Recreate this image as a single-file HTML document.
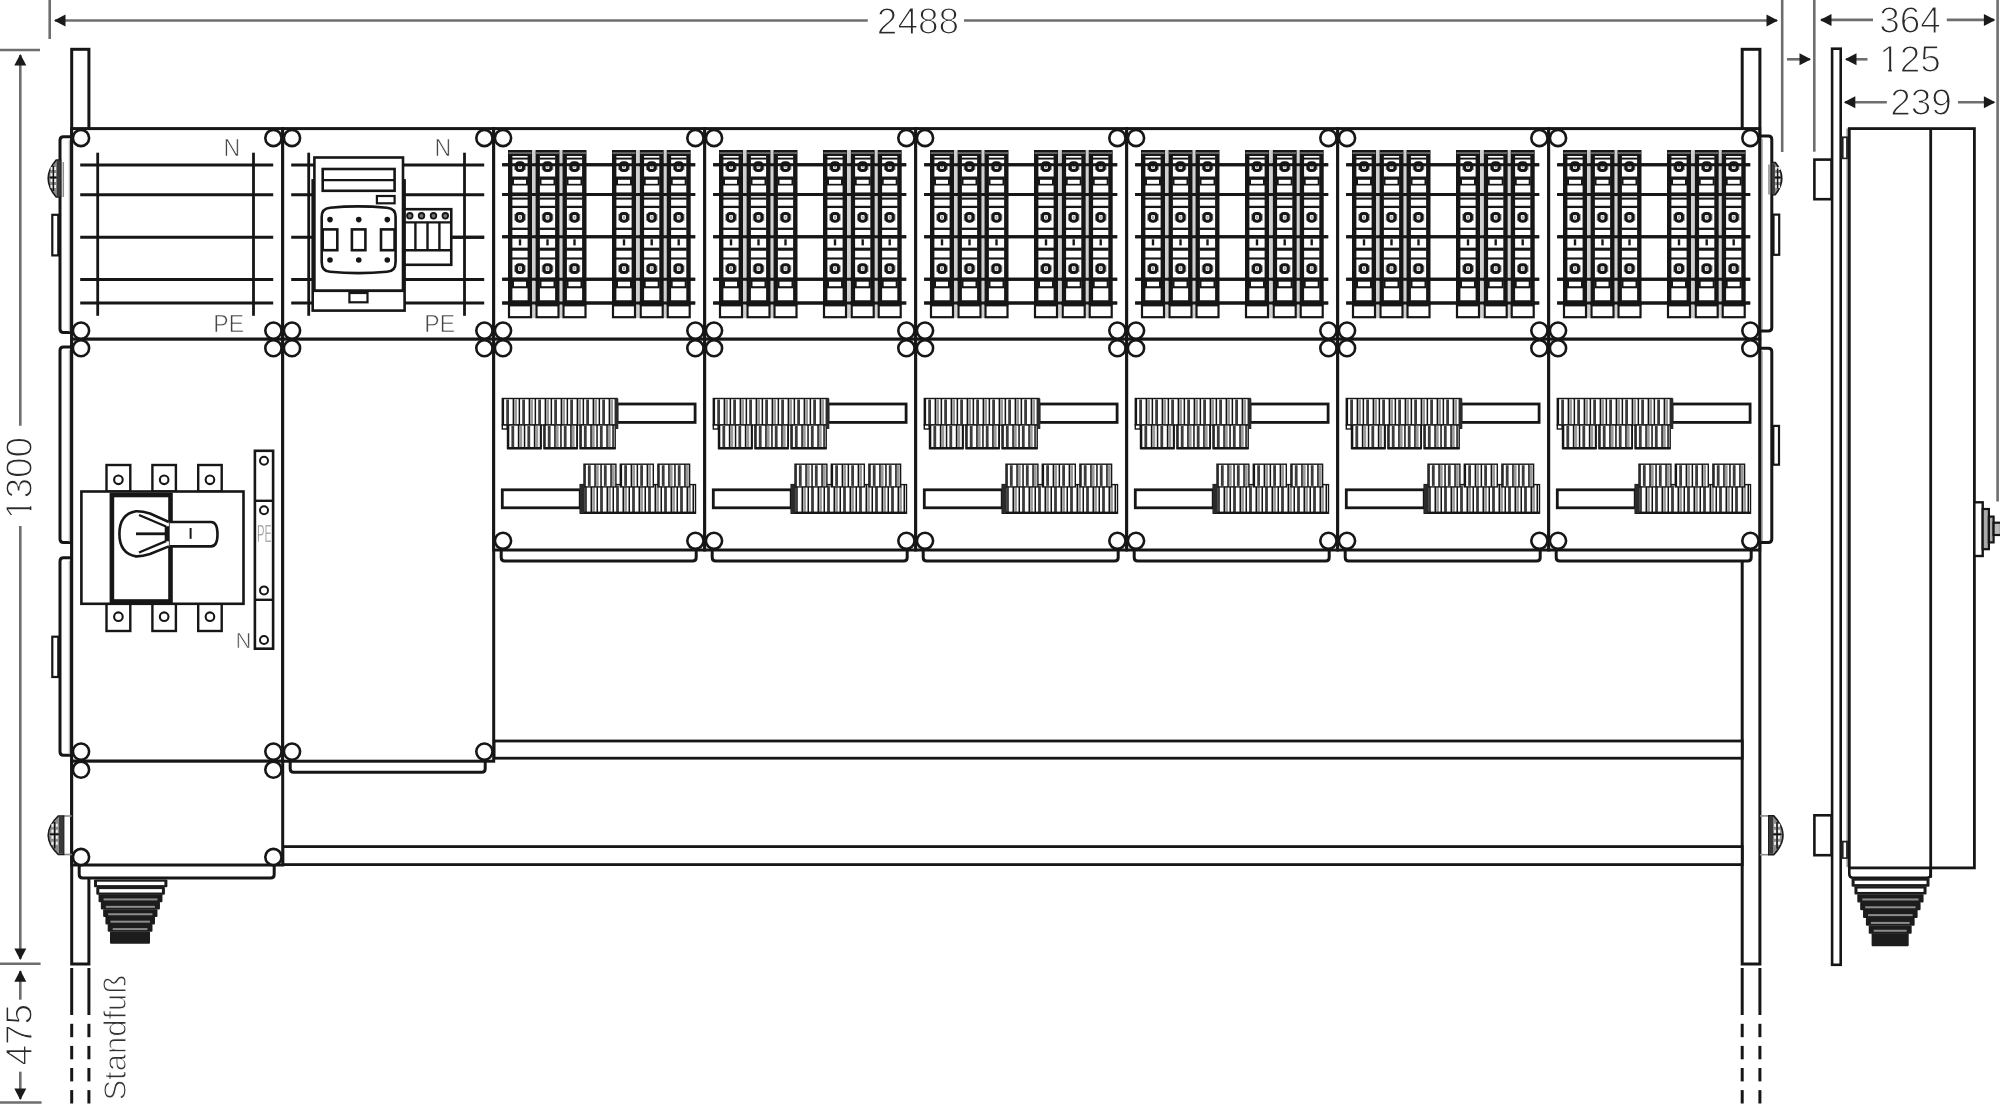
<!DOCTYPE html>
<html><head><meta charset="utf-8"><style>
html,body{margin:0;padding:0;background:#fff;width:2000px;height:1104px;overflow:hidden}
svg{display:block;will-change:transform}
text{font-family:"Liberation Sans",sans-serif}
</style></head><body>
<svg width="2000" height="1104" viewBox="0 0 2000 1104">
<rect x="0" y="0" width="2000" height="1104" fill="#fff"/>
<line x1="49.7" y1="0" x2="49.7" y2="39" stroke="#6e6e6e" stroke-width="2.6" />
<line x1="55" y1="20.5" x2="867.8" y2="20.5" stroke="#6e6e6e" stroke-width="2.6" />
<line x1="964" y1="20.5" x2="1777" y2="20.5" stroke="#6e6e6e" stroke-width="2.6" />
<text x="918" y="33.5" font-size="37" fill="#2a2a2a" text-anchor="middle" stroke="#fff" stroke-width="1.2" >2488</text>
<line x1="1782.2" y1="0" x2="1782.2" y2="152" stroke="#6e6e6e" stroke-width="2.6" />
<line x1="0" y1="50" x2="40" y2="50" stroke="#6e6e6e" stroke-width="2.6" />
<line x1="20.3" y1="55" x2="20.3" y2="425.8" stroke="#6e6e6e" stroke-width="2.6" />
<line x1="20.3" y1="526" x2="20.3" y2="959" stroke="#6e6e6e" stroke-width="2.6" />
<text x="32" y="478" font-size="37" fill="#2a2a2a" text-anchor="middle" stroke="#fff" stroke-width="1.2" transform="rotate(-90 32 478)" >1300</text>
<g transform="rotate(-90 32 478)">
<rect x="-6.63" y="474.57" width="6.59" height="4.63" fill="#fff"/>
<rect x="3.6" y="474.57" width="6.31" height="4.63" fill="#fff"/>
</g>
<line x1="0" y1="963.8" x2="40.6" y2="963.8" stroke="#6e6e6e" stroke-width="2.6" />
<line x1="20.3" y1="971" x2="20.3" y2="999.7" stroke="#6e6e6e" stroke-width="2.6" />
<text x="32.3" y="1034.7" font-size="37" fill="#2a2a2a" text-anchor="middle" stroke="#fff" stroke-width="1.2" transform="rotate(-90 32.3 1034.7)" >475</text>
<line x1="20.3" y1="1071.7" x2="20.3" y2="1099" stroke="#6e6e6e" stroke-width="2.6" />
<line x1="0" y1="1102.5" x2="41.6" y2="1102.5" stroke="#6e6e6e" stroke-width="2.6" />
<text x="125.6" y="1037.7" font-size="31" fill="#333" text-anchor="middle" stroke="#fff" stroke-width="1" transform="rotate(-90 125.6 1037.7)" >Standfu&#223;</text>
<line x1="1787" y1="59.3" x2="1810" y2="59.3" stroke="#6e6e6e" stroke-width="2.6" />
<line x1="1814.3" y1="0" x2="1814.3" y2="151.7" stroke="#6e6e6e" stroke-width="2.6" />
<line x1="1846" y1="59.3" x2="1867.5" y2="59.3" stroke="#6e6e6e" stroke-width="2.6" />
<text x="1910" y="72.4" font-size="37" fill="#2a2a2a" text-anchor="middle" stroke="#fff" stroke-width="1.2" >125</text>
<g>
<rect x="1881.66" y="68.97" width="6.59" height="4.63" fill="#fff"/>
<rect x="1891.89" y="68.97" width="6.31" height="4.63" fill="#fff"/>
</g>
<line x1="1821" y1="19.9" x2="1873" y2="19.9" stroke="#6e6e6e" stroke-width="2.6" />
<text x="1910" y="32.8" font-size="37" fill="#2a2a2a" text-anchor="middle" stroke="#fff" stroke-width="1.2" >364</text>
<line x1="1946.8" y1="19.9" x2="1994" y2="19.9" stroke="#6e6e6e" stroke-width="2.6" />
<line x1="1997.6" y1="0" x2="1997.6" y2="501.6" stroke="#6e6e6e" stroke-width="2.6" />
<line x1="1845" y1="102.3" x2="1886.8" y2="102.3" stroke="#6e6e6e" stroke-width="2.6" />
<text x="1921" y="115.3" font-size="37" fill="#2a2a2a" text-anchor="middle" stroke="#fff" stroke-width="1.2" >239</text>
<line x1="1958" y1="102.3" x2="1994" y2="102.3" stroke="#6e6e6e" stroke-width="2.6" />
<polygon points="54,20.5 65.5,14.5 65.5,26.5" fill="#1a1a1a"/>
<polygon points="1778,20.5 1766.5,14.5 1766.5,26.5" fill="#1a1a1a"/>
<polygon points="20.3,54 14.3,65.5 26.3,65.5" fill="#1a1a1a"/>
<polygon points="20.3,960 14.3,948.5 26.3,948.5" fill="#1a1a1a"/>
<polygon points="20.3,970.3 14.3,981.8 26.3,981.8" fill="#1a1a1a"/>
<polygon points="20.3,1100 14.3,1088.5 26.3,1088.5" fill="#1a1a1a"/>
<polygon points="1811,59.3 1799.5,53.3 1799.5,65.3" fill="#1a1a1a"/>
<polygon points="1845,59.3 1856.5,53.3 1856.5,65.3" fill="#1a1a1a"/>
<polygon points="1820,19.9 1831.5,13.9 1831.5,25.9" fill="#1a1a1a"/>
<polygon points="1995.4,19.9 1983.9,13.9 1983.9,25.9" fill="#1a1a1a"/>
<polygon points="1843.8,102.3 1855.3,96.3 1855.3,108.3" fill="#1a1a1a"/>
<polygon points="1995.4,102.3 1983.9,96.3 1983.9,108.3" fill="#1a1a1a"/>
<rect x="71.7" y="49.3" width="17.2" height="914.7" stroke="#161616" stroke-width="3" fill="#fff" />
<line x1="71.7" y1="968" x2="71.7" y2="1015" stroke="#161616" stroke-width="3" />
<line x1="71.7" y1="1023.8" x2="71.7" y2="1037.2" stroke="#161616" stroke-width="3" />
<line x1="71.7" y1="1045.9" x2="71.7" y2="1059.3" stroke="#161616" stroke-width="3" />
<line x1="71.7" y1="1068" x2="71.7" y2="1081.4" stroke="#161616" stroke-width="3" />
<line x1="71.7" y1="1090.1" x2="71.7" y2="1103.5" stroke="#161616" stroke-width="3" />
<line x1="88.9" y1="968" x2="88.9" y2="1015" stroke="#161616" stroke-width="3" />
<line x1="88.9" y1="1023.8" x2="88.9" y2="1037.2" stroke="#161616" stroke-width="3" />
<line x1="88.9" y1="1045.9" x2="88.9" y2="1059.3" stroke="#161616" stroke-width="3" />
<line x1="88.9" y1="1068" x2="88.9" y2="1081.4" stroke="#161616" stroke-width="3" />
<line x1="88.9" y1="1090.1" x2="88.9" y2="1103.5" stroke="#161616" stroke-width="3" />
<rect x="1742.2" y="49.3" width="17.7" height="914.7" stroke="#161616" stroke-width="3" fill="#fff" />
<line x1="1742.2" y1="968" x2="1742.2" y2="1015" stroke="#161616" stroke-width="3" />
<line x1="1742.2" y1="1023.8" x2="1742.2" y2="1037.2" stroke="#161616" stroke-width="3" />
<line x1="1742.2" y1="1045.9" x2="1742.2" y2="1059.3" stroke="#161616" stroke-width="3" />
<line x1="1742.2" y1="1068" x2="1742.2" y2="1081.4" stroke="#161616" stroke-width="3" />
<line x1="1742.2" y1="1090.1" x2="1742.2" y2="1103.5" stroke="#161616" stroke-width="3" />
<line x1="1759.9" y1="968" x2="1759.9" y2="1015" stroke="#161616" stroke-width="3" />
<line x1="1759.9" y1="1023.8" x2="1759.9" y2="1037.2" stroke="#161616" stroke-width="3" />
<line x1="1759.9" y1="1045.9" x2="1759.9" y2="1059.3" stroke="#161616" stroke-width="3" />
<line x1="1759.9" y1="1068" x2="1759.9" y2="1081.4" stroke="#161616" stroke-width="3" />
<line x1="1759.9" y1="1090.1" x2="1759.9" y2="1103.5" stroke="#161616" stroke-width="3" />
<rect x="494" y="741" width="1248.2" height="17.2" stroke="#161616" stroke-width="2.8" fill="#fff" />
<rect x="282.8" y="846.6" width="1459.4" height="18" stroke="#161616" stroke-width="2.8" fill="#fff" />
<path d="M501.2,550 L501.2,557.5 Q501.2,561 504.7,561 L692.7,561 Q696.2,561 696.2,557.5 L696.2,550" stroke="#161616" stroke-width="3" fill="#fff" />
<path d="M712.2,550 L712.2,557.5 Q712.2,561 715.7,561 L903.7,561 Q907.2,561 907.2,557.5 L907.2,550" stroke="#161616" stroke-width="3" fill="#fff" />
<path d="M923.2,550 L923.2,557.5 Q923.2,561 926.7,561 L1114.7,561 Q1118.2,561 1118.2,557.5 L1118.2,550" stroke="#161616" stroke-width="3" fill="#fff" />
<path d="M1134.2,550 L1134.2,557.5 Q1134.2,561 1137.7,561 L1325.7,561 Q1329.2,561 1329.2,557.5 L1329.2,550" stroke="#161616" stroke-width="3" fill="#fff" />
<path d="M1345.2,550 L1345.2,557.5 Q1345.2,561 1348.7,561 L1536.7,561 Q1540.2,561 1540.2,557.5 L1540.2,550" stroke="#161616" stroke-width="3" fill="#fff" />
<path d="M1556.2,550 L1556.2,557.5 Q1556.2,561 1559.7,561 L1747.7,561 Q1751.2,561 1751.2,557.5 L1751.2,550" stroke="#161616" stroke-width="3" fill="#fff" />
<path d="M290.2,761.2 L290.2,768.7 Q290.2,772.2 293.7,772.2 L481.7,772.2 Q485.2,772.2 485.2,768.7 L485.2,761.2" stroke="#161616" stroke-width="3" fill="#fff" />
<path d="M79.2,865 L79.2,874.5 Q79.2,878 82.7,878 L270.7,878 Q274.2,878 274.2,874.5 L274.2,865" stroke="#161616" stroke-width="3" fill="#fff" />
<rect x="94" y="879.5" width="73.4" height="7.82" fill="#1c1c1c" rx="1"/>
<rect x="97" y="881.7" width="67.4" height="3.4" fill="#fff"/>
<rect x="96.29" y="886.92" width="68.63" height="7.82" fill="#1c1c1c" rx="1"/>
<rect x="99.29" y="889.12" width="62.63" height="3.4" fill="#fff"/>
<rect x="98.57" y="894.34" width="63.86" height="7.82" fill="#1c1c1c" rx="1"/>
<rect x="103.57" y="898.42" width="53.86" height="2.0" fill="#8c8c8c"/>
<rect x="100.86" y="901.76" width="59.09" height="7.82" fill="#1c1c1c" rx="1"/>
<rect x="105.86" y="905.84" width="49.09" height="2.0" fill="#8c8c8c"/>
<rect x="103.14" y="909.17" width="54.31" height="7.82" fill="#1c1c1c" rx="1"/>
<rect x="108.14" y="913.25" width="44.31" height="2.0" fill="#8c8c8c"/>
<rect x="105.43" y="916.59" width="49.54" height="7.82" fill="#1c1c1c" rx="1"/>
<rect x="110.43" y="920.67" width="39.54" height="2.0" fill="#8c8c8c"/>
<rect x="107.71" y="924.01" width="44.77" height="7.82" fill="#1c1c1c" rx="1"/>
<rect x="112.71" y="928.09" width="34.77" height="2.0" fill="#8c8c8c"/>
<rect x="110" y="931.43" width="40" height="12.27" fill="#1c1c1c" rx="1"/>
<rect x="71.7" y="128.6" width="211" height="210.6" stroke="#161616" stroke-width="3" fill="#fff" />
<rect x="282.7" y="128.6" width="211" height="210.6" stroke="#161616" stroke-width="3" fill="#fff" />
<rect x="493.7" y="128.6" width="211" height="210.6" stroke="#161616" stroke-width="3" fill="#fff" />
<rect x="704.7" y="128.6" width="211" height="210.6" stroke="#161616" stroke-width="3" fill="#fff" />
<rect x="915.7" y="128.6" width="211" height="210.6" stroke="#161616" stroke-width="3" fill="#fff" />
<rect x="1126.7" y="128.6" width="211" height="210.6" stroke="#161616" stroke-width="3" fill="#fff" />
<rect x="1337.7" y="128.6" width="211" height="210.6" stroke="#161616" stroke-width="3" fill="#fff" />
<rect x="1548.7" y="128.6" width="211" height="210.6" stroke="#161616" stroke-width="3" fill="#fff" />
<rect x="71.7" y="339.2" width="211" height="422" stroke="#161616" stroke-width="3" fill="#fff" />
<rect x="282.7" y="339.2" width="211" height="422" stroke="#161616" stroke-width="3" fill="#fff" />
<rect x="493.7" y="339.2" width="211" height="210.8" stroke="#161616" stroke-width="3" fill="#fff" />
<rect x="704.7" y="339.2" width="211" height="210.8" stroke="#161616" stroke-width="3" fill="#fff" />
<rect x="915.7" y="339.2" width="211" height="210.8" stroke="#161616" stroke-width="3" fill="#fff" />
<rect x="1126.7" y="339.2" width="211" height="210.8" stroke="#161616" stroke-width="3" fill="#fff" />
<rect x="1337.7" y="339.2" width="211" height="210.8" stroke="#161616" stroke-width="3" fill="#fff" />
<rect x="1548.7" y="339.2" width="211" height="210.8" stroke="#161616" stroke-width="3" fill="#fff" />
<rect x="71.7" y="761.2" width="211" height="103.8" stroke="#161616" stroke-width="3" fill="#fff" />
<path d="M72,136.7 L63.5,136.7 Q60,136.7 60,140.2 L60,329 Q60,332.5 63.5,332.5 L72,332.5" stroke="#161616" stroke-width="3" fill="none" />
<path d="M72,347 L63.5,347 Q60,347 60,350.5 L60,539.1 Q60,542.6 63.5,542.6 L72,542.6" stroke="#161616" stroke-width="3" fill="none" />
<path d="M72,557.8 L63.5,557.8 Q60,557.8 60,561.3 L60,751.7 Q60,755.2 63.5,755.2 L72,755.2" stroke="#161616" stroke-width="3" fill="none" />
<line x1="69.3" y1="139.7" x2="69.3" y2="331.5" stroke="#b0b0b0" stroke-width="1.1" />
<line x1="69.3" y1="350" x2="69.3" y2="541.6" stroke="#b0b0b0" stroke-width="1.1" />
<line x1="69.3" y1="560.8" x2="69.3" y2="754.2" stroke="#b0b0b0" stroke-width="1.1" />
<line x1="1762.4" y1="139" x2="1762.4" y2="330" stroke="#b0b0b0" stroke-width="1.1" />
<path d="M1759.9,136 L1768.3,136 Q1771.8,136 1771.8,139.5 L1771.8,327.5 Q1771.8,331 1768.3,331 L1759.9,331" stroke="#161616" stroke-width="3" fill="none" />
<line x1="1762.4" y1="351.2" x2="1762.4" y2="541.4" stroke="#b0b0b0" stroke-width="1.1" />
<path d="M1759.9,348.2 L1768.3,348.2 Q1771.8,348.2 1771.8,351.7 L1771.8,538.9 Q1771.8,542.4 1768.3,542.4 L1759.9,542.4" stroke="#161616" stroke-width="3" fill="none" />
<rect x="52.3" y="214.8" width="6" height="40.6" stroke="#161616" stroke-width="2.2" fill="#fff" />
<rect x="52.3" y="636.7" width="6" height="40.3" stroke="#161616" stroke-width="2.2" fill="#fff" />
<rect x="1773.5" y="214.6" width="5.7" height="40.2" stroke="#161616" stroke-width="2.2" fill="#fff" />
<rect x="1773.3" y="425.9" width="5.7" height="38.8" stroke="#161616" stroke-width="2.2" fill="#fff" />
<line x1="63.3" y1="162" x2="63.3" y2="197" stroke="#8a8a8a" stroke-width="1.5" />
<path d="M60.5,160 L56.2,160 Q48.2,169.25 48.2,178.5 Q48.2,187.75 56.2,197 L60.5,197 Z" stroke="#1a1a1a" stroke-width="1.6" fill="#8c8c8c" />
<rect x="56.81" y="161" width="3.69" height="35" fill="#3a3a3a"/>
<rect x="53.87" y="167" width="2.2" height="3.0" fill="#f0f0f0"/>
<rect x="50.54" y="167" width="2.2" height="3.0" fill="#f0f0f0"/>
<rect x="53.87" y="173" width="2.2" height="3.0" fill="#f0f0f0"/>
<rect x="50.54" y="173" width="2.2" height="3.0" fill="#f0f0f0"/>
<rect x="53.87" y="179" width="2.2" height="3.0" fill="#f0f0f0"/>
<rect x="50.54" y="179" width="2.2" height="3.0" fill="#f0f0f0"/>
<rect x="53.87" y="185" width="2.2" height="3.0" fill="#f0f0f0"/>
<rect x="50.54" y="185" width="2.2" height="3.0" fill="#f0f0f0"/>
<line x1="53.37" y1="166" x2="53.37" y2="191" stroke="#111" stroke-width="1.5" />
<line x1="56.81" y1="177.5" x2="49.43" y2="177.5" stroke="#111" stroke-width="1.6" />
<line x1="63.6" y1="816" x2="71.7" y2="816" stroke="#8a8a8a" stroke-width="1.6" />
<line x1="63.6" y1="854.5" x2="71.7" y2="854.5" stroke="#8a8a8a" stroke-width="1.6" />
<path d="M63.6,816 L58.21,816 Q48.2,825.62 48.2,835.25 Q48.2,844.88 58.21,854.5 L63.6,854.5 Z" stroke="#1a1a1a" stroke-width="1.6" fill="#8c8c8c" />
<rect x="58.98" y="817" width="4.62" height="36.5" fill="#3a3a3a"/>
<rect x="55.57" y="823.75" width="2.2" height="3.0" fill="#f0f0f0"/>
<rect x="51.41" y="823.75" width="2.2" height="3.0" fill="#f0f0f0"/>
<rect x="55.57" y="829.75" width="2.2" height="3.0" fill="#f0f0f0"/>
<rect x="51.41" y="829.75" width="2.2" height="3.0" fill="#f0f0f0"/>
<rect x="55.57" y="835.75" width="2.2" height="3.0" fill="#f0f0f0"/>
<rect x="51.41" y="835.75" width="2.2" height="3.0" fill="#f0f0f0"/>
<rect x="55.57" y="841.75" width="2.2" height="3.0" fill="#f0f0f0"/>
<rect x="51.41" y="841.75" width="2.2" height="3.0" fill="#f0f0f0"/>
<line x1="54.67" y1="822" x2="54.67" y2="848.5" stroke="#111" stroke-width="1.5" />
<line x1="58.98" y1="834.25" x2="49.74" y2="834.25" stroke="#111" stroke-width="1.6" />
<line x1="1769" y1="164.5" x2="1769" y2="194.6" stroke="#8a8a8a" stroke-width="1.5" />
<path d="M1771.8,162.5 L1775.3,162.5 Q1781.8,170.53 1781.8,178.55 Q1781.8,186.58 1775.3,194.6 L1771.8,194.6 Z" stroke="#1a1a1a" stroke-width="1.6" fill="#8c8c8c" />
<rect x="1771.8" y="163.5" width="3" height="30.1" fill="#3a3a3a"/>
<rect x="1775.2" y="167.05" width="2.2" height="3.0" fill="#f0f0f0"/>
<rect x="1777.9" y="167.05" width="2.2" height="3.0" fill="#f0f0f0"/>
<rect x="1775.2" y="173.05" width="2.2" height="3.0" fill="#f0f0f0"/>
<rect x="1777.9" y="173.05" width="2.2" height="3.0" fill="#f0f0f0"/>
<rect x="1775.2" y="179.05" width="2.2" height="3.0" fill="#f0f0f0"/>
<rect x="1777.9" y="179.05" width="2.2" height="3.0" fill="#f0f0f0"/>
<rect x="1775.2" y="185.05" width="2.2" height="3.0" fill="#f0f0f0"/>
<rect x="1777.9" y="185.05" width="2.2" height="3.0" fill="#f0f0f0"/>
<line x1="1777.6" y1="168.5" x2="1777.6" y2="188.6" stroke="#111" stroke-width="1.5" />
<line x1="1774.8" y1="177.55" x2="1780.8" y2="177.55" stroke="#111" stroke-width="1.6" />
<line x1="1759.9" y1="815.9" x2="1768.8" y2="815.9" stroke="#8a8a8a" stroke-width="1.6" />
<line x1="1759.9" y1="854.7" x2="1768.8" y2="854.7" stroke="#8a8a8a" stroke-width="1.6" />
<path d="M1768.8,815.9 L1773.77,815.9 Q1783,825.6 1783,835.3 Q1783,845 1773.77,854.7 L1768.8,854.7 Z" stroke="#1a1a1a" stroke-width="1.6" fill="#8c8c8c" />
<rect x="1768.8" y="816.9" width="4.26" height="36.8" fill="#3a3a3a"/>
<rect x="1774.09" y="823.8" width="2.2" height="3.0" fill="#f0f0f0"/>
<rect x="1777.92" y="823.8" width="2.2" height="3.0" fill="#f0f0f0"/>
<rect x="1774.09" y="829.8" width="2.2" height="3.0" fill="#f0f0f0"/>
<rect x="1777.92" y="829.8" width="2.2" height="3.0" fill="#f0f0f0"/>
<rect x="1774.09" y="835.8" width="2.2" height="3.0" fill="#f0f0f0"/>
<rect x="1777.92" y="835.8" width="2.2" height="3.0" fill="#f0f0f0"/>
<rect x="1774.09" y="841.8" width="2.2" height="3.0" fill="#f0f0f0"/>
<rect x="1777.92" y="841.8" width="2.2" height="3.0" fill="#f0f0f0"/>
<line x1="1777.04" y1="821.9" x2="1777.04" y2="848.7" stroke="#111" stroke-width="1.5" />
<line x1="1773.06" y1="834.3" x2="1781.58" y2="834.3" stroke="#111" stroke-width="1.6" />
<line x1="80.2" y1="165" x2="273.2" y2="165" stroke="#161616" stroke-width="3" />
<line x1="80.2" y1="194.8" x2="273.2" y2="194.8" stroke="#161616" stroke-width="3" />
<line x1="80.2" y1="237.2" x2="273.2" y2="237.2" stroke="#161616" stroke-width="3" />
<line x1="80.2" y1="279.6" x2="273.2" y2="279.6" stroke="#161616" stroke-width="3" />
<line x1="80.2" y1="303" x2="273.2" y2="303" stroke="#161616" stroke-width="3" />
<line x1="97.7" y1="152.7" x2="97.7" y2="315.8" stroke="#161616" stroke-width="2.8" />
<line x1="253.5" y1="152.7" x2="253.5" y2="315.8" stroke="#161616" stroke-width="2.8" />
<text x="231.7" y="156.3" font-size="23" fill="#444" text-anchor="middle" stroke="#fff" stroke-width="0.6" >N</text>
<text x="228.7" y="332.3" font-size="23" fill="#444" text-anchor="middle" stroke="#fff" stroke-width="0.6" >PE</text>
<line x1="291.2" y1="165" x2="484.2" y2="165" stroke="#161616" stroke-width="3" />
<line x1="291.2" y1="194.8" x2="484.2" y2="194.8" stroke="#161616" stroke-width="3" />
<line x1="291.2" y1="237.2" x2="484.2" y2="237.2" stroke="#161616" stroke-width="3" />
<line x1="291.2" y1="279.6" x2="484.2" y2="279.6" stroke="#161616" stroke-width="3" />
<line x1="291.2" y1="303" x2="484.2" y2="303" stroke="#161616" stroke-width="3" />
<line x1="308.7" y1="152.7" x2="308.7" y2="315.8" stroke="#161616" stroke-width="2.8" />
<line x1="464.5" y1="152.7" x2="464.5" y2="315.8" stroke="#161616" stroke-width="2.8" />
<text x="442.7" y="156.3" font-size="23" fill="#444" text-anchor="middle" stroke="#fff" stroke-width="0.6" >N</text>
<text x="439.7" y="332.3" font-size="23" fill="#444" text-anchor="middle" stroke="#fff" stroke-width="0.6" >PE</text>
<rect x="312.7" y="180.4" width="91.9" height="130.2" stroke="#161616" stroke-width="2.6" fill="#fff" />
<rect x="314.4" y="157.5" width="88.6" height="133.3" stroke="#161616" stroke-width="2.6" fill="#fff" />
<line x1="312.7" y1="290.8" x2="404.6" y2="290.8" stroke="#161616" stroke-width="2.6" />
<rect x="322.7" y="169" width="71.9" height="21.8" stroke="#161616" stroke-width="2.6" fill="none" />
<line x1="322.7" y1="180.2" x2="394.6" y2="180.2" stroke="#161616" stroke-width="2.2" />
<rect x="376.9" y="196" width="17.7" height="7.3" stroke="#161616" stroke-width="2.2" fill="none" />
<path d="M330,207.8 Q358,205 387,207.8 Q395.6,208.5 395.6,217 L395.6,262 Q395.6,271.5 387,271.8 Q358,274.5 330,271.8 Q321.7,271.5 321.7,262 L321.7,217 Q321.7,208.5 330,207.8 Z" stroke="#161616" stroke-width="2.6" fill="#fff" />
<circle cx="330" cy="219.6" r="2.8" fill="#161616"/>
<circle cx="330" cy="260" r="2.8" fill="#161616"/>
<circle cx="358.75" cy="219.6" r="2.8" fill="#161616"/>
<circle cx="358.75" cy="260" r="2.8" fill="#161616"/>
<circle cx="387.3" cy="219.6" r="2.8" fill="#161616"/>
<circle cx="387.3" cy="260" r="2.8" fill="#161616"/>
<rect x="322.7" y="229.4" width="14.6" height="20.8" stroke="#161616" stroke-width="2.6" fill="none" />
<rect x="351.9" y="229.4" width="13.5" height="20.8" stroke="#161616" stroke-width="2.6" fill="none" />
<rect x="381" y="229.4" width="13.6" height="20.8" stroke="#161616" stroke-width="2.6" fill="none" />
<rect x="349.4" y="293" width="18.1" height="9.3" stroke="#161616" stroke-width="2.2" fill="none" />
<rect x="404.6" y="209.2" width="46.65" height="55.6" stroke="#161616" stroke-width="2.6" fill="#fff" />
<line x1="404.6" y1="222.3" x2="451.25" y2="222.3" stroke="#161616" stroke-width="2.2" />
<line x1="404.6" y1="250.2" x2="451.25" y2="250.2" stroke="#161616" stroke-width="2.4" />
<line x1="415.4" y1="222.3" x2="415.4" y2="250.2" stroke="#161616" stroke-width="2.4" />
<line x1="427.5" y1="222.3" x2="427.5" y2="250.2" stroke="#161616" stroke-width="2.4" />
<line x1="439.4" y1="222.3" x2="439.4" y2="250.2" stroke="#161616" stroke-width="2.4" />
<circle cx="409.8" cy="215.8" r="2.8" stroke="#161616" stroke-width="1.8" fill="#777"/>
<circle cx="421.5" cy="215.8" r="2.8" stroke="#161616" stroke-width="1.8" fill="#777"/>
<circle cx="433.5" cy="215.8" r="2.8" stroke="#161616" stroke-width="1.8" fill="#777"/>
<circle cx="445.3" cy="215.8" r="2.8" stroke="#161616" stroke-width="1.8" fill="#777"/>
<line x1="451.25" y1="237.2" x2="484.2" y2="237.2" stroke="#161616" stroke-width="3" />
<line x1="502.2" y1="164.8" x2="695.2" y2="164.8" stroke="#161616" stroke-width="3" />
<line x1="502.2" y1="194.5" x2="695.2" y2="194.5" stroke="#161616" stroke-width="3" />
<line x1="502.2" y1="236.8" x2="695.2" y2="236.8" stroke="#161616" stroke-width="3" />
<line x1="502.2" y1="279.3" x2="695.2" y2="279.3" stroke="#161616" stroke-width="3" />
<line x1="502.2" y1="303" x2="695.2" y2="303" stroke="#161616" stroke-width="3" />
<rect x="532" y="150" width="3" height="168" fill="#d0d0d0"/>
<rect x="559.5" y="150" width="3" height="168" fill="#d0d0d0"/>
<rect x="636" y="150" width="3" height="168" fill="#d0d0d0"/>
<rect x="663.7" y="150" width="3" height="168" fill="#d0d0d0"/>
<rect x="508" y="150" width="24" height="155.3" fill="#161616"/>
<rect x="512.4" y="156" width="15.2" height="144.5" fill="#fff"/>
<rect x="508.5" y="152.3" width="23" height="1.5" fill="#7a7a7a"/>
<rect x="512" y="157.65" width="16" height="1.9" fill="#161616"/>
<rect x="514.2" y="163.4" width="11.6" height="6.6" fill="#888"/>
<rect x="516.6" y="162.8" width="6.8" height="7.8" rx="2.6" stroke="#161616" stroke-width="3.0" fill="#fff"/>
<rect x="519" y="165.1" width="2" height="3.2" fill="#aaa"/>
<rect x="512" y="164.55" width="16" height="0.5" fill="#161616"/>
<rect x="512" y="176.5" width="16" height="9" fill="#161616"/>
<rect x="514" y="179.8" width="12" height="4" fill="#fff"/>
<rect x="512" y="192.45" width="16" height="3.7" fill="#161616"/>
<rect x="512" y="197.55" width="16" height="2.1" fill="#161616"/>
<rect x="512" y="205.75" width="16" height="2.3" fill="#161616"/>
<rect x="514.2" y="214" width="11.6" height="6.6" fill="#888"/>
<rect x="516.6" y="213.4" width="6.8" height="7.8" rx="2.6" stroke="#161616" stroke-width="3.0" fill="#fff"/>
<rect x="519" y="215.7" width="2" height="3.2" fill="#aaa"/>
<rect x="512" y="227.65" width="16" height="2.3" fill="#161616"/>
<rect x="512" y="235.05" width="16" height="3.5" fill="#161616"/>
<rect x="518.8" y="239.3" width="2.4" height="6.1" fill="#161616"/>
<rect x="512" y="247.65" width="16" height="3.1" fill="#161616"/>
<rect x="512" y="257.45" width="16" height="2.1" fill="#161616"/>
<rect x="514.2" y="265.3" width="11.6" height="6.6" fill="#888"/>
<rect x="516.6" y="264.7" width="6.8" height="7.8" rx="2.6" stroke="#161616" stroke-width="3.0" fill="#fff"/>
<rect x="519" y="267" width="2" height="3.2" fill="#aaa"/>
<rect x="512" y="277.5" width="16" height="10.8" fill="#161616"/>
<rect x="514" y="281.7" width="12" height="4.5" fill="#fff"/>
<rect x="512" y="300.5" width="16" height="5" fill="#161616"/>
<rect x="509" y="305.3" width="22" height="11.9" stroke="#161616" stroke-width="2.2" fill="#fff" />
<rect x="535.5" y="150" width="24" height="155.3" fill="#161616"/>
<rect x="539.9" y="156" width="15.2" height="144.5" fill="#fff"/>
<rect x="536" y="152.3" width="23" height="1.5" fill="#7a7a7a"/>
<rect x="539.5" y="157.65" width="16" height="1.9" fill="#161616"/>
<rect x="541.7" y="163.4" width="11.6" height="6.6" fill="#888"/>
<rect x="544.1" y="162.8" width="6.8" height="7.8" rx="2.6" stroke="#161616" stroke-width="3.0" fill="#fff"/>
<rect x="546.5" y="165.1" width="2" height="3.2" fill="#aaa"/>
<rect x="539.5" y="164.55" width="16" height="0.5" fill="#161616"/>
<rect x="539.5" y="176.5" width="16" height="9" fill="#161616"/>
<rect x="541.5" y="179.8" width="12" height="4" fill="#fff"/>
<rect x="539.5" y="192.45" width="16" height="3.7" fill="#161616"/>
<rect x="539.5" y="197.55" width="16" height="2.1" fill="#161616"/>
<rect x="539.5" y="205.75" width="16" height="2.3" fill="#161616"/>
<rect x="541.7" y="214" width="11.6" height="6.6" fill="#888"/>
<rect x="544.1" y="213.4" width="6.8" height="7.8" rx="2.6" stroke="#161616" stroke-width="3.0" fill="#fff"/>
<rect x="546.5" y="215.7" width="2" height="3.2" fill="#aaa"/>
<rect x="539.5" y="227.65" width="16" height="2.3" fill="#161616"/>
<rect x="539.5" y="235.05" width="16" height="3.5" fill="#161616"/>
<rect x="546.3" y="239.3" width="2.4" height="6.1" fill="#161616"/>
<rect x="539.5" y="247.65" width="16" height="3.1" fill="#161616"/>
<rect x="539.5" y="257.45" width="16" height="2.1" fill="#161616"/>
<rect x="541.7" y="265.3" width="11.6" height="6.6" fill="#888"/>
<rect x="544.1" y="264.7" width="6.8" height="7.8" rx="2.6" stroke="#161616" stroke-width="3.0" fill="#fff"/>
<rect x="546.5" y="267" width="2" height="3.2" fill="#aaa"/>
<rect x="539.5" y="277.5" width="16" height="10.8" fill="#161616"/>
<rect x="541.5" y="281.7" width="12" height="4.5" fill="#fff"/>
<rect x="539.5" y="300.5" width="16" height="5" fill="#161616"/>
<rect x="536.5" y="305.3" width="22" height="11.9" stroke="#161616" stroke-width="2.2" fill="#fff" />
<rect x="562.5" y="150" width="24" height="155.3" fill="#161616"/>
<rect x="566.9" y="156" width="15.2" height="144.5" fill="#fff"/>
<rect x="563" y="152.3" width="23" height="1.5" fill="#7a7a7a"/>
<rect x="566.5" y="157.65" width="16" height="1.9" fill="#161616"/>
<rect x="568.7" y="163.4" width="11.6" height="6.6" fill="#888"/>
<rect x="571.1" y="162.8" width="6.8" height="7.8" rx="2.6" stroke="#161616" stroke-width="3.0" fill="#fff"/>
<rect x="573.5" y="165.1" width="2" height="3.2" fill="#aaa"/>
<rect x="566.5" y="164.55" width="16" height="0.5" fill="#161616"/>
<rect x="566.5" y="176.5" width="16" height="9" fill="#161616"/>
<rect x="568.5" y="179.8" width="12" height="4" fill="#fff"/>
<rect x="566.5" y="192.45" width="16" height="3.7" fill="#161616"/>
<rect x="566.5" y="197.55" width="16" height="2.1" fill="#161616"/>
<rect x="566.5" y="205.75" width="16" height="2.3" fill="#161616"/>
<rect x="568.7" y="214" width="11.6" height="6.6" fill="#888"/>
<rect x="571.1" y="213.4" width="6.8" height="7.8" rx="2.6" stroke="#161616" stroke-width="3.0" fill="#fff"/>
<rect x="573.5" y="215.7" width="2" height="3.2" fill="#aaa"/>
<rect x="566.5" y="227.65" width="16" height="2.3" fill="#161616"/>
<rect x="566.5" y="235.05" width="16" height="3.5" fill="#161616"/>
<rect x="573.3" y="239.3" width="2.4" height="6.1" fill="#161616"/>
<rect x="566.5" y="247.65" width="16" height="3.1" fill="#161616"/>
<rect x="566.5" y="257.45" width="16" height="2.1" fill="#161616"/>
<rect x="568.7" y="265.3" width="11.6" height="6.6" fill="#888"/>
<rect x="571.1" y="264.7" width="6.8" height="7.8" rx="2.6" stroke="#161616" stroke-width="3.0" fill="#fff"/>
<rect x="573.5" y="267" width="2" height="3.2" fill="#aaa"/>
<rect x="566.5" y="277.5" width="16" height="10.8" fill="#161616"/>
<rect x="568.5" y="281.7" width="12" height="4.5" fill="#fff"/>
<rect x="566.5" y="300.5" width="16" height="5" fill="#161616"/>
<rect x="563.5" y="305.3" width="22" height="11.9" stroke="#161616" stroke-width="2.2" fill="#fff" />
<rect x="612" y="150" width="24" height="155.3" fill="#161616"/>
<rect x="616.4" y="156" width="15.2" height="144.5" fill="#fff"/>
<rect x="612.5" y="152.3" width="23" height="1.5" fill="#7a7a7a"/>
<rect x="616" y="157.65" width="16" height="1.9" fill="#161616"/>
<rect x="618.2" y="163.4" width="11.6" height="6.6" fill="#888"/>
<rect x="620.6" y="162.8" width="6.8" height="7.8" rx="2.6" stroke="#161616" stroke-width="3.0" fill="#fff"/>
<rect x="623" y="165.1" width="2" height="3.2" fill="#aaa"/>
<rect x="616" y="164.55" width="16" height="0.5" fill="#161616"/>
<rect x="616" y="176.5" width="16" height="9" fill="#161616"/>
<rect x="618" y="179.8" width="12" height="4" fill="#fff"/>
<rect x="616" y="192.45" width="16" height="3.7" fill="#161616"/>
<rect x="616" y="197.55" width="16" height="2.1" fill="#161616"/>
<rect x="616" y="205.75" width="16" height="2.3" fill="#161616"/>
<rect x="618.2" y="214" width="11.6" height="6.6" fill="#888"/>
<rect x="620.6" y="213.4" width="6.8" height="7.8" rx="2.6" stroke="#161616" stroke-width="3.0" fill="#fff"/>
<rect x="623" y="215.7" width="2" height="3.2" fill="#aaa"/>
<rect x="616" y="227.65" width="16" height="2.3" fill="#161616"/>
<rect x="616" y="235.05" width="16" height="3.5" fill="#161616"/>
<rect x="622.8" y="239.3" width="2.4" height="6.1" fill="#161616"/>
<rect x="616" y="247.65" width="16" height="3.1" fill="#161616"/>
<rect x="616" y="257.45" width="16" height="2.1" fill="#161616"/>
<rect x="618.2" y="265.3" width="11.6" height="6.6" fill="#888"/>
<rect x="620.6" y="264.7" width="6.8" height="7.8" rx="2.6" stroke="#161616" stroke-width="3.0" fill="#fff"/>
<rect x="623" y="267" width="2" height="3.2" fill="#aaa"/>
<rect x="616" y="277.5" width="16" height="10.8" fill="#161616"/>
<rect x="618" y="281.7" width="12" height="4.5" fill="#fff"/>
<rect x="616" y="300.5" width="16" height="5" fill="#161616"/>
<rect x="613" y="305.3" width="22" height="11.9" stroke="#161616" stroke-width="2.2" fill="#fff" />
<rect x="639.7" y="150" width="24" height="155.3" fill="#161616"/>
<rect x="644.1" y="156" width="15.2" height="144.5" fill="#fff"/>
<rect x="640.2" y="152.3" width="23" height="1.5" fill="#7a7a7a"/>
<rect x="643.7" y="157.65" width="16" height="1.9" fill="#161616"/>
<rect x="645.9" y="163.4" width="11.6" height="6.6" fill="#888"/>
<rect x="648.3" y="162.8" width="6.8" height="7.8" rx="2.6" stroke="#161616" stroke-width="3.0" fill="#fff"/>
<rect x="650.7" y="165.1" width="2" height="3.2" fill="#aaa"/>
<rect x="643.7" y="164.55" width="16" height="0.5" fill="#161616"/>
<rect x="643.7" y="176.5" width="16" height="9" fill="#161616"/>
<rect x="645.7" y="179.8" width="12" height="4" fill="#fff"/>
<rect x="643.7" y="192.45" width="16" height="3.7" fill="#161616"/>
<rect x="643.7" y="197.55" width="16" height="2.1" fill="#161616"/>
<rect x="643.7" y="205.75" width="16" height="2.3" fill="#161616"/>
<rect x="645.9" y="214" width="11.6" height="6.6" fill="#888"/>
<rect x="648.3" y="213.4" width="6.8" height="7.8" rx="2.6" stroke="#161616" stroke-width="3.0" fill="#fff"/>
<rect x="650.7" y="215.7" width="2" height="3.2" fill="#aaa"/>
<rect x="643.7" y="227.65" width="16" height="2.3" fill="#161616"/>
<rect x="643.7" y="235.05" width="16" height="3.5" fill="#161616"/>
<rect x="650.5" y="239.3" width="2.4" height="6.1" fill="#161616"/>
<rect x="643.7" y="247.65" width="16" height="3.1" fill="#161616"/>
<rect x="643.7" y="257.45" width="16" height="2.1" fill="#161616"/>
<rect x="645.9" y="265.3" width="11.6" height="6.6" fill="#888"/>
<rect x="648.3" y="264.7" width="6.8" height="7.8" rx="2.6" stroke="#161616" stroke-width="3.0" fill="#fff"/>
<rect x="650.7" y="267" width="2" height="3.2" fill="#aaa"/>
<rect x="643.7" y="277.5" width="16" height="10.8" fill="#161616"/>
<rect x="645.7" y="281.7" width="12" height="4.5" fill="#fff"/>
<rect x="643.7" y="300.5" width="16" height="5" fill="#161616"/>
<rect x="640.7" y="305.3" width="22" height="11.9" stroke="#161616" stroke-width="2.2" fill="#fff" />
<rect x="666.7" y="150" width="24" height="155.3" fill="#161616"/>
<rect x="671.1" y="156" width="15.2" height="144.5" fill="#fff"/>
<rect x="667.2" y="152.3" width="23" height="1.5" fill="#7a7a7a"/>
<rect x="670.7" y="157.65" width="16" height="1.9" fill="#161616"/>
<rect x="672.9" y="163.4" width="11.6" height="6.6" fill="#888"/>
<rect x="675.3" y="162.8" width="6.8" height="7.8" rx="2.6" stroke="#161616" stroke-width="3.0" fill="#fff"/>
<rect x="677.7" y="165.1" width="2" height="3.2" fill="#aaa"/>
<rect x="670.7" y="164.55" width="16" height="0.5" fill="#161616"/>
<rect x="670.7" y="176.5" width="16" height="9" fill="#161616"/>
<rect x="672.7" y="179.8" width="12" height="4" fill="#fff"/>
<rect x="670.7" y="192.45" width="16" height="3.7" fill="#161616"/>
<rect x="670.7" y="197.55" width="16" height="2.1" fill="#161616"/>
<rect x="670.7" y="205.75" width="16" height="2.3" fill="#161616"/>
<rect x="672.9" y="214" width="11.6" height="6.6" fill="#888"/>
<rect x="675.3" y="213.4" width="6.8" height="7.8" rx="2.6" stroke="#161616" stroke-width="3.0" fill="#fff"/>
<rect x="677.7" y="215.7" width="2" height="3.2" fill="#aaa"/>
<rect x="670.7" y="227.65" width="16" height="2.3" fill="#161616"/>
<rect x="670.7" y="235.05" width="16" height="3.5" fill="#161616"/>
<rect x="677.5" y="239.3" width="2.4" height="6.1" fill="#161616"/>
<rect x="670.7" y="247.65" width="16" height="3.1" fill="#161616"/>
<rect x="670.7" y="257.45" width="16" height="2.1" fill="#161616"/>
<rect x="672.9" y="265.3" width="11.6" height="6.6" fill="#888"/>
<rect x="675.3" y="264.7" width="6.8" height="7.8" rx="2.6" stroke="#161616" stroke-width="3.0" fill="#fff"/>
<rect x="677.7" y="267" width="2" height="3.2" fill="#aaa"/>
<rect x="670.7" y="277.5" width="16" height="10.8" fill="#161616"/>
<rect x="672.7" y="281.7" width="12" height="4.5" fill="#fff"/>
<rect x="670.7" y="300.5" width="16" height="5" fill="#161616"/>
<rect x="667.7" y="305.3" width="22" height="11.9" stroke="#161616" stroke-width="2.2" fill="#fff" />
<line x1="502.2" y1="164.8" x2="695.2" y2="164.8" stroke="#161616" stroke-width="3" />
<line x1="502.2" y1="194.5" x2="695.2" y2="194.5" stroke="#161616" stroke-width="3" />
<line x1="502.2" y1="236.8" x2="695.2" y2="236.8" stroke="#161616" stroke-width="3" />
<line x1="502.2" y1="279.3" x2="695.2" y2="279.3" stroke="#161616" stroke-width="3" />
<line x1="502.2" y1="303" x2="695.2" y2="303" stroke="#161616" stroke-width="3" />
<rect x="617" y="404" width="78.1" height="18.4" stroke="#161616" stroke-width="2.8" fill="#fff" />
<rect x="502.3" y="398.5" width="114.7" height="26.5" fill="#fff"/>
<rect x="506.2" y="399.5" width="2.8" height="24.5" fill="#3c3c3c"/>
<rect x="502.6" y="398.5" width="1.5" height="26.5" fill="#141414"/>
<rect x="514.3" y="399.5" width="2.7" height="24.5" fill="#9a9a9a"/>
<rect x="512.6" y="398.5" width="1.5" height="26.5" fill="#141414"/>
<rect x="522.2" y="399.5" width="2.8" height="24.5" fill="#3c3c3c"/>
<rect x="518.6" y="398.5" width="1.5" height="26.5" fill="#141414"/>
<rect x="530.3" y="399.5" width="2.7" height="24.5" fill="#9a9a9a"/>
<rect x="528.6" y="398.5" width="1.5" height="26.5" fill="#141414"/>
<rect x="538.2" y="399.5" width="2.8" height="24.5" fill="#3c3c3c"/>
<rect x="534.6" y="398.5" width="1.5" height="26.5" fill="#141414"/>
<rect x="546.3" y="399.5" width="2.7" height="24.5" fill="#9a9a9a"/>
<rect x="544.6" y="398.5" width="1.5" height="26.5" fill="#141414"/>
<rect x="554.2" y="399.5" width="2.8" height="24.5" fill="#3c3c3c"/>
<rect x="550.6" y="398.5" width="1.5" height="26.5" fill="#141414"/>
<rect x="562.3" y="399.5" width="2.7" height="24.5" fill="#9a9a9a"/>
<rect x="560.6" y="398.5" width="1.5" height="26.5" fill="#141414"/>
<rect x="570.2" y="399.5" width="2.8" height="24.5" fill="#3c3c3c"/>
<rect x="566.6" y="398.5" width="1.5" height="26.5" fill="#141414"/>
<rect x="578.3" y="399.5" width="2.7" height="24.5" fill="#9a9a9a"/>
<rect x="576.6" y="398.5" width="1.5" height="26.5" fill="#141414"/>
<rect x="586.2" y="399.5" width="2.8" height="24.5" fill="#3c3c3c"/>
<rect x="582.6" y="398.5" width="1.5" height="26.5" fill="#141414"/>
<rect x="594.3" y="399.5" width="2.7" height="24.5" fill="#9a9a9a"/>
<rect x="592.6" y="398.5" width="1.5" height="26.5" fill="#141414"/>
<rect x="602.2" y="399.5" width="2.8" height="24.5" fill="#3c3c3c"/>
<rect x="598.6" y="398.5" width="1.5" height="26.5" fill="#141414"/>
<rect x="610.3" y="399.5" width="2.7" height="24.5" fill="#9a9a9a"/>
<rect x="608.6" y="398.5" width="1.5" height="26.5" fill="#141414"/>
<rect x="618.2" y="399.5" width="-2" height="24.5" fill="#3c3c3c"/>
<rect x="614.6" y="398.5" width="1.5" height="26.5" fill="#141414"/>
<rect x="502.3" y="398.5" width="114.7" height="26.5" stroke="#161616" stroke-width="1.4" fill="none" />
<rect x="502.3" y="425" width="4.9" height="4" stroke="#161616" stroke-width="1.4" fill="#fff" />
<rect x="507.5" y="425" width="33.7" height="23.6" fill="#fff"/>
<rect x="511.4" y="426" width="2.8" height="21.6" fill="#3c3c3c"/>
<rect x="507.8" y="425" width="1.5" height="23.6" fill="#141414"/>
<rect x="519.5" y="426" width="2.7" height="21.6" fill="#9a9a9a"/>
<rect x="517.8" y="425" width="1.5" height="23.6" fill="#141414"/>
<rect x="527.4" y="426" width="2.8" height="21.6" fill="#3c3c3c"/>
<rect x="523.8" y="425" width="1.5" height="23.6" fill="#141414"/>
<rect x="535.5" y="426" width="2.7" height="21.6" fill="#9a9a9a"/>
<rect x="533.8" y="425" width="1.5" height="23.6" fill="#141414"/>
<rect x="543.4" y="426" width="-3" height="21.6" fill="#3c3c3c"/>
<rect x="539.8" y="425" width="1.4" height="23.6" fill="#141414"/>
<rect x="507.5" y="425" width="33.7" height="23.6" stroke="#161616" stroke-width="1.4" fill="none" />
<rect x="507.5" y="447" width="33.7" height="2.3" fill="#161616"/>
<rect x="543.9" y="425" width="33.4" height="23.6" fill="#fff"/>
<rect x="547.8" y="426" width="2.8" height="21.6" fill="#3c3c3c"/>
<rect x="544.2" y="425" width="1.5" height="23.6" fill="#141414"/>
<rect x="555.9" y="426" width="2.7" height="21.6" fill="#9a9a9a"/>
<rect x="554.2" y="425" width="1.5" height="23.6" fill="#141414"/>
<rect x="563.8" y="426" width="2.8" height="21.6" fill="#3c3c3c"/>
<rect x="560.2" y="425" width="1.5" height="23.6" fill="#141414"/>
<rect x="571.9" y="426" width="2.7" height="21.6" fill="#9a9a9a"/>
<rect x="570.2" y="425" width="1.5" height="23.6" fill="#141414"/>
<rect x="579.8" y="426" width="-3.3" height="21.6" fill="#3c3c3c"/>
<rect x="576.2" y="425" width="1.1" height="23.6" fill="#141414"/>
<rect x="543.9" y="425" width="33.4" height="23.6" stroke="#161616" stroke-width="1.4" fill="none" />
<rect x="543.9" y="447" width="33.4" height="2.3" fill="#161616"/>
<rect x="580" y="425" width="35.2" height="23.6" fill="#fff"/>
<rect x="583.9" y="426" width="2.8" height="21.6" fill="#3c3c3c"/>
<rect x="580.3" y="425" width="1.5" height="23.6" fill="#141414"/>
<rect x="592" y="426" width="2.7" height="21.6" fill="#9a9a9a"/>
<rect x="590.3" y="425" width="1.5" height="23.6" fill="#141414"/>
<rect x="599.9" y="426" width="2.8" height="21.6" fill="#3c3c3c"/>
<rect x="596.3" y="425" width="1.5" height="23.6" fill="#141414"/>
<rect x="608" y="426" width="2.7" height="21.6" fill="#9a9a9a"/>
<rect x="606.3" y="425" width="1.5" height="23.6" fill="#141414"/>
<rect x="615.9" y="426" width="-1.5" height="21.6" fill="#3c3c3c"/>
<rect x="612.3" y="425" width="1.5" height="23.6" fill="#141414"/>
<rect x="580" y="425" width="35.2" height="23.6" stroke="#161616" stroke-width="1.4" fill="none" />
<rect x="580" y="447" width="35.2" height="2.3" fill="#161616"/>
<rect x="615" y="398.5" width="3.3" height="30.5" fill="#2a2a2a"/>
<rect x="502.3" y="489.8" width="77.9" height="18" stroke="#161616" stroke-width="2.8" fill="#fff" />
<rect x="580.2" y="484.6" width="115.3" height="28.6" fill="#fff"/>
<rect x="584.1" y="485.6" width="2.8" height="26.6" fill="#3c3c3c"/>
<rect x="580.5" y="484.6" width="1.5" height="28.6" fill="#141414"/>
<rect x="592.2" y="485.6" width="2.7" height="26.6" fill="#9a9a9a"/>
<rect x="590.5" y="484.6" width="1.5" height="28.6" fill="#141414"/>
<rect x="600.1" y="485.6" width="2.8" height="26.6" fill="#3c3c3c"/>
<rect x="596.5" y="484.6" width="1.5" height="28.6" fill="#141414"/>
<rect x="608.2" y="485.6" width="2.7" height="26.6" fill="#9a9a9a"/>
<rect x="606.5" y="484.6" width="1.5" height="28.6" fill="#141414"/>
<rect x="616.1" y="485.6" width="2.8" height="26.6" fill="#3c3c3c"/>
<rect x="612.5" y="484.6" width="1.5" height="28.6" fill="#141414"/>
<rect x="624.2" y="485.6" width="2.7" height="26.6" fill="#9a9a9a"/>
<rect x="622.5" y="484.6" width="1.5" height="28.6" fill="#141414"/>
<rect x="632.1" y="485.6" width="2.8" height="26.6" fill="#3c3c3c"/>
<rect x="628.5" y="484.6" width="1.5" height="28.6" fill="#141414"/>
<rect x="640.2" y="485.6" width="2.7" height="26.6" fill="#9a9a9a"/>
<rect x="638.5" y="484.6" width="1.5" height="28.6" fill="#141414"/>
<rect x="648.1" y="485.6" width="2.8" height="26.6" fill="#3c3c3c"/>
<rect x="644.5" y="484.6" width="1.5" height="28.6" fill="#141414"/>
<rect x="656.2" y="485.6" width="2.7" height="26.6" fill="#9a9a9a"/>
<rect x="654.5" y="484.6" width="1.5" height="28.6" fill="#141414"/>
<rect x="664.1" y="485.6" width="2.8" height="26.6" fill="#3c3c3c"/>
<rect x="660.5" y="484.6" width="1.5" height="28.6" fill="#141414"/>
<rect x="672.2" y="485.6" width="2.7" height="26.6" fill="#9a9a9a"/>
<rect x="670.5" y="484.6" width="1.5" height="28.6" fill="#141414"/>
<rect x="680.1" y="485.6" width="2.8" height="26.6" fill="#3c3c3c"/>
<rect x="676.5" y="484.6" width="1.5" height="28.6" fill="#141414"/>
<rect x="688.2" y="485.6" width="2.7" height="26.6" fill="#9a9a9a"/>
<rect x="686.5" y="484.6" width="1.5" height="28.6" fill="#141414"/>
<rect x="696.1" y="485.6" width="-1.4" height="26.6" fill="#3c3c3c"/>
<rect x="692.5" y="484.6" width="1.5" height="28.6" fill="#141414"/>
<rect x="580.2" y="484.6" width="115.3" height="28.6" stroke="#161616" stroke-width="1.4" fill="none" />
<rect x="580.2" y="511.6" width="115.3" height="2.3" fill="#161616"/>
<rect x="584" y="464.2" width="31.9" height="22.7" fill="#fff"/>
<rect x="587.9" y="465.2" width="2.8" height="20.7" fill="#3c3c3c"/>
<rect x="584.3" y="464.2" width="1.5" height="22.7" fill="#141414"/>
<rect x="596" y="465.2" width="2.7" height="20.7" fill="#9a9a9a"/>
<rect x="594.3" y="464.2" width="1.5" height="22.7" fill="#141414"/>
<rect x="603.9" y="465.2" width="2.8" height="20.7" fill="#3c3c3c"/>
<rect x="600.3" y="464.2" width="1.5" height="22.7" fill="#141414"/>
<rect x="612" y="465.2" width="2.7" height="20.7" fill="#9a9a9a"/>
<rect x="610.3" y="464.2" width="1.5" height="22.7" fill="#141414"/>
<rect x="584" y="464.2" width="31.9" height="22.7" stroke="#161616" stroke-width="1.4" fill="none" />
<rect x="620.3" y="464.2" width="33" height="22.7" fill="#fff"/>
<rect x="624.2" y="465.2" width="2.8" height="20.7" fill="#3c3c3c"/>
<rect x="620.6" y="464.2" width="1.5" height="22.7" fill="#141414"/>
<rect x="632.3" y="465.2" width="2.7" height="20.7" fill="#9a9a9a"/>
<rect x="630.6" y="464.2" width="1.5" height="22.7" fill="#141414"/>
<rect x="640.2" y="465.2" width="2.8" height="20.7" fill="#3c3c3c"/>
<rect x="636.6" y="464.2" width="1.5" height="22.7" fill="#141414"/>
<rect x="648.3" y="465.2" width="2.7" height="20.7" fill="#9a9a9a"/>
<rect x="646.6" y="464.2" width="1.5" height="22.7" fill="#141414"/>
<rect x="620.3" y="464.2" width="33" height="22.7" stroke="#161616" stroke-width="1.4" fill="none" />
<rect x="657.9" y="464.2" width="31.7" height="22.7" fill="#fff"/>
<rect x="661.8" y="465.2" width="2.8" height="20.7" fill="#3c3c3c"/>
<rect x="658.2" y="464.2" width="1.5" height="22.7" fill="#141414"/>
<rect x="669.9" y="465.2" width="2.7" height="20.7" fill="#9a9a9a"/>
<rect x="668.2" y="464.2" width="1.5" height="22.7" fill="#141414"/>
<rect x="677.8" y="465.2" width="2.8" height="20.7" fill="#3c3c3c"/>
<rect x="674.2" y="464.2" width="1.5" height="22.7" fill="#141414"/>
<rect x="685.9" y="465.2" width="2.7" height="20.7" fill="#9a9a9a"/>
<rect x="684.2" y="464.2" width="1.5" height="22.7" fill="#141414"/>
<rect x="657.9" y="464.2" width="31.7" height="22.7" stroke="#161616" stroke-width="1.4" fill="none" />
<rect x="579.9" y="484.4" width="4.2" height="28.8" fill="#2a2a2a"/>
<line x1="713.2" y1="164.8" x2="906.2" y2="164.8" stroke="#161616" stroke-width="3" />
<line x1="713.2" y1="194.5" x2="906.2" y2="194.5" stroke="#161616" stroke-width="3" />
<line x1="713.2" y1="236.8" x2="906.2" y2="236.8" stroke="#161616" stroke-width="3" />
<line x1="713.2" y1="279.3" x2="906.2" y2="279.3" stroke="#161616" stroke-width="3" />
<line x1="713.2" y1="303" x2="906.2" y2="303" stroke="#161616" stroke-width="3" />
<rect x="743" y="150" width="3" height="168" fill="#d0d0d0"/>
<rect x="770.5" y="150" width="3" height="168" fill="#d0d0d0"/>
<rect x="847" y="150" width="3" height="168" fill="#d0d0d0"/>
<rect x="874.7" y="150" width="3" height="168" fill="#d0d0d0"/>
<rect x="719" y="150" width="24" height="155.3" fill="#161616"/>
<rect x="723.4" y="156" width="15.2" height="144.5" fill="#fff"/>
<rect x="719.5" y="152.3" width="23" height="1.5" fill="#7a7a7a"/>
<rect x="723" y="157.65" width="16" height="1.9" fill="#161616"/>
<rect x="725.2" y="163.4" width="11.6" height="6.6" fill="#888"/>
<rect x="727.6" y="162.8" width="6.8" height="7.8" rx="2.6" stroke="#161616" stroke-width="3.0" fill="#fff"/>
<rect x="730" y="165.1" width="2" height="3.2" fill="#aaa"/>
<rect x="723" y="164.55" width="16" height="0.5" fill="#161616"/>
<rect x="723" y="176.5" width="16" height="9" fill="#161616"/>
<rect x="725" y="179.8" width="12" height="4" fill="#fff"/>
<rect x="723" y="192.45" width="16" height="3.7" fill="#161616"/>
<rect x="723" y="197.55" width="16" height="2.1" fill="#161616"/>
<rect x="723" y="205.75" width="16" height="2.3" fill="#161616"/>
<rect x="725.2" y="214" width="11.6" height="6.6" fill="#888"/>
<rect x="727.6" y="213.4" width="6.8" height="7.8" rx="2.6" stroke="#161616" stroke-width="3.0" fill="#fff"/>
<rect x="730" y="215.7" width="2" height="3.2" fill="#aaa"/>
<rect x="723" y="227.65" width="16" height="2.3" fill="#161616"/>
<rect x="723" y="235.05" width="16" height="3.5" fill="#161616"/>
<rect x="729.8" y="239.3" width="2.4" height="6.1" fill="#161616"/>
<rect x="723" y="247.65" width="16" height="3.1" fill="#161616"/>
<rect x="723" y="257.45" width="16" height="2.1" fill="#161616"/>
<rect x="725.2" y="265.3" width="11.6" height="6.6" fill="#888"/>
<rect x="727.6" y="264.7" width="6.8" height="7.8" rx="2.6" stroke="#161616" stroke-width="3.0" fill="#fff"/>
<rect x="730" y="267" width="2" height="3.2" fill="#aaa"/>
<rect x="723" y="277.5" width="16" height="10.8" fill="#161616"/>
<rect x="725" y="281.7" width="12" height="4.5" fill="#fff"/>
<rect x="723" y="300.5" width="16" height="5" fill="#161616"/>
<rect x="720" y="305.3" width="22" height="11.9" stroke="#161616" stroke-width="2.2" fill="#fff" />
<rect x="746.5" y="150" width="24" height="155.3" fill="#161616"/>
<rect x="750.9" y="156" width="15.2" height="144.5" fill="#fff"/>
<rect x="747" y="152.3" width="23" height="1.5" fill="#7a7a7a"/>
<rect x="750.5" y="157.65" width="16" height="1.9" fill="#161616"/>
<rect x="752.7" y="163.4" width="11.6" height="6.6" fill="#888"/>
<rect x="755.1" y="162.8" width="6.8" height="7.8" rx="2.6" stroke="#161616" stroke-width="3.0" fill="#fff"/>
<rect x="757.5" y="165.1" width="2" height="3.2" fill="#aaa"/>
<rect x="750.5" y="164.55" width="16" height="0.5" fill="#161616"/>
<rect x="750.5" y="176.5" width="16" height="9" fill="#161616"/>
<rect x="752.5" y="179.8" width="12" height="4" fill="#fff"/>
<rect x="750.5" y="192.45" width="16" height="3.7" fill="#161616"/>
<rect x="750.5" y="197.55" width="16" height="2.1" fill="#161616"/>
<rect x="750.5" y="205.75" width="16" height="2.3" fill="#161616"/>
<rect x="752.7" y="214" width="11.6" height="6.6" fill="#888"/>
<rect x="755.1" y="213.4" width="6.8" height="7.8" rx="2.6" stroke="#161616" stroke-width="3.0" fill="#fff"/>
<rect x="757.5" y="215.7" width="2" height="3.2" fill="#aaa"/>
<rect x="750.5" y="227.65" width="16" height="2.3" fill="#161616"/>
<rect x="750.5" y="235.05" width="16" height="3.5" fill="#161616"/>
<rect x="757.3" y="239.3" width="2.4" height="6.1" fill="#161616"/>
<rect x="750.5" y="247.65" width="16" height="3.1" fill="#161616"/>
<rect x="750.5" y="257.45" width="16" height="2.1" fill="#161616"/>
<rect x="752.7" y="265.3" width="11.6" height="6.6" fill="#888"/>
<rect x="755.1" y="264.7" width="6.8" height="7.8" rx="2.6" stroke="#161616" stroke-width="3.0" fill="#fff"/>
<rect x="757.5" y="267" width="2" height="3.2" fill="#aaa"/>
<rect x="750.5" y="277.5" width="16" height="10.8" fill="#161616"/>
<rect x="752.5" y="281.7" width="12" height="4.5" fill="#fff"/>
<rect x="750.5" y="300.5" width="16" height="5" fill="#161616"/>
<rect x="747.5" y="305.3" width="22" height="11.9" stroke="#161616" stroke-width="2.2" fill="#fff" />
<rect x="773.5" y="150" width="24" height="155.3" fill="#161616"/>
<rect x="777.9" y="156" width="15.2" height="144.5" fill="#fff"/>
<rect x="774" y="152.3" width="23" height="1.5" fill="#7a7a7a"/>
<rect x="777.5" y="157.65" width="16" height="1.9" fill="#161616"/>
<rect x="779.7" y="163.4" width="11.6" height="6.6" fill="#888"/>
<rect x="782.1" y="162.8" width="6.8" height="7.8" rx="2.6" stroke="#161616" stroke-width="3.0" fill="#fff"/>
<rect x="784.5" y="165.1" width="2" height="3.2" fill="#aaa"/>
<rect x="777.5" y="164.55" width="16" height="0.5" fill="#161616"/>
<rect x="777.5" y="176.5" width="16" height="9" fill="#161616"/>
<rect x="779.5" y="179.8" width="12" height="4" fill="#fff"/>
<rect x="777.5" y="192.45" width="16" height="3.7" fill="#161616"/>
<rect x="777.5" y="197.55" width="16" height="2.1" fill="#161616"/>
<rect x="777.5" y="205.75" width="16" height="2.3" fill="#161616"/>
<rect x="779.7" y="214" width="11.6" height="6.6" fill="#888"/>
<rect x="782.1" y="213.4" width="6.8" height="7.8" rx="2.6" stroke="#161616" stroke-width="3.0" fill="#fff"/>
<rect x="784.5" y="215.7" width="2" height="3.2" fill="#aaa"/>
<rect x="777.5" y="227.65" width="16" height="2.3" fill="#161616"/>
<rect x="777.5" y="235.05" width="16" height="3.5" fill="#161616"/>
<rect x="784.3" y="239.3" width="2.4" height="6.1" fill="#161616"/>
<rect x="777.5" y="247.65" width="16" height="3.1" fill="#161616"/>
<rect x="777.5" y="257.45" width="16" height="2.1" fill="#161616"/>
<rect x="779.7" y="265.3" width="11.6" height="6.6" fill="#888"/>
<rect x="782.1" y="264.7" width="6.8" height="7.8" rx="2.6" stroke="#161616" stroke-width="3.0" fill="#fff"/>
<rect x="784.5" y="267" width="2" height="3.2" fill="#aaa"/>
<rect x="777.5" y="277.5" width="16" height="10.8" fill="#161616"/>
<rect x="779.5" y="281.7" width="12" height="4.5" fill="#fff"/>
<rect x="777.5" y="300.5" width="16" height="5" fill="#161616"/>
<rect x="774.5" y="305.3" width="22" height="11.9" stroke="#161616" stroke-width="2.2" fill="#fff" />
<rect x="823" y="150" width="24" height="155.3" fill="#161616"/>
<rect x="827.4" y="156" width="15.2" height="144.5" fill="#fff"/>
<rect x="823.5" y="152.3" width="23" height="1.5" fill="#7a7a7a"/>
<rect x="827" y="157.65" width="16" height="1.9" fill="#161616"/>
<rect x="829.2" y="163.4" width="11.6" height="6.6" fill="#888"/>
<rect x="831.6" y="162.8" width="6.8" height="7.8" rx="2.6" stroke="#161616" stroke-width="3.0" fill="#fff"/>
<rect x="834" y="165.1" width="2" height="3.2" fill="#aaa"/>
<rect x="827" y="164.55" width="16" height="0.5" fill="#161616"/>
<rect x="827" y="176.5" width="16" height="9" fill="#161616"/>
<rect x="829" y="179.8" width="12" height="4" fill="#fff"/>
<rect x="827" y="192.45" width="16" height="3.7" fill="#161616"/>
<rect x="827" y="197.55" width="16" height="2.1" fill="#161616"/>
<rect x="827" y="205.75" width="16" height="2.3" fill="#161616"/>
<rect x="829.2" y="214" width="11.6" height="6.6" fill="#888"/>
<rect x="831.6" y="213.4" width="6.8" height="7.8" rx="2.6" stroke="#161616" stroke-width="3.0" fill="#fff"/>
<rect x="834" y="215.7" width="2" height="3.2" fill="#aaa"/>
<rect x="827" y="227.65" width="16" height="2.3" fill="#161616"/>
<rect x="827" y="235.05" width="16" height="3.5" fill="#161616"/>
<rect x="833.8" y="239.3" width="2.4" height="6.1" fill="#161616"/>
<rect x="827" y="247.65" width="16" height="3.1" fill="#161616"/>
<rect x="827" y="257.45" width="16" height="2.1" fill="#161616"/>
<rect x="829.2" y="265.3" width="11.6" height="6.6" fill="#888"/>
<rect x="831.6" y="264.7" width="6.8" height="7.8" rx="2.6" stroke="#161616" stroke-width="3.0" fill="#fff"/>
<rect x="834" y="267" width="2" height="3.2" fill="#aaa"/>
<rect x="827" y="277.5" width="16" height="10.8" fill="#161616"/>
<rect x="829" y="281.7" width="12" height="4.5" fill="#fff"/>
<rect x="827" y="300.5" width="16" height="5" fill="#161616"/>
<rect x="824" y="305.3" width="22" height="11.9" stroke="#161616" stroke-width="2.2" fill="#fff" />
<rect x="850.7" y="150" width="24" height="155.3" fill="#161616"/>
<rect x="855.1" y="156" width="15.2" height="144.5" fill="#fff"/>
<rect x="851.2" y="152.3" width="23" height="1.5" fill="#7a7a7a"/>
<rect x="854.7" y="157.65" width="16" height="1.9" fill="#161616"/>
<rect x="856.9" y="163.4" width="11.6" height="6.6" fill="#888"/>
<rect x="859.3" y="162.8" width="6.8" height="7.8" rx="2.6" stroke="#161616" stroke-width="3.0" fill="#fff"/>
<rect x="861.7" y="165.1" width="2" height="3.2" fill="#aaa"/>
<rect x="854.7" y="164.55" width="16" height="0.5" fill="#161616"/>
<rect x="854.7" y="176.5" width="16" height="9" fill="#161616"/>
<rect x="856.7" y="179.8" width="12" height="4" fill="#fff"/>
<rect x="854.7" y="192.45" width="16" height="3.7" fill="#161616"/>
<rect x="854.7" y="197.55" width="16" height="2.1" fill="#161616"/>
<rect x="854.7" y="205.75" width="16" height="2.3" fill="#161616"/>
<rect x="856.9" y="214" width="11.6" height="6.6" fill="#888"/>
<rect x="859.3" y="213.4" width="6.8" height="7.8" rx="2.6" stroke="#161616" stroke-width="3.0" fill="#fff"/>
<rect x="861.7" y="215.7" width="2" height="3.2" fill="#aaa"/>
<rect x="854.7" y="227.65" width="16" height="2.3" fill="#161616"/>
<rect x="854.7" y="235.05" width="16" height="3.5" fill="#161616"/>
<rect x="861.5" y="239.3" width="2.4" height="6.1" fill="#161616"/>
<rect x="854.7" y="247.65" width="16" height="3.1" fill="#161616"/>
<rect x="854.7" y="257.45" width="16" height="2.1" fill="#161616"/>
<rect x="856.9" y="265.3" width="11.6" height="6.6" fill="#888"/>
<rect x="859.3" y="264.7" width="6.8" height="7.8" rx="2.6" stroke="#161616" stroke-width="3.0" fill="#fff"/>
<rect x="861.7" y="267" width="2" height="3.2" fill="#aaa"/>
<rect x="854.7" y="277.5" width="16" height="10.8" fill="#161616"/>
<rect x="856.7" y="281.7" width="12" height="4.5" fill="#fff"/>
<rect x="854.7" y="300.5" width="16" height="5" fill="#161616"/>
<rect x="851.7" y="305.3" width="22" height="11.9" stroke="#161616" stroke-width="2.2" fill="#fff" />
<rect x="877.7" y="150" width="24" height="155.3" fill="#161616"/>
<rect x="882.1" y="156" width="15.2" height="144.5" fill="#fff"/>
<rect x="878.2" y="152.3" width="23" height="1.5" fill="#7a7a7a"/>
<rect x="881.7" y="157.65" width="16" height="1.9" fill="#161616"/>
<rect x="883.9" y="163.4" width="11.6" height="6.6" fill="#888"/>
<rect x="886.3" y="162.8" width="6.8" height="7.8" rx="2.6" stroke="#161616" stroke-width="3.0" fill="#fff"/>
<rect x="888.7" y="165.1" width="2" height="3.2" fill="#aaa"/>
<rect x="881.7" y="164.55" width="16" height="0.5" fill="#161616"/>
<rect x="881.7" y="176.5" width="16" height="9" fill="#161616"/>
<rect x="883.7" y="179.8" width="12" height="4" fill="#fff"/>
<rect x="881.7" y="192.45" width="16" height="3.7" fill="#161616"/>
<rect x="881.7" y="197.55" width="16" height="2.1" fill="#161616"/>
<rect x="881.7" y="205.75" width="16" height="2.3" fill="#161616"/>
<rect x="883.9" y="214" width="11.6" height="6.6" fill="#888"/>
<rect x="886.3" y="213.4" width="6.8" height="7.8" rx="2.6" stroke="#161616" stroke-width="3.0" fill="#fff"/>
<rect x="888.7" y="215.7" width="2" height="3.2" fill="#aaa"/>
<rect x="881.7" y="227.65" width="16" height="2.3" fill="#161616"/>
<rect x="881.7" y="235.05" width="16" height="3.5" fill="#161616"/>
<rect x="888.5" y="239.3" width="2.4" height="6.1" fill="#161616"/>
<rect x="881.7" y="247.65" width="16" height="3.1" fill="#161616"/>
<rect x="881.7" y="257.45" width="16" height="2.1" fill="#161616"/>
<rect x="883.9" y="265.3" width="11.6" height="6.6" fill="#888"/>
<rect x="886.3" y="264.7" width="6.8" height="7.8" rx="2.6" stroke="#161616" stroke-width="3.0" fill="#fff"/>
<rect x="888.7" y="267" width="2" height="3.2" fill="#aaa"/>
<rect x="881.7" y="277.5" width="16" height="10.8" fill="#161616"/>
<rect x="883.7" y="281.7" width="12" height="4.5" fill="#fff"/>
<rect x="881.7" y="300.5" width="16" height="5" fill="#161616"/>
<rect x="878.7" y="305.3" width="22" height="11.9" stroke="#161616" stroke-width="2.2" fill="#fff" />
<line x1="713.2" y1="164.8" x2="906.2" y2="164.8" stroke="#161616" stroke-width="3" />
<line x1="713.2" y1="194.5" x2="906.2" y2="194.5" stroke="#161616" stroke-width="3" />
<line x1="713.2" y1="236.8" x2="906.2" y2="236.8" stroke="#161616" stroke-width="3" />
<line x1="713.2" y1="279.3" x2="906.2" y2="279.3" stroke="#161616" stroke-width="3" />
<line x1="713.2" y1="303" x2="906.2" y2="303" stroke="#161616" stroke-width="3" />
<rect x="828" y="404" width="78.1" height="18.4" stroke="#161616" stroke-width="2.8" fill="#fff" />
<rect x="713.3" y="398.5" width="114.7" height="26.5" fill="#fff"/>
<rect x="717.2" y="399.5" width="2.8" height="24.5" fill="#3c3c3c"/>
<rect x="713.6" y="398.5" width="1.5" height="26.5" fill="#141414"/>
<rect x="725.3" y="399.5" width="2.7" height="24.5" fill="#9a9a9a"/>
<rect x="723.6" y="398.5" width="1.5" height="26.5" fill="#141414"/>
<rect x="733.2" y="399.5" width="2.8" height="24.5" fill="#3c3c3c"/>
<rect x="729.6" y="398.5" width="1.5" height="26.5" fill="#141414"/>
<rect x="741.3" y="399.5" width="2.7" height="24.5" fill="#9a9a9a"/>
<rect x="739.6" y="398.5" width="1.5" height="26.5" fill="#141414"/>
<rect x="749.2" y="399.5" width="2.8" height="24.5" fill="#3c3c3c"/>
<rect x="745.6" y="398.5" width="1.5" height="26.5" fill="#141414"/>
<rect x="757.3" y="399.5" width="2.7" height="24.5" fill="#9a9a9a"/>
<rect x="755.6" y="398.5" width="1.5" height="26.5" fill="#141414"/>
<rect x="765.2" y="399.5" width="2.8" height="24.5" fill="#3c3c3c"/>
<rect x="761.6" y="398.5" width="1.5" height="26.5" fill="#141414"/>
<rect x="773.3" y="399.5" width="2.7" height="24.5" fill="#9a9a9a"/>
<rect x="771.6" y="398.5" width="1.5" height="26.5" fill="#141414"/>
<rect x="781.2" y="399.5" width="2.8" height="24.5" fill="#3c3c3c"/>
<rect x="777.6" y="398.5" width="1.5" height="26.5" fill="#141414"/>
<rect x="789.3" y="399.5" width="2.7" height="24.5" fill="#9a9a9a"/>
<rect x="787.6" y="398.5" width="1.5" height="26.5" fill="#141414"/>
<rect x="797.2" y="399.5" width="2.8" height="24.5" fill="#3c3c3c"/>
<rect x="793.6" y="398.5" width="1.5" height="26.5" fill="#141414"/>
<rect x="805.3" y="399.5" width="2.7" height="24.5" fill="#9a9a9a"/>
<rect x="803.6" y="398.5" width="1.5" height="26.5" fill="#141414"/>
<rect x="813.2" y="399.5" width="2.8" height="24.5" fill="#3c3c3c"/>
<rect x="809.6" y="398.5" width="1.5" height="26.5" fill="#141414"/>
<rect x="821.3" y="399.5" width="2.7" height="24.5" fill="#9a9a9a"/>
<rect x="819.6" y="398.5" width="1.5" height="26.5" fill="#141414"/>
<rect x="829.2" y="399.5" width="-2" height="24.5" fill="#3c3c3c"/>
<rect x="825.6" y="398.5" width="1.5" height="26.5" fill="#141414"/>
<rect x="713.3" y="398.5" width="114.7" height="26.5" stroke="#161616" stroke-width="1.4" fill="none" />
<rect x="713.3" y="425" width="4.9" height="4" stroke="#161616" stroke-width="1.4" fill="#fff" />
<rect x="718.5" y="425" width="33.7" height="23.6" fill="#fff"/>
<rect x="722.4" y="426" width="2.8" height="21.6" fill="#3c3c3c"/>
<rect x="718.8" y="425" width="1.5" height="23.6" fill="#141414"/>
<rect x="730.5" y="426" width="2.7" height="21.6" fill="#9a9a9a"/>
<rect x="728.8" y="425" width="1.5" height="23.6" fill="#141414"/>
<rect x="738.4" y="426" width="2.8" height="21.6" fill="#3c3c3c"/>
<rect x="734.8" y="425" width="1.5" height="23.6" fill="#141414"/>
<rect x="746.5" y="426" width="2.7" height="21.6" fill="#9a9a9a"/>
<rect x="744.8" y="425" width="1.5" height="23.6" fill="#141414"/>
<rect x="754.4" y="426" width="-3" height="21.6" fill="#3c3c3c"/>
<rect x="750.8" y="425" width="1.4" height="23.6" fill="#141414"/>
<rect x="718.5" y="425" width="33.7" height="23.6" stroke="#161616" stroke-width="1.4" fill="none" />
<rect x="718.5" y="447" width="33.7" height="2.3" fill="#161616"/>
<rect x="754.9" y="425" width="33.4" height="23.6" fill="#fff"/>
<rect x="758.8" y="426" width="2.8" height="21.6" fill="#3c3c3c"/>
<rect x="755.2" y="425" width="1.5" height="23.6" fill="#141414"/>
<rect x="766.9" y="426" width="2.7" height="21.6" fill="#9a9a9a"/>
<rect x="765.2" y="425" width="1.5" height="23.6" fill="#141414"/>
<rect x="774.8" y="426" width="2.8" height="21.6" fill="#3c3c3c"/>
<rect x="771.2" y="425" width="1.5" height="23.6" fill="#141414"/>
<rect x="782.9" y="426" width="2.7" height="21.6" fill="#9a9a9a"/>
<rect x="781.2" y="425" width="1.5" height="23.6" fill="#141414"/>
<rect x="790.8" y="426" width="-3.3" height="21.6" fill="#3c3c3c"/>
<rect x="787.2" y="425" width="1.1" height="23.6" fill="#141414"/>
<rect x="754.9" y="425" width="33.4" height="23.6" stroke="#161616" stroke-width="1.4" fill="none" />
<rect x="754.9" y="447" width="33.4" height="2.3" fill="#161616"/>
<rect x="791" y="425" width="35.2" height="23.6" fill="#fff"/>
<rect x="794.9" y="426" width="2.8" height="21.6" fill="#3c3c3c"/>
<rect x="791.3" y="425" width="1.5" height="23.6" fill="#141414"/>
<rect x="803" y="426" width="2.7" height="21.6" fill="#9a9a9a"/>
<rect x="801.3" y="425" width="1.5" height="23.6" fill="#141414"/>
<rect x="810.9" y="426" width="2.8" height="21.6" fill="#3c3c3c"/>
<rect x="807.3" y="425" width="1.5" height="23.6" fill="#141414"/>
<rect x="819" y="426" width="2.7" height="21.6" fill="#9a9a9a"/>
<rect x="817.3" y="425" width="1.5" height="23.6" fill="#141414"/>
<rect x="826.9" y="426" width="-1.5" height="21.6" fill="#3c3c3c"/>
<rect x="823.3" y="425" width="1.5" height="23.6" fill="#141414"/>
<rect x="791" y="425" width="35.2" height="23.6" stroke="#161616" stroke-width="1.4" fill="none" />
<rect x="791" y="447" width="35.2" height="2.3" fill="#161616"/>
<rect x="826" y="398.5" width="3.3" height="30.5" fill="#2a2a2a"/>
<rect x="713.3" y="489.8" width="77.9" height="18" stroke="#161616" stroke-width="2.8" fill="#fff" />
<rect x="791.2" y="484.6" width="115.3" height="28.6" fill="#fff"/>
<rect x="795.1" y="485.6" width="2.8" height="26.6" fill="#3c3c3c"/>
<rect x="791.5" y="484.6" width="1.5" height="28.6" fill="#141414"/>
<rect x="803.2" y="485.6" width="2.7" height="26.6" fill="#9a9a9a"/>
<rect x="801.5" y="484.6" width="1.5" height="28.6" fill="#141414"/>
<rect x="811.1" y="485.6" width="2.8" height="26.6" fill="#3c3c3c"/>
<rect x="807.5" y="484.6" width="1.5" height="28.6" fill="#141414"/>
<rect x="819.2" y="485.6" width="2.7" height="26.6" fill="#9a9a9a"/>
<rect x="817.5" y="484.6" width="1.5" height="28.6" fill="#141414"/>
<rect x="827.1" y="485.6" width="2.8" height="26.6" fill="#3c3c3c"/>
<rect x="823.5" y="484.6" width="1.5" height="28.6" fill="#141414"/>
<rect x="835.2" y="485.6" width="2.7" height="26.6" fill="#9a9a9a"/>
<rect x="833.5" y="484.6" width="1.5" height="28.6" fill="#141414"/>
<rect x="843.1" y="485.6" width="2.8" height="26.6" fill="#3c3c3c"/>
<rect x="839.5" y="484.6" width="1.5" height="28.6" fill="#141414"/>
<rect x="851.2" y="485.6" width="2.7" height="26.6" fill="#9a9a9a"/>
<rect x="849.5" y="484.6" width="1.5" height="28.6" fill="#141414"/>
<rect x="859.1" y="485.6" width="2.8" height="26.6" fill="#3c3c3c"/>
<rect x="855.5" y="484.6" width="1.5" height="28.6" fill="#141414"/>
<rect x="867.2" y="485.6" width="2.7" height="26.6" fill="#9a9a9a"/>
<rect x="865.5" y="484.6" width="1.5" height="28.6" fill="#141414"/>
<rect x="875.1" y="485.6" width="2.8" height="26.6" fill="#3c3c3c"/>
<rect x="871.5" y="484.6" width="1.5" height="28.6" fill="#141414"/>
<rect x="883.2" y="485.6" width="2.7" height="26.6" fill="#9a9a9a"/>
<rect x="881.5" y="484.6" width="1.5" height="28.6" fill="#141414"/>
<rect x="891.1" y="485.6" width="2.8" height="26.6" fill="#3c3c3c"/>
<rect x="887.5" y="484.6" width="1.5" height="28.6" fill="#141414"/>
<rect x="899.2" y="485.6" width="2.7" height="26.6" fill="#9a9a9a"/>
<rect x="897.5" y="484.6" width="1.5" height="28.6" fill="#141414"/>
<rect x="907.1" y="485.6" width="-1.4" height="26.6" fill="#3c3c3c"/>
<rect x="903.5" y="484.6" width="1.5" height="28.6" fill="#141414"/>
<rect x="791.2" y="484.6" width="115.3" height="28.6" stroke="#161616" stroke-width="1.4" fill="none" />
<rect x="791.2" y="511.6" width="115.3" height="2.3" fill="#161616"/>
<rect x="795" y="464.2" width="31.9" height="22.7" fill="#fff"/>
<rect x="798.9" y="465.2" width="2.8" height="20.7" fill="#3c3c3c"/>
<rect x="795.3" y="464.2" width="1.5" height="22.7" fill="#141414"/>
<rect x="807" y="465.2" width="2.7" height="20.7" fill="#9a9a9a"/>
<rect x="805.3" y="464.2" width="1.5" height="22.7" fill="#141414"/>
<rect x="814.9" y="465.2" width="2.8" height="20.7" fill="#3c3c3c"/>
<rect x="811.3" y="464.2" width="1.5" height="22.7" fill="#141414"/>
<rect x="823" y="465.2" width="2.7" height="20.7" fill="#9a9a9a"/>
<rect x="821.3" y="464.2" width="1.5" height="22.7" fill="#141414"/>
<rect x="795" y="464.2" width="31.9" height="22.7" stroke="#161616" stroke-width="1.4" fill="none" />
<rect x="831.3" y="464.2" width="33" height="22.7" fill="#fff"/>
<rect x="835.2" y="465.2" width="2.8" height="20.7" fill="#3c3c3c"/>
<rect x="831.6" y="464.2" width="1.5" height="22.7" fill="#141414"/>
<rect x="843.3" y="465.2" width="2.7" height="20.7" fill="#9a9a9a"/>
<rect x="841.6" y="464.2" width="1.5" height="22.7" fill="#141414"/>
<rect x="851.2" y="465.2" width="2.8" height="20.7" fill="#3c3c3c"/>
<rect x="847.6" y="464.2" width="1.5" height="22.7" fill="#141414"/>
<rect x="859.3" y="465.2" width="2.7" height="20.7" fill="#9a9a9a"/>
<rect x="857.6" y="464.2" width="1.5" height="22.7" fill="#141414"/>
<rect x="831.3" y="464.2" width="33" height="22.7" stroke="#161616" stroke-width="1.4" fill="none" />
<rect x="868.9" y="464.2" width="31.7" height="22.7" fill="#fff"/>
<rect x="872.8" y="465.2" width="2.8" height="20.7" fill="#3c3c3c"/>
<rect x="869.2" y="464.2" width="1.5" height="22.7" fill="#141414"/>
<rect x="880.9" y="465.2" width="2.7" height="20.7" fill="#9a9a9a"/>
<rect x="879.2" y="464.2" width="1.5" height="22.7" fill="#141414"/>
<rect x="888.8" y="465.2" width="2.8" height="20.7" fill="#3c3c3c"/>
<rect x="885.2" y="464.2" width="1.5" height="22.7" fill="#141414"/>
<rect x="896.9" y="465.2" width="2.7" height="20.7" fill="#9a9a9a"/>
<rect x="895.2" y="464.2" width="1.5" height="22.7" fill="#141414"/>
<rect x="868.9" y="464.2" width="31.7" height="22.7" stroke="#161616" stroke-width="1.4" fill="none" />
<rect x="790.9" y="484.4" width="4.2" height="28.8" fill="#2a2a2a"/>
<line x1="924.2" y1="164.8" x2="1117.2" y2="164.8" stroke="#161616" stroke-width="3" />
<line x1="924.2" y1="194.5" x2="1117.2" y2="194.5" stroke="#161616" stroke-width="3" />
<line x1="924.2" y1="236.8" x2="1117.2" y2="236.8" stroke="#161616" stroke-width="3" />
<line x1="924.2" y1="279.3" x2="1117.2" y2="279.3" stroke="#161616" stroke-width="3" />
<line x1="924.2" y1="303" x2="1117.2" y2="303" stroke="#161616" stroke-width="3" />
<rect x="954" y="150" width="3" height="168" fill="#d0d0d0"/>
<rect x="981.5" y="150" width="3" height="168" fill="#d0d0d0"/>
<rect x="1058" y="150" width="3" height="168" fill="#d0d0d0"/>
<rect x="1085.7" y="150" width="3" height="168" fill="#d0d0d0"/>
<rect x="930" y="150" width="24" height="155.3" fill="#161616"/>
<rect x="934.4" y="156" width="15.2" height="144.5" fill="#fff"/>
<rect x="930.5" y="152.3" width="23" height="1.5" fill="#7a7a7a"/>
<rect x="934" y="157.65" width="16" height="1.9" fill="#161616"/>
<rect x="936.2" y="163.4" width="11.6" height="6.6" fill="#888"/>
<rect x="938.6" y="162.8" width="6.8" height="7.8" rx="2.6" stroke="#161616" stroke-width="3.0" fill="#fff"/>
<rect x="941" y="165.1" width="2" height="3.2" fill="#aaa"/>
<rect x="934" y="164.55" width="16" height="0.5" fill="#161616"/>
<rect x="934" y="176.5" width="16" height="9" fill="#161616"/>
<rect x="936" y="179.8" width="12" height="4" fill="#fff"/>
<rect x="934" y="192.45" width="16" height="3.7" fill="#161616"/>
<rect x="934" y="197.55" width="16" height="2.1" fill="#161616"/>
<rect x="934" y="205.75" width="16" height="2.3" fill="#161616"/>
<rect x="936.2" y="214" width="11.6" height="6.6" fill="#888"/>
<rect x="938.6" y="213.4" width="6.8" height="7.8" rx="2.6" stroke="#161616" stroke-width="3.0" fill="#fff"/>
<rect x="941" y="215.7" width="2" height="3.2" fill="#aaa"/>
<rect x="934" y="227.65" width="16" height="2.3" fill="#161616"/>
<rect x="934" y="235.05" width="16" height="3.5" fill="#161616"/>
<rect x="940.8" y="239.3" width="2.4" height="6.1" fill="#161616"/>
<rect x="934" y="247.65" width="16" height="3.1" fill="#161616"/>
<rect x="934" y="257.45" width="16" height="2.1" fill="#161616"/>
<rect x="936.2" y="265.3" width="11.6" height="6.6" fill="#888"/>
<rect x="938.6" y="264.7" width="6.8" height="7.8" rx="2.6" stroke="#161616" stroke-width="3.0" fill="#fff"/>
<rect x="941" y="267" width="2" height="3.2" fill="#aaa"/>
<rect x="934" y="277.5" width="16" height="10.8" fill="#161616"/>
<rect x="936" y="281.7" width="12" height="4.5" fill="#fff"/>
<rect x="934" y="300.5" width="16" height="5" fill="#161616"/>
<rect x="931" y="305.3" width="22" height="11.9" stroke="#161616" stroke-width="2.2" fill="#fff" />
<rect x="957.5" y="150" width="24" height="155.3" fill="#161616"/>
<rect x="961.9" y="156" width="15.2" height="144.5" fill="#fff"/>
<rect x="958" y="152.3" width="23" height="1.5" fill="#7a7a7a"/>
<rect x="961.5" y="157.65" width="16" height="1.9" fill="#161616"/>
<rect x="963.7" y="163.4" width="11.6" height="6.6" fill="#888"/>
<rect x="966.1" y="162.8" width="6.8" height="7.8" rx="2.6" stroke="#161616" stroke-width="3.0" fill="#fff"/>
<rect x="968.5" y="165.1" width="2" height="3.2" fill="#aaa"/>
<rect x="961.5" y="164.55" width="16" height="0.5" fill="#161616"/>
<rect x="961.5" y="176.5" width="16" height="9" fill="#161616"/>
<rect x="963.5" y="179.8" width="12" height="4" fill="#fff"/>
<rect x="961.5" y="192.45" width="16" height="3.7" fill="#161616"/>
<rect x="961.5" y="197.55" width="16" height="2.1" fill="#161616"/>
<rect x="961.5" y="205.75" width="16" height="2.3" fill="#161616"/>
<rect x="963.7" y="214" width="11.6" height="6.6" fill="#888"/>
<rect x="966.1" y="213.4" width="6.8" height="7.8" rx="2.6" stroke="#161616" stroke-width="3.0" fill="#fff"/>
<rect x="968.5" y="215.7" width="2" height="3.2" fill="#aaa"/>
<rect x="961.5" y="227.65" width="16" height="2.3" fill="#161616"/>
<rect x="961.5" y="235.05" width="16" height="3.5" fill="#161616"/>
<rect x="968.3" y="239.3" width="2.4" height="6.1" fill="#161616"/>
<rect x="961.5" y="247.65" width="16" height="3.1" fill="#161616"/>
<rect x="961.5" y="257.45" width="16" height="2.1" fill="#161616"/>
<rect x="963.7" y="265.3" width="11.6" height="6.6" fill="#888"/>
<rect x="966.1" y="264.7" width="6.8" height="7.8" rx="2.6" stroke="#161616" stroke-width="3.0" fill="#fff"/>
<rect x="968.5" y="267" width="2" height="3.2" fill="#aaa"/>
<rect x="961.5" y="277.5" width="16" height="10.8" fill="#161616"/>
<rect x="963.5" y="281.7" width="12" height="4.5" fill="#fff"/>
<rect x="961.5" y="300.5" width="16" height="5" fill="#161616"/>
<rect x="958.5" y="305.3" width="22" height="11.9" stroke="#161616" stroke-width="2.2" fill="#fff" />
<rect x="984.5" y="150" width="24" height="155.3" fill="#161616"/>
<rect x="988.9" y="156" width="15.2" height="144.5" fill="#fff"/>
<rect x="985" y="152.3" width="23" height="1.5" fill="#7a7a7a"/>
<rect x="988.5" y="157.65" width="16" height="1.9" fill="#161616"/>
<rect x="990.7" y="163.4" width="11.6" height="6.6" fill="#888"/>
<rect x="993.1" y="162.8" width="6.8" height="7.8" rx="2.6" stroke="#161616" stroke-width="3.0" fill="#fff"/>
<rect x="995.5" y="165.1" width="2" height="3.2" fill="#aaa"/>
<rect x="988.5" y="164.55" width="16" height="0.5" fill="#161616"/>
<rect x="988.5" y="176.5" width="16" height="9" fill="#161616"/>
<rect x="990.5" y="179.8" width="12" height="4" fill="#fff"/>
<rect x="988.5" y="192.45" width="16" height="3.7" fill="#161616"/>
<rect x="988.5" y="197.55" width="16" height="2.1" fill="#161616"/>
<rect x="988.5" y="205.75" width="16" height="2.3" fill="#161616"/>
<rect x="990.7" y="214" width="11.6" height="6.6" fill="#888"/>
<rect x="993.1" y="213.4" width="6.8" height="7.8" rx="2.6" stroke="#161616" stroke-width="3.0" fill="#fff"/>
<rect x="995.5" y="215.7" width="2" height="3.2" fill="#aaa"/>
<rect x="988.5" y="227.65" width="16" height="2.3" fill="#161616"/>
<rect x="988.5" y="235.05" width="16" height="3.5" fill="#161616"/>
<rect x="995.3" y="239.3" width="2.4" height="6.1" fill="#161616"/>
<rect x="988.5" y="247.65" width="16" height="3.1" fill="#161616"/>
<rect x="988.5" y="257.45" width="16" height="2.1" fill="#161616"/>
<rect x="990.7" y="265.3" width="11.6" height="6.6" fill="#888"/>
<rect x="993.1" y="264.7" width="6.8" height="7.8" rx="2.6" stroke="#161616" stroke-width="3.0" fill="#fff"/>
<rect x="995.5" y="267" width="2" height="3.2" fill="#aaa"/>
<rect x="988.5" y="277.5" width="16" height="10.8" fill="#161616"/>
<rect x="990.5" y="281.7" width="12" height="4.5" fill="#fff"/>
<rect x="988.5" y="300.5" width="16" height="5" fill="#161616"/>
<rect x="985.5" y="305.3" width="22" height="11.9" stroke="#161616" stroke-width="2.2" fill="#fff" />
<rect x="1034" y="150" width="24" height="155.3" fill="#161616"/>
<rect x="1038.4" y="156" width="15.2" height="144.5" fill="#fff"/>
<rect x="1034.5" y="152.3" width="23" height="1.5" fill="#7a7a7a"/>
<rect x="1038" y="157.65" width="16" height="1.9" fill="#161616"/>
<rect x="1040.2" y="163.4" width="11.6" height="6.6" fill="#888"/>
<rect x="1042.6" y="162.8" width="6.8" height="7.8" rx="2.6" stroke="#161616" stroke-width="3.0" fill="#fff"/>
<rect x="1045" y="165.1" width="2" height="3.2" fill="#aaa"/>
<rect x="1038" y="164.55" width="16" height="0.5" fill="#161616"/>
<rect x="1038" y="176.5" width="16" height="9" fill="#161616"/>
<rect x="1040" y="179.8" width="12" height="4" fill="#fff"/>
<rect x="1038" y="192.45" width="16" height="3.7" fill="#161616"/>
<rect x="1038" y="197.55" width="16" height="2.1" fill="#161616"/>
<rect x="1038" y="205.75" width="16" height="2.3" fill="#161616"/>
<rect x="1040.2" y="214" width="11.6" height="6.6" fill="#888"/>
<rect x="1042.6" y="213.4" width="6.8" height="7.8" rx="2.6" stroke="#161616" stroke-width="3.0" fill="#fff"/>
<rect x="1045" y="215.7" width="2" height="3.2" fill="#aaa"/>
<rect x="1038" y="227.65" width="16" height="2.3" fill="#161616"/>
<rect x="1038" y="235.05" width="16" height="3.5" fill="#161616"/>
<rect x="1044.8" y="239.3" width="2.4" height="6.1" fill="#161616"/>
<rect x="1038" y="247.65" width="16" height="3.1" fill="#161616"/>
<rect x="1038" y="257.45" width="16" height="2.1" fill="#161616"/>
<rect x="1040.2" y="265.3" width="11.6" height="6.6" fill="#888"/>
<rect x="1042.6" y="264.7" width="6.8" height="7.8" rx="2.6" stroke="#161616" stroke-width="3.0" fill="#fff"/>
<rect x="1045" y="267" width="2" height="3.2" fill="#aaa"/>
<rect x="1038" y="277.5" width="16" height="10.8" fill="#161616"/>
<rect x="1040" y="281.7" width="12" height="4.5" fill="#fff"/>
<rect x="1038" y="300.5" width="16" height="5" fill="#161616"/>
<rect x="1035" y="305.3" width="22" height="11.9" stroke="#161616" stroke-width="2.2" fill="#fff" />
<rect x="1061.7" y="150" width="24" height="155.3" fill="#161616"/>
<rect x="1066.1" y="156" width="15.2" height="144.5" fill="#fff"/>
<rect x="1062.2" y="152.3" width="23" height="1.5" fill="#7a7a7a"/>
<rect x="1065.7" y="157.65" width="16" height="1.9" fill="#161616"/>
<rect x="1067.9" y="163.4" width="11.6" height="6.6" fill="#888"/>
<rect x="1070.3" y="162.8" width="6.8" height="7.8" rx="2.6" stroke="#161616" stroke-width="3.0" fill="#fff"/>
<rect x="1072.7" y="165.1" width="2" height="3.2" fill="#aaa"/>
<rect x="1065.7" y="164.55" width="16" height="0.5" fill="#161616"/>
<rect x="1065.7" y="176.5" width="16" height="9" fill="#161616"/>
<rect x="1067.7" y="179.8" width="12" height="4" fill="#fff"/>
<rect x="1065.7" y="192.45" width="16" height="3.7" fill="#161616"/>
<rect x="1065.7" y="197.55" width="16" height="2.1" fill="#161616"/>
<rect x="1065.7" y="205.75" width="16" height="2.3" fill="#161616"/>
<rect x="1067.9" y="214" width="11.6" height="6.6" fill="#888"/>
<rect x="1070.3" y="213.4" width="6.8" height="7.8" rx="2.6" stroke="#161616" stroke-width="3.0" fill="#fff"/>
<rect x="1072.7" y="215.7" width="2" height="3.2" fill="#aaa"/>
<rect x="1065.7" y="227.65" width="16" height="2.3" fill="#161616"/>
<rect x="1065.7" y="235.05" width="16" height="3.5" fill="#161616"/>
<rect x="1072.5" y="239.3" width="2.4" height="6.1" fill="#161616"/>
<rect x="1065.7" y="247.65" width="16" height="3.1" fill="#161616"/>
<rect x="1065.7" y="257.45" width="16" height="2.1" fill="#161616"/>
<rect x="1067.9" y="265.3" width="11.6" height="6.6" fill="#888"/>
<rect x="1070.3" y="264.7" width="6.8" height="7.8" rx="2.6" stroke="#161616" stroke-width="3.0" fill="#fff"/>
<rect x="1072.7" y="267" width="2" height="3.2" fill="#aaa"/>
<rect x="1065.7" y="277.5" width="16" height="10.8" fill="#161616"/>
<rect x="1067.7" y="281.7" width="12" height="4.5" fill="#fff"/>
<rect x="1065.7" y="300.5" width="16" height="5" fill="#161616"/>
<rect x="1062.7" y="305.3" width="22" height="11.9" stroke="#161616" stroke-width="2.2" fill="#fff" />
<rect x="1088.7" y="150" width="24" height="155.3" fill="#161616"/>
<rect x="1093.1" y="156" width="15.2" height="144.5" fill="#fff"/>
<rect x="1089.2" y="152.3" width="23" height="1.5" fill="#7a7a7a"/>
<rect x="1092.7" y="157.65" width="16" height="1.9" fill="#161616"/>
<rect x="1094.9" y="163.4" width="11.6" height="6.6" fill="#888"/>
<rect x="1097.3" y="162.8" width="6.8" height="7.8" rx="2.6" stroke="#161616" stroke-width="3.0" fill="#fff"/>
<rect x="1099.7" y="165.1" width="2" height="3.2" fill="#aaa"/>
<rect x="1092.7" y="164.55" width="16" height="0.5" fill="#161616"/>
<rect x="1092.7" y="176.5" width="16" height="9" fill="#161616"/>
<rect x="1094.7" y="179.8" width="12" height="4" fill="#fff"/>
<rect x="1092.7" y="192.45" width="16" height="3.7" fill="#161616"/>
<rect x="1092.7" y="197.55" width="16" height="2.1" fill="#161616"/>
<rect x="1092.7" y="205.75" width="16" height="2.3" fill="#161616"/>
<rect x="1094.9" y="214" width="11.6" height="6.6" fill="#888"/>
<rect x="1097.3" y="213.4" width="6.8" height="7.8" rx="2.6" stroke="#161616" stroke-width="3.0" fill="#fff"/>
<rect x="1099.7" y="215.7" width="2" height="3.2" fill="#aaa"/>
<rect x="1092.7" y="227.65" width="16" height="2.3" fill="#161616"/>
<rect x="1092.7" y="235.05" width="16" height="3.5" fill="#161616"/>
<rect x="1099.5" y="239.3" width="2.4" height="6.1" fill="#161616"/>
<rect x="1092.7" y="247.65" width="16" height="3.1" fill="#161616"/>
<rect x="1092.7" y="257.45" width="16" height="2.1" fill="#161616"/>
<rect x="1094.9" y="265.3" width="11.6" height="6.6" fill="#888"/>
<rect x="1097.3" y="264.7" width="6.8" height="7.8" rx="2.6" stroke="#161616" stroke-width="3.0" fill="#fff"/>
<rect x="1099.7" y="267" width="2" height="3.2" fill="#aaa"/>
<rect x="1092.7" y="277.5" width="16" height="10.8" fill="#161616"/>
<rect x="1094.7" y="281.7" width="12" height="4.5" fill="#fff"/>
<rect x="1092.7" y="300.5" width="16" height="5" fill="#161616"/>
<rect x="1089.7" y="305.3" width="22" height="11.9" stroke="#161616" stroke-width="2.2" fill="#fff" />
<line x1="924.2" y1="164.8" x2="1117.2" y2="164.8" stroke="#161616" stroke-width="3" />
<line x1="924.2" y1="194.5" x2="1117.2" y2="194.5" stroke="#161616" stroke-width="3" />
<line x1="924.2" y1="236.8" x2="1117.2" y2="236.8" stroke="#161616" stroke-width="3" />
<line x1="924.2" y1="279.3" x2="1117.2" y2="279.3" stroke="#161616" stroke-width="3" />
<line x1="924.2" y1="303" x2="1117.2" y2="303" stroke="#161616" stroke-width="3" />
<rect x="1039" y="404" width="78.1" height="18.4" stroke="#161616" stroke-width="2.8" fill="#fff" />
<rect x="924.3" y="398.5" width="114.7" height="26.5" fill="#fff"/>
<rect x="928.2" y="399.5" width="2.8" height="24.5" fill="#3c3c3c"/>
<rect x="924.6" y="398.5" width="1.5" height="26.5" fill="#141414"/>
<rect x="936.3" y="399.5" width="2.7" height="24.5" fill="#9a9a9a"/>
<rect x="934.6" y="398.5" width="1.5" height="26.5" fill="#141414"/>
<rect x="944.2" y="399.5" width="2.8" height="24.5" fill="#3c3c3c"/>
<rect x="940.6" y="398.5" width="1.5" height="26.5" fill="#141414"/>
<rect x="952.3" y="399.5" width="2.7" height="24.5" fill="#9a9a9a"/>
<rect x="950.6" y="398.5" width="1.5" height="26.5" fill="#141414"/>
<rect x="960.2" y="399.5" width="2.8" height="24.5" fill="#3c3c3c"/>
<rect x="956.6" y="398.5" width="1.5" height="26.5" fill="#141414"/>
<rect x="968.3" y="399.5" width="2.7" height="24.5" fill="#9a9a9a"/>
<rect x="966.6" y="398.5" width="1.5" height="26.5" fill="#141414"/>
<rect x="976.2" y="399.5" width="2.8" height="24.5" fill="#3c3c3c"/>
<rect x="972.6" y="398.5" width="1.5" height="26.5" fill="#141414"/>
<rect x="984.3" y="399.5" width="2.7" height="24.5" fill="#9a9a9a"/>
<rect x="982.6" y="398.5" width="1.5" height="26.5" fill="#141414"/>
<rect x="992.2" y="399.5" width="2.8" height="24.5" fill="#3c3c3c"/>
<rect x="988.6" y="398.5" width="1.5" height="26.5" fill="#141414"/>
<rect x="1000.3" y="399.5" width="2.7" height="24.5" fill="#9a9a9a"/>
<rect x="998.6" y="398.5" width="1.5" height="26.5" fill="#141414"/>
<rect x="1008.2" y="399.5" width="2.8" height="24.5" fill="#3c3c3c"/>
<rect x="1004.6" y="398.5" width="1.5" height="26.5" fill="#141414"/>
<rect x="1016.3" y="399.5" width="2.7" height="24.5" fill="#9a9a9a"/>
<rect x="1014.6" y="398.5" width="1.5" height="26.5" fill="#141414"/>
<rect x="1024.2" y="399.5" width="2.8" height="24.5" fill="#3c3c3c"/>
<rect x="1020.6" y="398.5" width="1.5" height="26.5" fill="#141414"/>
<rect x="1032.3" y="399.5" width="2.7" height="24.5" fill="#9a9a9a"/>
<rect x="1030.6" y="398.5" width="1.5" height="26.5" fill="#141414"/>
<rect x="1040.2" y="399.5" width="-2" height="24.5" fill="#3c3c3c"/>
<rect x="1036.6" y="398.5" width="1.5" height="26.5" fill="#141414"/>
<rect x="924.3" y="398.5" width="114.7" height="26.5" stroke="#161616" stroke-width="1.4" fill="none" />
<rect x="924.3" y="425" width="4.9" height="4" stroke="#161616" stroke-width="1.4" fill="#fff" />
<rect x="929.5" y="425" width="33.7" height="23.6" fill="#fff"/>
<rect x="933.4" y="426" width="2.8" height="21.6" fill="#3c3c3c"/>
<rect x="929.8" y="425" width="1.5" height="23.6" fill="#141414"/>
<rect x="941.5" y="426" width="2.7" height="21.6" fill="#9a9a9a"/>
<rect x="939.8" y="425" width="1.5" height="23.6" fill="#141414"/>
<rect x="949.4" y="426" width="2.8" height="21.6" fill="#3c3c3c"/>
<rect x="945.8" y="425" width="1.5" height="23.6" fill="#141414"/>
<rect x="957.5" y="426" width="2.7" height="21.6" fill="#9a9a9a"/>
<rect x="955.8" y="425" width="1.5" height="23.6" fill="#141414"/>
<rect x="965.4" y="426" width="-3" height="21.6" fill="#3c3c3c"/>
<rect x="961.8" y="425" width="1.4" height="23.6" fill="#141414"/>
<rect x="929.5" y="425" width="33.7" height="23.6" stroke="#161616" stroke-width="1.4" fill="none" />
<rect x="929.5" y="447" width="33.7" height="2.3" fill="#161616"/>
<rect x="965.9" y="425" width="33.4" height="23.6" fill="#fff"/>
<rect x="969.8" y="426" width="2.8" height="21.6" fill="#3c3c3c"/>
<rect x="966.2" y="425" width="1.5" height="23.6" fill="#141414"/>
<rect x="977.9" y="426" width="2.7" height="21.6" fill="#9a9a9a"/>
<rect x="976.2" y="425" width="1.5" height="23.6" fill="#141414"/>
<rect x="985.8" y="426" width="2.8" height="21.6" fill="#3c3c3c"/>
<rect x="982.2" y="425" width="1.5" height="23.6" fill="#141414"/>
<rect x="993.9" y="426" width="2.7" height="21.6" fill="#9a9a9a"/>
<rect x="992.2" y="425" width="1.5" height="23.6" fill="#141414"/>
<rect x="1001.8" y="426" width="-3.3" height="21.6" fill="#3c3c3c"/>
<rect x="998.2" y="425" width="1.1" height="23.6" fill="#141414"/>
<rect x="965.9" y="425" width="33.4" height="23.6" stroke="#161616" stroke-width="1.4" fill="none" />
<rect x="965.9" y="447" width="33.4" height="2.3" fill="#161616"/>
<rect x="1002" y="425" width="35.2" height="23.6" fill="#fff"/>
<rect x="1005.9" y="426" width="2.8" height="21.6" fill="#3c3c3c"/>
<rect x="1002.3" y="425" width="1.5" height="23.6" fill="#141414"/>
<rect x="1014" y="426" width="2.7" height="21.6" fill="#9a9a9a"/>
<rect x="1012.3" y="425" width="1.5" height="23.6" fill="#141414"/>
<rect x="1021.9" y="426" width="2.8" height="21.6" fill="#3c3c3c"/>
<rect x="1018.3" y="425" width="1.5" height="23.6" fill="#141414"/>
<rect x="1030" y="426" width="2.7" height="21.6" fill="#9a9a9a"/>
<rect x="1028.3" y="425" width="1.5" height="23.6" fill="#141414"/>
<rect x="1037.9" y="426" width="-1.5" height="21.6" fill="#3c3c3c"/>
<rect x="1034.3" y="425" width="1.5" height="23.6" fill="#141414"/>
<rect x="1002" y="425" width="35.2" height="23.6" stroke="#161616" stroke-width="1.4" fill="none" />
<rect x="1002" y="447" width="35.2" height="2.3" fill="#161616"/>
<rect x="1037" y="398.5" width="3.3" height="30.5" fill="#2a2a2a"/>
<rect x="924.3" y="489.8" width="77.9" height="18" stroke="#161616" stroke-width="2.8" fill="#fff" />
<rect x="1002.2" y="484.6" width="115.3" height="28.6" fill="#fff"/>
<rect x="1006.1" y="485.6" width="2.8" height="26.6" fill="#3c3c3c"/>
<rect x="1002.5" y="484.6" width="1.5" height="28.6" fill="#141414"/>
<rect x="1014.2" y="485.6" width="2.7" height="26.6" fill="#9a9a9a"/>
<rect x="1012.5" y="484.6" width="1.5" height="28.6" fill="#141414"/>
<rect x="1022.1" y="485.6" width="2.8" height="26.6" fill="#3c3c3c"/>
<rect x="1018.5" y="484.6" width="1.5" height="28.6" fill="#141414"/>
<rect x="1030.2" y="485.6" width="2.7" height="26.6" fill="#9a9a9a"/>
<rect x="1028.5" y="484.6" width="1.5" height="28.6" fill="#141414"/>
<rect x="1038.1" y="485.6" width="2.8" height="26.6" fill="#3c3c3c"/>
<rect x="1034.5" y="484.6" width="1.5" height="28.6" fill="#141414"/>
<rect x="1046.2" y="485.6" width="2.7" height="26.6" fill="#9a9a9a"/>
<rect x="1044.5" y="484.6" width="1.5" height="28.6" fill="#141414"/>
<rect x="1054.1" y="485.6" width="2.8" height="26.6" fill="#3c3c3c"/>
<rect x="1050.5" y="484.6" width="1.5" height="28.6" fill="#141414"/>
<rect x="1062.2" y="485.6" width="2.7" height="26.6" fill="#9a9a9a"/>
<rect x="1060.5" y="484.6" width="1.5" height="28.6" fill="#141414"/>
<rect x="1070.1" y="485.6" width="2.8" height="26.6" fill="#3c3c3c"/>
<rect x="1066.5" y="484.6" width="1.5" height="28.6" fill="#141414"/>
<rect x="1078.2" y="485.6" width="2.7" height="26.6" fill="#9a9a9a"/>
<rect x="1076.5" y="484.6" width="1.5" height="28.6" fill="#141414"/>
<rect x="1086.1" y="485.6" width="2.8" height="26.6" fill="#3c3c3c"/>
<rect x="1082.5" y="484.6" width="1.5" height="28.6" fill="#141414"/>
<rect x="1094.2" y="485.6" width="2.7" height="26.6" fill="#9a9a9a"/>
<rect x="1092.5" y="484.6" width="1.5" height="28.6" fill="#141414"/>
<rect x="1102.1" y="485.6" width="2.8" height="26.6" fill="#3c3c3c"/>
<rect x="1098.5" y="484.6" width="1.5" height="28.6" fill="#141414"/>
<rect x="1110.2" y="485.6" width="2.7" height="26.6" fill="#9a9a9a"/>
<rect x="1108.5" y="484.6" width="1.5" height="28.6" fill="#141414"/>
<rect x="1118.1" y="485.6" width="-1.4" height="26.6" fill="#3c3c3c"/>
<rect x="1114.5" y="484.6" width="1.5" height="28.6" fill="#141414"/>
<rect x="1002.2" y="484.6" width="115.3" height="28.6" stroke="#161616" stroke-width="1.4" fill="none" />
<rect x="1002.2" y="511.6" width="115.3" height="2.3" fill="#161616"/>
<rect x="1006" y="464.2" width="31.9" height="22.7" fill="#fff"/>
<rect x="1009.9" y="465.2" width="2.8" height="20.7" fill="#3c3c3c"/>
<rect x="1006.3" y="464.2" width="1.5" height="22.7" fill="#141414"/>
<rect x="1018" y="465.2" width="2.7" height="20.7" fill="#9a9a9a"/>
<rect x="1016.3" y="464.2" width="1.5" height="22.7" fill="#141414"/>
<rect x="1025.9" y="465.2" width="2.8" height="20.7" fill="#3c3c3c"/>
<rect x="1022.3" y="464.2" width="1.5" height="22.7" fill="#141414"/>
<rect x="1034" y="465.2" width="2.7" height="20.7" fill="#9a9a9a"/>
<rect x="1032.3" y="464.2" width="1.5" height="22.7" fill="#141414"/>
<rect x="1006" y="464.2" width="31.9" height="22.7" stroke="#161616" stroke-width="1.4" fill="none" />
<rect x="1042.3" y="464.2" width="33" height="22.7" fill="#fff"/>
<rect x="1046.2" y="465.2" width="2.8" height="20.7" fill="#3c3c3c"/>
<rect x="1042.6" y="464.2" width="1.5" height="22.7" fill="#141414"/>
<rect x="1054.3" y="465.2" width="2.7" height="20.7" fill="#9a9a9a"/>
<rect x="1052.6" y="464.2" width="1.5" height="22.7" fill="#141414"/>
<rect x="1062.2" y="465.2" width="2.8" height="20.7" fill="#3c3c3c"/>
<rect x="1058.6" y="464.2" width="1.5" height="22.7" fill="#141414"/>
<rect x="1070.3" y="465.2" width="2.7" height="20.7" fill="#9a9a9a"/>
<rect x="1068.6" y="464.2" width="1.5" height="22.7" fill="#141414"/>
<rect x="1042.3" y="464.2" width="33" height="22.7" stroke="#161616" stroke-width="1.4" fill="none" />
<rect x="1079.9" y="464.2" width="31.7" height="22.7" fill="#fff"/>
<rect x="1083.8" y="465.2" width="2.8" height="20.7" fill="#3c3c3c"/>
<rect x="1080.2" y="464.2" width="1.5" height="22.7" fill="#141414"/>
<rect x="1091.9" y="465.2" width="2.7" height="20.7" fill="#9a9a9a"/>
<rect x="1090.2" y="464.2" width="1.5" height="22.7" fill="#141414"/>
<rect x="1099.8" y="465.2" width="2.8" height="20.7" fill="#3c3c3c"/>
<rect x="1096.2" y="464.2" width="1.5" height="22.7" fill="#141414"/>
<rect x="1107.9" y="465.2" width="2.7" height="20.7" fill="#9a9a9a"/>
<rect x="1106.2" y="464.2" width="1.5" height="22.7" fill="#141414"/>
<rect x="1079.9" y="464.2" width="31.7" height="22.7" stroke="#161616" stroke-width="1.4" fill="none" />
<rect x="1001.9" y="484.4" width="4.2" height="28.8" fill="#2a2a2a"/>
<line x1="1135.2" y1="164.8" x2="1328.2" y2="164.8" stroke="#161616" stroke-width="3" />
<line x1="1135.2" y1="194.5" x2="1328.2" y2="194.5" stroke="#161616" stroke-width="3" />
<line x1="1135.2" y1="236.8" x2="1328.2" y2="236.8" stroke="#161616" stroke-width="3" />
<line x1="1135.2" y1="279.3" x2="1328.2" y2="279.3" stroke="#161616" stroke-width="3" />
<line x1="1135.2" y1="303" x2="1328.2" y2="303" stroke="#161616" stroke-width="3" />
<rect x="1165" y="150" width="3" height="168" fill="#d0d0d0"/>
<rect x="1192.5" y="150" width="3" height="168" fill="#d0d0d0"/>
<rect x="1269" y="150" width="3" height="168" fill="#d0d0d0"/>
<rect x="1296.7" y="150" width="3" height="168" fill="#d0d0d0"/>
<rect x="1141" y="150" width="24" height="155.3" fill="#161616"/>
<rect x="1145.4" y="156" width="15.2" height="144.5" fill="#fff"/>
<rect x="1141.5" y="152.3" width="23" height="1.5" fill="#7a7a7a"/>
<rect x="1145" y="157.65" width="16" height="1.9" fill="#161616"/>
<rect x="1147.2" y="163.4" width="11.6" height="6.6" fill="#888"/>
<rect x="1149.6" y="162.8" width="6.8" height="7.8" rx="2.6" stroke="#161616" stroke-width="3.0" fill="#fff"/>
<rect x="1152" y="165.1" width="2" height="3.2" fill="#aaa"/>
<rect x="1145" y="164.55" width="16" height="0.5" fill="#161616"/>
<rect x="1145" y="176.5" width="16" height="9" fill="#161616"/>
<rect x="1147" y="179.8" width="12" height="4" fill="#fff"/>
<rect x="1145" y="192.45" width="16" height="3.7" fill="#161616"/>
<rect x="1145" y="197.55" width="16" height="2.1" fill="#161616"/>
<rect x="1145" y="205.75" width="16" height="2.3" fill="#161616"/>
<rect x="1147.2" y="214" width="11.6" height="6.6" fill="#888"/>
<rect x="1149.6" y="213.4" width="6.8" height="7.8" rx="2.6" stroke="#161616" stroke-width="3.0" fill="#fff"/>
<rect x="1152" y="215.7" width="2" height="3.2" fill="#aaa"/>
<rect x="1145" y="227.65" width="16" height="2.3" fill="#161616"/>
<rect x="1145" y="235.05" width="16" height="3.5" fill="#161616"/>
<rect x="1151.8" y="239.3" width="2.4" height="6.1" fill="#161616"/>
<rect x="1145" y="247.65" width="16" height="3.1" fill="#161616"/>
<rect x="1145" y="257.45" width="16" height="2.1" fill="#161616"/>
<rect x="1147.2" y="265.3" width="11.6" height="6.6" fill="#888"/>
<rect x="1149.6" y="264.7" width="6.8" height="7.8" rx="2.6" stroke="#161616" stroke-width="3.0" fill="#fff"/>
<rect x="1152" y="267" width="2" height="3.2" fill="#aaa"/>
<rect x="1145" y="277.5" width="16" height="10.8" fill="#161616"/>
<rect x="1147" y="281.7" width="12" height="4.5" fill="#fff"/>
<rect x="1145" y="300.5" width="16" height="5" fill="#161616"/>
<rect x="1142" y="305.3" width="22" height="11.9" stroke="#161616" stroke-width="2.2" fill="#fff" />
<rect x="1168.5" y="150" width="24" height="155.3" fill="#161616"/>
<rect x="1172.9" y="156" width="15.2" height="144.5" fill="#fff"/>
<rect x="1169" y="152.3" width="23" height="1.5" fill="#7a7a7a"/>
<rect x="1172.5" y="157.65" width="16" height="1.9" fill="#161616"/>
<rect x="1174.7" y="163.4" width="11.6" height="6.6" fill="#888"/>
<rect x="1177.1" y="162.8" width="6.8" height="7.8" rx="2.6" stroke="#161616" stroke-width="3.0" fill="#fff"/>
<rect x="1179.5" y="165.1" width="2" height="3.2" fill="#aaa"/>
<rect x="1172.5" y="164.55" width="16" height="0.5" fill="#161616"/>
<rect x="1172.5" y="176.5" width="16" height="9" fill="#161616"/>
<rect x="1174.5" y="179.8" width="12" height="4" fill="#fff"/>
<rect x="1172.5" y="192.45" width="16" height="3.7" fill="#161616"/>
<rect x="1172.5" y="197.55" width="16" height="2.1" fill="#161616"/>
<rect x="1172.5" y="205.75" width="16" height="2.3" fill="#161616"/>
<rect x="1174.7" y="214" width="11.6" height="6.6" fill="#888"/>
<rect x="1177.1" y="213.4" width="6.8" height="7.8" rx="2.6" stroke="#161616" stroke-width="3.0" fill="#fff"/>
<rect x="1179.5" y="215.7" width="2" height="3.2" fill="#aaa"/>
<rect x="1172.5" y="227.65" width="16" height="2.3" fill="#161616"/>
<rect x="1172.5" y="235.05" width="16" height="3.5" fill="#161616"/>
<rect x="1179.3" y="239.3" width="2.4" height="6.1" fill="#161616"/>
<rect x="1172.5" y="247.65" width="16" height="3.1" fill="#161616"/>
<rect x="1172.5" y="257.45" width="16" height="2.1" fill="#161616"/>
<rect x="1174.7" y="265.3" width="11.6" height="6.6" fill="#888"/>
<rect x="1177.1" y="264.7" width="6.8" height="7.8" rx="2.6" stroke="#161616" stroke-width="3.0" fill="#fff"/>
<rect x="1179.5" y="267" width="2" height="3.2" fill="#aaa"/>
<rect x="1172.5" y="277.5" width="16" height="10.8" fill="#161616"/>
<rect x="1174.5" y="281.7" width="12" height="4.5" fill="#fff"/>
<rect x="1172.5" y="300.5" width="16" height="5" fill="#161616"/>
<rect x="1169.5" y="305.3" width="22" height="11.9" stroke="#161616" stroke-width="2.2" fill="#fff" />
<rect x="1195.5" y="150" width="24" height="155.3" fill="#161616"/>
<rect x="1199.9" y="156" width="15.2" height="144.5" fill="#fff"/>
<rect x="1196" y="152.3" width="23" height="1.5" fill="#7a7a7a"/>
<rect x="1199.5" y="157.65" width="16" height="1.9" fill="#161616"/>
<rect x="1201.7" y="163.4" width="11.6" height="6.6" fill="#888"/>
<rect x="1204.1" y="162.8" width="6.8" height="7.8" rx="2.6" stroke="#161616" stroke-width="3.0" fill="#fff"/>
<rect x="1206.5" y="165.1" width="2" height="3.2" fill="#aaa"/>
<rect x="1199.5" y="164.55" width="16" height="0.5" fill="#161616"/>
<rect x="1199.5" y="176.5" width="16" height="9" fill="#161616"/>
<rect x="1201.5" y="179.8" width="12" height="4" fill="#fff"/>
<rect x="1199.5" y="192.45" width="16" height="3.7" fill="#161616"/>
<rect x="1199.5" y="197.55" width="16" height="2.1" fill="#161616"/>
<rect x="1199.5" y="205.75" width="16" height="2.3" fill="#161616"/>
<rect x="1201.7" y="214" width="11.6" height="6.6" fill="#888"/>
<rect x="1204.1" y="213.4" width="6.8" height="7.8" rx="2.6" stroke="#161616" stroke-width="3.0" fill="#fff"/>
<rect x="1206.5" y="215.7" width="2" height="3.2" fill="#aaa"/>
<rect x="1199.5" y="227.65" width="16" height="2.3" fill="#161616"/>
<rect x="1199.5" y="235.05" width="16" height="3.5" fill="#161616"/>
<rect x="1206.3" y="239.3" width="2.4" height="6.1" fill="#161616"/>
<rect x="1199.5" y="247.65" width="16" height="3.1" fill="#161616"/>
<rect x="1199.5" y="257.45" width="16" height="2.1" fill="#161616"/>
<rect x="1201.7" y="265.3" width="11.6" height="6.6" fill="#888"/>
<rect x="1204.1" y="264.7" width="6.8" height="7.8" rx="2.6" stroke="#161616" stroke-width="3.0" fill="#fff"/>
<rect x="1206.5" y="267" width="2" height="3.2" fill="#aaa"/>
<rect x="1199.5" y="277.5" width="16" height="10.8" fill="#161616"/>
<rect x="1201.5" y="281.7" width="12" height="4.5" fill="#fff"/>
<rect x="1199.5" y="300.5" width="16" height="5" fill="#161616"/>
<rect x="1196.5" y="305.3" width="22" height="11.9" stroke="#161616" stroke-width="2.2" fill="#fff" />
<rect x="1245" y="150" width="24" height="155.3" fill="#161616"/>
<rect x="1249.4" y="156" width="15.2" height="144.5" fill="#fff"/>
<rect x="1245.5" y="152.3" width="23" height="1.5" fill="#7a7a7a"/>
<rect x="1249" y="157.65" width="16" height="1.9" fill="#161616"/>
<rect x="1251.2" y="163.4" width="11.6" height="6.6" fill="#888"/>
<rect x="1253.6" y="162.8" width="6.8" height="7.8" rx="2.6" stroke="#161616" stroke-width="3.0" fill="#fff"/>
<rect x="1256" y="165.1" width="2" height="3.2" fill="#aaa"/>
<rect x="1249" y="164.55" width="16" height="0.5" fill="#161616"/>
<rect x="1249" y="176.5" width="16" height="9" fill="#161616"/>
<rect x="1251" y="179.8" width="12" height="4" fill="#fff"/>
<rect x="1249" y="192.45" width="16" height="3.7" fill="#161616"/>
<rect x="1249" y="197.55" width="16" height="2.1" fill="#161616"/>
<rect x="1249" y="205.75" width="16" height="2.3" fill="#161616"/>
<rect x="1251.2" y="214" width="11.6" height="6.6" fill="#888"/>
<rect x="1253.6" y="213.4" width="6.8" height="7.8" rx="2.6" stroke="#161616" stroke-width="3.0" fill="#fff"/>
<rect x="1256" y="215.7" width="2" height="3.2" fill="#aaa"/>
<rect x="1249" y="227.65" width="16" height="2.3" fill="#161616"/>
<rect x="1249" y="235.05" width="16" height="3.5" fill="#161616"/>
<rect x="1255.8" y="239.3" width="2.4" height="6.1" fill="#161616"/>
<rect x="1249" y="247.65" width="16" height="3.1" fill="#161616"/>
<rect x="1249" y="257.45" width="16" height="2.1" fill="#161616"/>
<rect x="1251.2" y="265.3" width="11.6" height="6.6" fill="#888"/>
<rect x="1253.6" y="264.7" width="6.8" height="7.8" rx="2.6" stroke="#161616" stroke-width="3.0" fill="#fff"/>
<rect x="1256" y="267" width="2" height="3.2" fill="#aaa"/>
<rect x="1249" y="277.5" width="16" height="10.8" fill="#161616"/>
<rect x="1251" y="281.7" width="12" height="4.5" fill="#fff"/>
<rect x="1249" y="300.5" width="16" height="5" fill="#161616"/>
<rect x="1246" y="305.3" width="22" height="11.9" stroke="#161616" stroke-width="2.2" fill="#fff" />
<rect x="1272.7" y="150" width="24" height="155.3" fill="#161616"/>
<rect x="1277.1" y="156" width="15.2" height="144.5" fill="#fff"/>
<rect x="1273.2" y="152.3" width="23" height="1.5" fill="#7a7a7a"/>
<rect x="1276.7" y="157.65" width="16" height="1.9" fill="#161616"/>
<rect x="1278.9" y="163.4" width="11.6" height="6.6" fill="#888"/>
<rect x="1281.3" y="162.8" width="6.8" height="7.8" rx="2.6" stroke="#161616" stroke-width="3.0" fill="#fff"/>
<rect x="1283.7" y="165.1" width="2" height="3.2" fill="#aaa"/>
<rect x="1276.7" y="164.55" width="16" height="0.5" fill="#161616"/>
<rect x="1276.7" y="176.5" width="16" height="9" fill="#161616"/>
<rect x="1278.7" y="179.8" width="12" height="4" fill="#fff"/>
<rect x="1276.7" y="192.45" width="16" height="3.7" fill="#161616"/>
<rect x="1276.7" y="197.55" width="16" height="2.1" fill="#161616"/>
<rect x="1276.7" y="205.75" width="16" height="2.3" fill="#161616"/>
<rect x="1278.9" y="214" width="11.6" height="6.6" fill="#888"/>
<rect x="1281.3" y="213.4" width="6.8" height="7.8" rx="2.6" stroke="#161616" stroke-width="3.0" fill="#fff"/>
<rect x="1283.7" y="215.7" width="2" height="3.2" fill="#aaa"/>
<rect x="1276.7" y="227.65" width="16" height="2.3" fill="#161616"/>
<rect x="1276.7" y="235.05" width="16" height="3.5" fill="#161616"/>
<rect x="1283.5" y="239.3" width="2.4" height="6.1" fill="#161616"/>
<rect x="1276.7" y="247.65" width="16" height="3.1" fill="#161616"/>
<rect x="1276.7" y="257.45" width="16" height="2.1" fill="#161616"/>
<rect x="1278.9" y="265.3" width="11.6" height="6.6" fill="#888"/>
<rect x="1281.3" y="264.7" width="6.8" height="7.8" rx="2.6" stroke="#161616" stroke-width="3.0" fill="#fff"/>
<rect x="1283.7" y="267" width="2" height="3.2" fill="#aaa"/>
<rect x="1276.7" y="277.5" width="16" height="10.8" fill="#161616"/>
<rect x="1278.7" y="281.7" width="12" height="4.5" fill="#fff"/>
<rect x="1276.7" y="300.5" width="16" height="5" fill="#161616"/>
<rect x="1273.7" y="305.3" width="22" height="11.9" stroke="#161616" stroke-width="2.2" fill="#fff" />
<rect x="1299.7" y="150" width="24" height="155.3" fill="#161616"/>
<rect x="1304.1" y="156" width="15.2" height="144.5" fill="#fff"/>
<rect x="1300.2" y="152.3" width="23" height="1.5" fill="#7a7a7a"/>
<rect x="1303.7" y="157.65" width="16" height="1.9" fill="#161616"/>
<rect x="1305.9" y="163.4" width="11.6" height="6.6" fill="#888"/>
<rect x="1308.3" y="162.8" width="6.8" height="7.8" rx="2.6" stroke="#161616" stroke-width="3.0" fill="#fff"/>
<rect x="1310.7" y="165.1" width="2" height="3.2" fill="#aaa"/>
<rect x="1303.7" y="164.55" width="16" height="0.5" fill="#161616"/>
<rect x="1303.7" y="176.5" width="16" height="9" fill="#161616"/>
<rect x="1305.7" y="179.8" width="12" height="4" fill="#fff"/>
<rect x="1303.7" y="192.45" width="16" height="3.7" fill="#161616"/>
<rect x="1303.7" y="197.55" width="16" height="2.1" fill="#161616"/>
<rect x="1303.7" y="205.75" width="16" height="2.3" fill="#161616"/>
<rect x="1305.9" y="214" width="11.6" height="6.6" fill="#888"/>
<rect x="1308.3" y="213.4" width="6.8" height="7.8" rx="2.6" stroke="#161616" stroke-width="3.0" fill="#fff"/>
<rect x="1310.7" y="215.7" width="2" height="3.2" fill="#aaa"/>
<rect x="1303.7" y="227.65" width="16" height="2.3" fill="#161616"/>
<rect x="1303.7" y="235.05" width="16" height="3.5" fill="#161616"/>
<rect x="1310.5" y="239.3" width="2.4" height="6.1" fill="#161616"/>
<rect x="1303.7" y="247.65" width="16" height="3.1" fill="#161616"/>
<rect x="1303.7" y="257.45" width="16" height="2.1" fill="#161616"/>
<rect x="1305.9" y="265.3" width="11.6" height="6.6" fill="#888"/>
<rect x="1308.3" y="264.7" width="6.8" height="7.8" rx="2.6" stroke="#161616" stroke-width="3.0" fill="#fff"/>
<rect x="1310.7" y="267" width="2" height="3.2" fill="#aaa"/>
<rect x="1303.7" y="277.5" width="16" height="10.8" fill="#161616"/>
<rect x="1305.7" y="281.7" width="12" height="4.5" fill="#fff"/>
<rect x="1303.7" y="300.5" width="16" height="5" fill="#161616"/>
<rect x="1300.7" y="305.3" width="22" height="11.9" stroke="#161616" stroke-width="2.2" fill="#fff" />
<line x1="1135.2" y1="164.8" x2="1328.2" y2="164.8" stroke="#161616" stroke-width="3" />
<line x1="1135.2" y1="194.5" x2="1328.2" y2="194.5" stroke="#161616" stroke-width="3" />
<line x1="1135.2" y1="236.8" x2="1328.2" y2="236.8" stroke="#161616" stroke-width="3" />
<line x1="1135.2" y1="279.3" x2="1328.2" y2="279.3" stroke="#161616" stroke-width="3" />
<line x1="1135.2" y1="303" x2="1328.2" y2="303" stroke="#161616" stroke-width="3" />
<rect x="1250" y="404" width="78.1" height="18.4" stroke="#161616" stroke-width="2.8" fill="#fff" />
<rect x="1135.3" y="398.5" width="114.7" height="26.5" fill="#fff"/>
<rect x="1139.2" y="399.5" width="2.8" height="24.5" fill="#3c3c3c"/>
<rect x="1135.6" y="398.5" width="1.5" height="26.5" fill="#141414"/>
<rect x="1147.3" y="399.5" width="2.7" height="24.5" fill="#9a9a9a"/>
<rect x="1145.6" y="398.5" width="1.5" height="26.5" fill="#141414"/>
<rect x="1155.2" y="399.5" width="2.8" height="24.5" fill="#3c3c3c"/>
<rect x="1151.6" y="398.5" width="1.5" height="26.5" fill="#141414"/>
<rect x="1163.3" y="399.5" width="2.7" height="24.5" fill="#9a9a9a"/>
<rect x="1161.6" y="398.5" width="1.5" height="26.5" fill="#141414"/>
<rect x="1171.2" y="399.5" width="2.8" height="24.5" fill="#3c3c3c"/>
<rect x="1167.6" y="398.5" width="1.5" height="26.5" fill="#141414"/>
<rect x="1179.3" y="399.5" width="2.7" height="24.5" fill="#9a9a9a"/>
<rect x="1177.6" y="398.5" width="1.5" height="26.5" fill="#141414"/>
<rect x="1187.2" y="399.5" width="2.8" height="24.5" fill="#3c3c3c"/>
<rect x="1183.6" y="398.5" width="1.5" height="26.5" fill="#141414"/>
<rect x="1195.3" y="399.5" width="2.7" height="24.5" fill="#9a9a9a"/>
<rect x="1193.6" y="398.5" width="1.5" height="26.5" fill="#141414"/>
<rect x="1203.2" y="399.5" width="2.8" height="24.5" fill="#3c3c3c"/>
<rect x="1199.6" y="398.5" width="1.5" height="26.5" fill="#141414"/>
<rect x="1211.3" y="399.5" width="2.7" height="24.5" fill="#9a9a9a"/>
<rect x="1209.6" y="398.5" width="1.5" height="26.5" fill="#141414"/>
<rect x="1219.2" y="399.5" width="2.8" height="24.5" fill="#3c3c3c"/>
<rect x="1215.6" y="398.5" width="1.5" height="26.5" fill="#141414"/>
<rect x="1227.3" y="399.5" width="2.7" height="24.5" fill="#9a9a9a"/>
<rect x="1225.6" y="398.5" width="1.5" height="26.5" fill="#141414"/>
<rect x="1235.2" y="399.5" width="2.8" height="24.5" fill="#3c3c3c"/>
<rect x="1231.6" y="398.5" width="1.5" height="26.5" fill="#141414"/>
<rect x="1243.3" y="399.5" width="2.7" height="24.5" fill="#9a9a9a"/>
<rect x="1241.6" y="398.5" width="1.5" height="26.5" fill="#141414"/>
<rect x="1251.2" y="399.5" width="-2" height="24.5" fill="#3c3c3c"/>
<rect x="1247.6" y="398.5" width="1.5" height="26.5" fill="#141414"/>
<rect x="1135.3" y="398.5" width="114.7" height="26.5" stroke="#161616" stroke-width="1.4" fill="none" />
<rect x="1135.3" y="425" width="4.9" height="4" stroke="#161616" stroke-width="1.4" fill="#fff" />
<rect x="1140.5" y="425" width="33.7" height="23.6" fill="#fff"/>
<rect x="1144.4" y="426" width="2.8" height="21.6" fill="#3c3c3c"/>
<rect x="1140.8" y="425" width="1.5" height="23.6" fill="#141414"/>
<rect x="1152.5" y="426" width="2.7" height="21.6" fill="#9a9a9a"/>
<rect x="1150.8" y="425" width="1.5" height="23.6" fill="#141414"/>
<rect x="1160.4" y="426" width="2.8" height="21.6" fill="#3c3c3c"/>
<rect x="1156.8" y="425" width="1.5" height="23.6" fill="#141414"/>
<rect x="1168.5" y="426" width="2.7" height="21.6" fill="#9a9a9a"/>
<rect x="1166.8" y="425" width="1.5" height="23.6" fill="#141414"/>
<rect x="1176.4" y="426" width="-3" height="21.6" fill="#3c3c3c"/>
<rect x="1172.8" y="425" width="1.4" height="23.6" fill="#141414"/>
<rect x="1140.5" y="425" width="33.7" height="23.6" stroke="#161616" stroke-width="1.4" fill="none" />
<rect x="1140.5" y="447" width="33.7" height="2.3" fill="#161616"/>
<rect x="1176.9" y="425" width="33.4" height="23.6" fill="#fff"/>
<rect x="1180.8" y="426" width="2.8" height="21.6" fill="#3c3c3c"/>
<rect x="1177.2" y="425" width="1.5" height="23.6" fill="#141414"/>
<rect x="1188.9" y="426" width="2.7" height="21.6" fill="#9a9a9a"/>
<rect x="1187.2" y="425" width="1.5" height="23.6" fill="#141414"/>
<rect x="1196.8" y="426" width="2.8" height="21.6" fill="#3c3c3c"/>
<rect x="1193.2" y="425" width="1.5" height="23.6" fill="#141414"/>
<rect x="1204.9" y="426" width="2.7" height="21.6" fill="#9a9a9a"/>
<rect x="1203.2" y="425" width="1.5" height="23.6" fill="#141414"/>
<rect x="1212.8" y="426" width="-3.3" height="21.6" fill="#3c3c3c"/>
<rect x="1209.2" y="425" width="1.1" height="23.6" fill="#141414"/>
<rect x="1176.9" y="425" width="33.4" height="23.6" stroke="#161616" stroke-width="1.4" fill="none" />
<rect x="1176.9" y="447" width="33.4" height="2.3" fill="#161616"/>
<rect x="1213" y="425" width="35.2" height="23.6" fill="#fff"/>
<rect x="1216.9" y="426" width="2.8" height="21.6" fill="#3c3c3c"/>
<rect x="1213.3" y="425" width="1.5" height="23.6" fill="#141414"/>
<rect x="1225" y="426" width="2.7" height="21.6" fill="#9a9a9a"/>
<rect x="1223.3" y="425" width="1.5" height="23.6" fill="#141414"/>
<rect x="1232.9" y="426" width="2.8" height="21.6" fill="#3c3c3c"/>
<rect x="1229.3" y="425" width="1.5" height="23.6" fill="#141414"/>
<rect x="1241" y="426" width="2.7" height="21.6" fill="#9a9a9a"/>
<rect x="1239.3" y="425" width="1.5" height="23.6" fill="#141414"/>
<rect x="1248.9" y="426" width="-1.5" height="21.6" fill="#3c3c3c"/>
<rect x="1245.3" y="425" width="1.5" height="23.6" fill="#141414"/>
<rect x="1213" y="425" width="35.2" height="23.6" stroke="#161616" stroke-width="1.4" fill="none" />
<rect x="1213" y="447" width="35.2" height="2.3" fill="#161616"/>
<rect x="1248" y="398.5" width="3.3" height="30.5" fill="#2a2a2a"/>
<rect x="1135.3" y="489.8" width="77.9" height="18" stroke="#161616" stroke-width="2.8" fill="#fff" />
<rect x="1213.2" y="484.6" width="115.3" height="28.6" fill="#fff"/>
<rect x="1217.1" y="485.6" width="2.8" height="26.6" fill="#3c3c3c"/>
<rect x="1213.5" y="484.6" width="1.5" height="28.6" fill="#141414"/>
<rect x="1225.2" y="485.6" width="2.7" height="26.6" fill="#9a9a9a"/>
<rect x="1223.5" y="484.6" width="1.5" height="28.6" fill="#141414"/>
<rect x="1233.1" y="485.6" width="2.8" height="26.6" fill="#3c3c3c"/>
<rect x="1229.5" y="484.6" width="1.5" height="28.6" fill="#141414"/>
<rect x="1241.2" y="485.6" width="2.7" height="26.6" fill="#9a9a9a"/>
<rect x="1239.5" y="484.6" width="1.5" height="28.6" fill="#141414"/>
<rect x="1249.1" y="485.6" width="2.8" height="26.6" fill="#3c3c3c"/>
<rect x="1245.5" y="484.6" width="1.5" height="28.6" fill="#141414"/>
<rect x="1257.2" y="485.6" width="2.7" height="26.6" fill="#9a9a9a"/>
<rect x="1255.5" y="484.6" width="1.5" height="28.6" fill="#141414"/>
<rect x="1265.1" y="485.6" width="2.8" height="26.6" fill="#3c3c3c"/>
<rect x="1261.5" y="484.6" width="1.5" height="28.6" fill="#141414"/>
<rect x="1273.2" y="485.6" width="2.7" height="26.6" fill="#9a9a9a"/>
<rect x="1271.5" y="484.6" width="1.5" height="28.6" fill="#141414"/>
<rect x="1281.1" y="485.6" width="2.8" height="26.6" fill="#3c3c3c"/>
<rect x="1277.5" y="484.6" width="1.5" height="28.6" fill="#141414"/>
<rect x="1289.2" y="485.6" width="2.7" height="26.6" fill="#9a9a9a"/>
<rect x="1287.5" y="484.6" width="1.5" height="28.6" fill="#141414"/>
<rect x="1297.1" y="485.6" width="2.8" height="26.6" fill="#3c3c3c"/>
<rect x="1293.5" y="484.6" width="1.5" height="28.6" fill="#141414"/>
<rect x="1305.2" y="485.6" width="2.7" height="26.6" fill="#9a9a9a"/>
<rect x="1303.5" y="484.6" width="1.5" height="28.6" fill="#141414"/>
<rect x="1313.1" y="485.6" width="2.8" height="26.6" fill="#3c3c3c"/>
<rect x="1309.5" y="484.6" width="1.5" height="28.6" fill="#141414"/>
<rect x="1321.2" y="485.6" width="2.7" height="26.6" fill="#9a9a9a"/>
<rect x="1319.5" y="484.6" width="1.5" height="28.6" fill="#141414"/>
<rect x="1329.1" y="485.6" width="-1.4" height="26.6" fill="#3c3c3c"/>
<rect x="1325.5" y="484.6" width="1.5" height="28.6" fill="#141414"/>
<rect x="1213.2" y="484.6" width="115.3" height="28.6" stroke="#161616" stroke-width="1.4" fill="none" />
<rect x="1213.2" y="511.6" width="115.3" height="2.3" fill="#161616"/>
<rect x="1217" y="464.2" width="31.9" height="22.7" fill="#fff"/>
<rect x="1220.9" y="465.2" width="2.8" height="20.7" fill="#3c3c3c"/>
<rect x="1217.3" y="464.2" width="1.5" height="22.7" fill="#141414"/>
<rect x="1229" y="465.2" width="2.7" height="20.7" fill="#9a9a9a"/>
<rect x="1227.3" y="464.2" width="1.5" height="22.7" fill="#141414"/>
<rect x="1236.9" y="465.2" width="2.8" height="20.7" fill="#3c3c3c"/>
<rect x="1233.3" y="464.2" width="1.5" height="22.7" fill="#141414"/>
<rect x="1245" y="465.2" width="2.7" height="20.7" fill="#9a9a9a"/>
<rect x="1243.3" y="464.2" width="1.5" height="22.7" fill="#141414"/>
<rect x="1217" y="464.2" width="31.9" height="22.7" stroke="#161616" stroke-width="1.4" fill="none" />
<rect x="1253.3" y="464.2" width="33" height="22.7" fill="#fff"/>
<rect x="1257.2" y="465.2" width="2.8" height="20.7" fill="#3c3c3c"/>
<rect x="1253.6" y="464.2" width="1.5" height="22.7" fill="#141414"/>
<rect x="1265.3" y="465.2" width="2.7" height="20.7" fill="#9a9a9a"/>
<rect x="1263.6" y="464.2" width="1.5" height="22.7" fill="#141414"/>
<rect x="1273.2" y="465.2" width="2.8" height="20.7" fill="#3c3c3c"/>
<rect x="1269.6" y="464.2" width="1.5" height="22.7" fill="#141414"/>
<rect x="1281.3" y="465.2" width="2.7" height="20.7" fill="#9a9a9a"/>
<rect x="1279.6" y="464.2" width="1.5" height="22.7" fill="#141414"/>
<rect x="1253.3" y="464.2" width="33" height="22.7" stroke="#161616" stroke-width="1.4" fill="none" />
<rect x="1290.9" y="464.2" width="31.7" height="22.7" fill="#fff"/>
<rect x="1294.8" y="465.2" width="2.8" height="20.7" fill="#3c3c3c"/>
<rect x="1291.2" y="464.2" width="1.5" height="22.7" fill="#141414"/>
<rect x="1302.9" y="465.2" width="2.7" height="20.7" fill="#9a9a9a"/>
<rect x="1301.2" y="464.2" width="1.5" height="22.7" fill="#141414"/>
<rect x="1310.8" y="465.2" width="2.8" height="20.7" fill="#3c3c3c"/>
<rect x="1307.2" y="464.2" width="1.5" height="22.7" fill="#141414"/>
<rect x="1318.9" y="465.2" width="2.7" height="20.7" fill="#9a9a9a"/>
<rect x="1317.2" y="464.2" width="1.5" height="22.7" fill="#141414"/>
<rect x="1290.9" y="464.2" width="31.7" height="22.7" stroke="#161616" stroke-width="1.4" fill="none" />
<rect x="1212.9" y="484.4" width="4.2" height="28.8" fill="#2a2a2a"/>
<line x1="1346.2" y1="164.8" x2="1539.2" y2="164.8" stroke="#161616" stroke-width="3" />
<line x1="1346.2" y1="194.5" x2="1539.2" y2="194.5" stroke="#161616" stroke-width="3" />
<line x1="1346.2" y1="236.8" x2="1539.2" y2="236.8" stroke="#161616" stroke-width="3" />
<line x1="1346.2" y1="279.3" x2="1539.2" y2="279.3" stroke="#161616" stroke-width="3" />
<line x1="1346.2" y1="303" x2="1539.2" y2="303" stroke="#161616" stroke-width="3" />
<rect x="1376" y="150" width="3" height="168" fill="#d0d0d0"/>
<rect x="1403.5" y="150" width="3" height="168" fill="#d0d0d0"/>
<rect x="1480" y="150" width="3" height="168" fill="#d0d0d0"/>
<rect x="1507.7" y="150" width="3" height="168" fill="#d0d0d0"/>
<rect x="1352" y="150" width="24" height="155.3" fill="#161616"/>
<rect x="1356.4" y="156" width="15.2" height="144.5" fill="#fff"/>
<rect x="1352.5" y="152.3" width="23" height="1.5" fill="#7a7a7a"/>
<rect x="1356" y="157.65" width="16" height="1.9" fill="#161616"/>
<rect x="1358.2" y="163.4" width="11.6" height="6.6" fill="#888"/>
<rect x="1360.6" y="162.8" width="6.8" height="7.8" rx="2.6" stroke="#161616" stroke-width="3.0" fill="#fff"/>
<rect x="1363" y="165.1" width="2" height="3.2" fill="#aaa"/>
<rect x="1356" y="164.55" width="16" height="0.5" fill="#161616"/>
<rect x="1356" y="176.5" width="16" height="9" fill="#161616"/>
<rect x="1358" y="179.8" width="12" height="4" fill="#fff"/>
<rect x="1356" y="192.45" width="16" height="3.7" fill="#161616"/>
<rect x="1356" y="197.55" width="16" height="2.1" fill="#161616"/>
<rect x="1356" y="205.75" width="16" height="2.3" fill="#161616"/>
<rect x="1358.2" y="214" width="11.6" height="6.6" fill="#888"/>
<rect x="1360.6" y="213.4" width="6.8" height="7.8" rx="2.6" stroke="#161616" stroke-width="3.0" fill="#fff"/>
<rect x="1363" y="215.7" width="2" height="3.2" fill="#aaa"/>
<rect x="1356" y="227.65" width="16" height="2.3" fill="#161616"/>
<rect x="1356" y="235.05" width="16" height="3.5" fill="#161616"/>
<rect x="1362.8" y="239.3" width="2.4" height="6.1" fill="#161616"/>
<rect x="1356" y="247.65" width="16" height="3.1" fill="#161616"/>
<rect x="1356" y="257.45" width="16" height="2.1" fill="#161616"/>
<rect x="1358.2" y="265.3" width="11.6" height="6.6" fill="#888"/>
<rect x="1360.6" y="264.7" width="6.8" height="7.8" rx="2.6" stroke="#161616" stroke-width="3.0" fill="#fff"/>
<rect x="1363" y="267" width="2" height="3.2" fill="#aaa"/>
<rect x="1356" y="277.5" width="16" height="10.8" fill="#161616"/>
<rect x="1358" y="281.7" width="12" height="4.5" fill="#fff"/>
<rect x="1356" y="300.5" width="16" height="5" fill="#161616"/>
<rect x="1353" y="305.3" width="22" height="11.9" stroke="#161616" stroke-width="2.2" fill="#fff" />
<rect x="1379.5" y="150" width="24" height="155.3" fill="#161616"/>
<rect x="1383.9" y="156" width="15.2" height="144.5" fill="#fff"/>
<rect x="1380" y="152.3" width="23" height="1.5" fill="#7a7a7a"/>
<rect x="1383.5" y="157.65" width="16" height="1.9" fill="#161616"/>
<rect x="1385.7" y="163.4" width="11.6" height="6.6" fill="#888"/>
<rect x="1388.1" y="162.8" width="6.8" height="7.8" rx="2.6" stroke="#161616" stroke-width="3.0" fill="#fff"/>
<rect x="1390.5" y="165.1" width="2" height="3.2" fill="#aaa"/>
<rect x="1383.5" y="164.55" width="16" height="0.5" fill="#161616"/>
<rect x="1383.5" y="176.5" width="16" height="9" fill="#161616"/>
<rect x="1385.5" y="179.8" width="12" height="4" fill="#fff"/>
<rect x="1383.5" y="192.45" width="16" height="3.7" fill="#161616"/>
<rect x="1383.5" y="197.55" width="16" height="2.1" fill="#161616"/>
<rect x="1383.5" y="205.75" width="16" height="2.3" fill="#161616"/>
<rect x="1385.7" y="214" width="11.6" height="6.6" fill="#888"/>
<rect x="1388.1" y="213.4" width="6.8" height="7.8" rx="2.6" stroke="#161616" stroke-width="3.0" fill="#fff"/>
<rect x="1390.5" y="215.7" width="2" height="3.2" fill="#aaa"/>
<rect x="1383.5" y="227.65" width="16" height="2.3" fill="#161616"/>
<rect x="1383.5" y="235.05" width="16" height="3.5" fill="#161616"/>
<rect x="1390.3" y="239.3" width="2.4" height="6.1" fill="#161616"/>
<rect x="1383.5" y="247.65" width="16" height="3.1" fill="#161616"/>
<rect x="1383.5" y="257.45" width="16" height="2.1" fill="#161616"/>
<rect x="1385.7" y="265.3" width="11.6" height="6.6" fill="#888"/>
<rect x="1388.1" y="264.7" width="6.8" height="7.8" rx="2.6" stroke="#161616" stroke-width="3.0" fill="#fff"/>
<rect x="1390.5" y="267" width="2" height="3.2" fill="#aaa"/>
<rect x="1383.5" y="277.5" width="16" height="10.8" fill="#161616"/>
<rect x="1385.5" y="281.7" width="12" height="4.5" fill="#fff"/>
<rect x="1383.5" y="300.5" width="16" height="5" fill="#161616"/>
<rect x="1380.5" y="305.3" width="22" height="11.9" stroke="#161616" stroke-width="2.2" fill="#fff" />
<rect x="1406.5" y="150" width="24" height="155.3" fill="#161616"/>
<rect x="1410.9" y="156" width="15.2" height="144.5" fill="#fff"/>
<rect x="1407" y="152.3" width="23" height="1.5" fill="#7a7a7a"/>
<rect x="1410.5" y="157.65" width="16" height="1.9" fill="#161616"/>
<rect x="1412.7" y="163.4" width="11.6" height="6.6" fill="#888"/>
<rect x="1415.1" y="162.8" width="6.8" height="7.8" rx="2.6" stroke="#161616" stroke-width="3.0" fill="#fff"/>
<rect x="1417.5" y="165.1" width="2" height="3.2" fill="#aaa"/>
<rect x="1410.5" y="164.55" width="16" height="0.5" fill="#161616"/>
<rect x="1410.5" y="176.5" width="16" height="9" fill="#161616"/>
<rect x="1412.5" y="179.8" width="12" height="4" fill="#fff"/>
<rect x="1410.5" y="192.45" width="16" height="3.7" fill="#161616"/>
<rect x="1410.5" y="197.55" width="16" height="2.1" fill="#161616"/>
<rect x="1410.5" y="205.75" width="16" height="2.3" fill="#161616"/>
<rect x="1412.7" y="214" width="11.6" height="6.6" fill="#888"/>
<rect x="1415.1" y="213.4" width="6.8" height="7.8" rx="2.6" stroke="#161616" stroke-width="3.0" fill="#fff"/>
<rect x="1417.5" y="215.7" width="2" height="3.2" fill="#aaa"/>
<rect x="1410.5" y="227.65" width="16" height="2.3" fill="#161616"/>
<rect x="1410.5" y="235.05" width="16" height="3.5" fill="#161616"/>
<rect x="1417.3" y="239.3" width="2.4" height="6.1" fill="#161616"/>
<rect x="1410.5" y="247.65" width="16" height="3.1" fill="#161616"/>
<rect x="1410.5" y="257.45" width="16" height="2.1" fill="#161616"/>
<rect x="1412.7" y="265.3" width="11.6" height="6.6" fill="#888"/>
<rect x="1415.1" y="264.7" width="6.8" height="7.8" rx="2.6" stroke="#161616" stroke-width="3.0" fill="#fff"/>
<rect x="1417.5" y="267" width="2" height="3.2" fill="#aaa"/>
<rect x="1410.5" y="277.5" width="16" height="10.8" fill="#161616"/>
<rect x="1412.5" y="281.7" width="12" height="4.5" fill="#fff"/>
<rect x="1410.5" y="300.5" width="16" height="5" fill="#161616"/>
<rect x="1407.5" y="305.3" width="22" height="11.9" stroke="#161616" stroke-width="2.2" fill="#fff" />
<rect x="1456" y="150" width="24" height="155.3" fill="#161616"/>
<rect x="1460.4" y="156" width="15.2" height="144.5" fill="#fff"/>
<rect x="1456.5" y="152.3" width="23" height="1.5" fill="#7a7a7a"/>
<rect x="1460" y="157.65" width="16" height="1.9" fill="#161616"/>
<rect x="1462.2" y="163.4" width="11.6" height="6.6" fill="#888"/>
<rect x="1464.6" y="162.8" width="6.8" height="7.8" rx="2.6" stroke="#161616" stroke-width="3.0" fill="#fff"/>
<rect x="1467" y="165.1" width="2" height="3.2" fill="#aaa"/>
<rect x="1460" y="164.55" width="16" height="0.5" fill="#161616"/>
<rect x="1460" y="176.5" width="16" height="9" fill="#161616"/>
<rect x="1462" y="179.8" width="12" height="4" fill="#fff"/>
<rect x="1460" y="192.45" width="16" height="3.7" fill="#161616"/>
<rect x="1460" y="197.55" width="16" height="2.1" fill="#161616"/>
<rect x="1460" y="205.75" width="16" height="2.3" fill="#161616"/>
<rect x="1462.2" y="214" width="11.6" height="6.6" fill="#888"/>
<rect x="1464.6" y="213.4" width="6.8" height="7.8" rx="2.6" stroke="#161616" stroke-width="3.0" fill="#fff"/>
<rect x="1467" y="215.7" width="2" height="3.2" fill="#aaa"/>
<rect x="1460" y="227.65" width="16" height="2.3" fill="#161616"/>
<rect x="1460" y="235.05" width="16" height="3.5" fill="#161616"/>
<rect x="1466.8" y="239.3" width="2.4" height="6.1" fill="#161616"/>
<rect x="1460" y="247.65" width="16" height="3.1" fill="#161616"/>
<rect x="1460" y="257.45" width="16" height="2.1" fill="#161616"/>
<rect x="1462.2" y="265.3" width="11.6" height="6.6" fill="#888"/>
<rect x="1464.6" y="264.7" width="6.8" height="7.8" rx="2.6" stroke="#161616" stroke-width="3.0" fill="#fff"/>
<rect x="1467" y="267" width="2" height="3.2" fill="#aaa"/>
<rect x="1460" y="277.5" width="16" height="10.8" fill="#161616"/>
<rect x="1462" y="281.7" width="12" height="4.5" fill="#fff"/>
<rect x="1460" y="300.5" width="16" height="5" fill="#161616"/>
<rect x="1457" y="305.3" width="22" height="11.9" stroke="#161616" stroke-width="2.2" fill="#fff" />
<rect x="1483.7" y="150" width="24" height="155.3" fill="#161616"/>
<rect x="1488.1" y="156" width="15.2" height="144.5" fill="#fff"/>
<rect x="1484.2" y="152.3" width="23" height="1.5" fill="#7a7a7a"/>
<rect x="1487.7" y="157.65" width="16" height="1.9" fill="#161616"/>
<rect x="1489.9" y="163.4" width="11.6" height="6.6" fill="#888"/>
<rect x="1492.3" y="162.8" width="6.8" height="7.8" rx="2.6" stroke="#161616" stroke-width="3.0" fill="#fff"/>
<rect x="1494.7" y="165.1" width="2" height="3.2" fill="#aaa"/>
<rect x="1487.7" y="164.55" width="16" height="0.5" fill="#161616"/>
<rect x="1487.7" y="176.5" width="16" height="9" fill="#161616"/>
<rect x="1489.7" y="179.8" width="12" height="4" fill="#fff"/>
<rect x="1487.7" y="192.45" width="16" height="3.7" fill="#161616"/>
<rect x="1487.7" y="197.55" width="16" height="2.1" fill="#161616"/>
<rect x="1487.7" y="205.75" width="16" height="2.3" fill="#161616"/>
<rect x="1489.9" y="214" width="11.6" height="6.6" fill="#888"/>
<rect x="1492.3" y="213.4" width="6.8" height="7.8" rx="2.6" stroke="#161616" stroke-width="3.0" fill="#fff"/>
<rect x="1494.7" y="215.7" width="2" height="3.2" fill="#aaa"/>
<rect x="1487.7" y="227.65" width="16" height="2.3" fill="#161616"/>
<rect x="1487.7" y="235.05" width="16" height="3.5" fill="#161616"/>
<rect x="1494.5" y="239.3" width="2.4" height="6.1" fill="#161616"/>
<rect x="1487.7" y="247.65" width="16" height="3.1" fill="#161616"/>
<rect x="1487.7" y="257.45" width="16" height="2.1" fill="#161616"/>
<rect x="1489.9" y="265.3" width="11.6" height="6.6" fill="#888"/>
<rect x="1492.3" y="264.7" width="6.8" height="7.8" rx="2.6" stroke="#161616" stroke-width="3.0" fill="#fff"/>
<rect x="1494.7" y="267" width="2" height="3.2" fill="#aaa"/>
<rect x="1487.7" y="277.5" width="16" height="10.8" fill="#161616"/>
<rect x="1489.7" y="281.7" width="12" height="4.5" fill="#fff"/>
<rect x="1487.7" y="300.5" width="16" height="5" fill="#161616"/>
<rect x="1484.7" y="305.3" width="22" height="11.9" stroke="#161616" stroke-width="2.2" fill="#fff" />
<rect x="1510.7" y="150" width="24" height="155.3" fill="#161616"/>
<rect x="1515.1" y="156" width="15.2" height="144.5" fill="#fff"/>
<rect x="1511.2" y="152.3" width="23" height="1.5" fill="#7a7a7a"/>
<rect x="1514.7" y="157.65" width="16" height="1.9" fill="#161616"/>
<rect x="1516.9" y="163.4" width="11.6" height="6.6" fill="#888"/>
<rect x="1519.3" y="162.8" width="6.8" height="7.8" rx="2.6" stroke="#161616" stroke-width="3.0" fill="#fff"/>
<rect x="1521.7" y="165.1" width="2" height="3.2" fill="#aaa"/>
<rect x="1514.7" y="164.55" width="16" height="0.5" fill="#161616"/>
<rect x="1514.7" y="176.5" width="16" height="9" fill="#161616"/>
<rect x="1516.7" y="179.8" width="12" height="4" fill="#fff"/>
<rect x="1514.7" y="192.45" width="16" height="3.7" fill="#161616"/>
<rect x="1514.7" y="197.55" width="16" height="2.1" fill="#161616"/>
<rect x="1514.7" y="205.75" width="16" height="2.3" fill="#161616"/>
<rect x="1516.9" y="214" width="11.6" height="6.6" fill="#888"/>
<rect x="1519.3" y="213.4" width="6.8" height="7.8" rx="2.6" stroke="#161616" stroke-width="3.0" fill="#fff"/>
<rect x="1521.7" y="215.7" width="2" height="3.2" fill="#aaa"/>
<rect x="1514.7" y="227.65" width="16" height="2.3" fill="#161616"/>
<rect x="1514.7" y="235.05" width="16" height="3.5" fill="#161616"/>
<rect x="1521.5" y="239.3" width="2.4" height="6.1" fill="#161616"/>
<rect x="1514.7" y="247.65" width="16" height="3.1" fill="#161616"/>
<rect x="1514.7" y="257.45" width="16" height="2.1" fill="#161616"/>
<rect x="1516.9" y="265.3" width="11.6" height="6.6" fill="#888"/>
<rect x="1519.3" y="264.7" width="6.8" height="7.8" rx="2.6" stroke="#161616" stroke-width="3.0" fill="#fff"/>
<rect x="1521.7" y="267" width="2" height="3.2" fill="#aaa"/>
<rect x="1514.7" y="277.5" width="16" height="10.8" fill="#161616"/>
<rect x="1516.7" y="281.7" width="12" height="4.5" fill="#fff"/>
<rect x="1514.7" y="300.5" width="16" height="5" fill="#161616"/>
<rect x="1511.7" y="305.3" width="22" height="11.9" stroke="#161616" stroke-width="2.2" fill="#fff" />
<line x1="1346.2" y1="164.8" x2="1539.2" y2="164.8" stroke="#161616" stroke-width="3" />
<line x1="1346.2" y1="194.5" x2="1539.2" y2="194.5" stroke="#161616" stroke-width="3" />
<line x1="1346.2" y1="236.8" x2="1539.2" y2="236.8" stroke="#161616" stroke-width="3" />
<line x1="1346.2" y1="279.3" x2="1539.2" y2="279.3" stroke="#161616" stroke-width="3" />
<line x1="1346.2" y1="303" x2="1539.2" y2="303" stroke="#161616" stroke-width="3" />
<rect x="1461" y="404" width="78.1" height="18.4" stroke="#161616" stroke-width="2.8" fill="#fff" />
<rect x="1346.3" y="398.5" width="114.7" height="26.5" fill="#fff"/>
<rect x="1350.2" y="399.5" width="2.8" height="24.5" fill="#3c3c3c"/>
<rect x="1346.6" y="398.5" width="1.5" height="26.5" fill="#141414"/>
<rect x="1358.3" y="399.5" width="2.7" height="24.5" fill="#9a9a9a"/>
<rect x="1356.6" y="398.5" width="1.5" height="26.5" fill="#141414"/>
<rect x="1366.2" y="399.5" width="2.8" height="24.5" fill="#3c3c3c"/>
<rect x="1362.6" y="398.5" width="1.5" height="26.5" fill="#141414"/>
<rect x="1374.3" y="399.5" width="2.7" height="24.5" fill="#9a9a9a"/>
<rect x="1372.6" y="398.5" width="1.5" height="26.5" fill="#141414"/>
<rect x="1382.2" y="399.5" width="2.8" height="24.5" fill="#3c3c3c"/>
<rect x="1378.6" y="398.5" width="1.5" height="26.5" fill="#141414"/>
<rect x="1390.3" y="399.5" width="2.7" height="24.5" fill="#9a9a9a"/>
<rect x="1388.6" y="398.5" width="1.5" height="26.5" fill="#141414"/>
<rect x="1398.2" y="399.5" width="2.8" height="24.5" fill="#3c3c3c"/>
<rect x="1394.6" y="398.5" width="1.5" height="26.5" fill="#141414"/>
<rect x="1406.3" y="399.5" width="2.7" height="24.5" fill="#9a9a9a"/>
<rect x="1404.6" y="398.5" width="1.5" height="26.5" fill="#141414"/>
<rect x="1414.2" y="399.5" width="2.8" height="24.5" fill="#3c3c3c"/>
<rect x="1410.6" y="398.5" width="1.5" height="26.5" fill="#141414"/>
<rect x="1422.3" y="399.5" width="2.7" height="24.5" fill="#9a9a9a"/>
<rect x="1420.6" y="398.5" width="1.5" height="26.5" fill="#141414"/>
<rect x="1430.2" y="399.5" width="2.8" height="24.5" fill="#3c3c3c"/>
<rect x="1426.6" y="398.5" width="1.5" height="26.5" fill="#141414"/>
<rect x="1438.3" y="399.5" width="2.7" height="24.5" fill="#9a9a9a"/>
<rect x="1436.6" y="398.5" width="1.5" height="26.5" fill="#141414"/>
<rect x="1446.2" y="399.5" width="2.8" height="24.5" fill="#3c3c3c"/>
<rect x="1442.6" y="398.5" width="1.5" height="26.5" fill="#141414"/>
<rect x="1454.3" y="399.5" width="2.7" height="24.5" fill="#9a9a9a"/>
<rect x="1452.6" y="398.5" width="1.5" height="26.5" fill="#141414"/>
<rect x="1462.2" y="399.5" width="-2" height="24.5" fill="#3c3c3c"/>
<rect x="1458.6" y="398.5" width="1.5" height="26.5" fill="#141414"/>
<rect x="1346.3" y="398.5" width="114.7" height="26.5" stroke="#161616" stroke-width="1.4" fill="none" />
<rect x="1346.3" y="425" width="4.9" height="4" stroke="#161616" stroke-width="1.4" fill="#fff" />
<rect x="1351.5" y="425" width="33.7" height="23.6" fill="#fff"/>
<rect x="1355.4" y="426" width="2.8" height="21.6" fill="#3c3c3c"/>
<rect x="1351.8" y="425" width="1.5" height="23.6" fill="#141414"/>
<rect x="1363.5" y="426" width="2.7" height="21.6" fill="#9a9a9a"/>
<rect x="1361.8" y="425" width="1.5" height="23.6" fill="#141414"/>
<rect x="1371.4" y="426" width="2.8" height="21.6" fill="#3c3c3c"/>
<rect x="1367.8" y="425" width="1.5" height="23.6" fill="#141414"/>
<rect x="1379.5" y="426" width="2.7" height="21.6" fill="#9a9a9a"/>
<rect x="1377.8" y="425" width="1.5" height="23.6" fill="#141414"/>
<rect x="1387.4" y="426" width="-3" height="21.6" fill="#3c3c3c"/>
<rect x="1383.8" y="425" width="1.4" height="23.6" fill="#141414"/>
<rect x="1351.5" y="425" width="33.7" height="23.6" stroke="#161616" stroke-width="1.4" fill="none" />
<rect x="1351.5" y="447" width="33.7" height="2.3" fill="#161616"/>
<rect x="1387.9" y="425" width="33.4" height="23.6" fill="#fff"/>
<rect x="1391.8" y="426" width="2.8" height="21.6" fill="#3c3c3c"/>
<rect x="1388.2" y="425" width="1.5" height="23.6" fill="#141414"/>
<rect x="1399.9" y="426" width="2.7" height="21.6" fill="#9a9a9a"/>
<rect x="1398.2" y="425" width="1.5" height="23.6" fill="#141414"/>
<rect x="1407.8" y="426" width="2.8" height="21.6" fill="#3c3c3c"/>
<rect x="1404.2" y="425" width="1.5" height="23.6" fill="#141414"/>
<rect x="1415.9" y="426" width="2.7" height="21.6" fill="#9a9a9a"/>
<rect x="1414.2" y="425" width="1.5" height="23.6" fill="#141414"/>
<rect x="1423.8" y="426" width="-3.3" height="21.6" fill="#3c3c3c"/>
<rect x="1420.2" y="425" width="1.1" height="23.6" fill="#141414"/>
<rect x="1387.9" y="425" width="33.4" height="23.6" stroke="#161616" stroke-width="1.4" fill="none" />
<rect x="1387.9" y="447" width="33.4" height="2.3" fill="#161616"/>
<rect x="1424" y="425" width="35.2" height="23.6" fill="#fff"/>
<rect x="1427.9" y="426" width="2.8" height="21.6" fill="#3c3c3c"/>
<rect x="1424.3" y="425" width="1.5" height="23.6" fill="#141414"/>
<rect x="1436" y="426" width="2.7" height="21.6" fill="#9a9a9a"/>
<rect x="1434.3" y="425" width="1.5" height="23.6" fill="#141414"/>
<rect x="1443.9" y="426" width="2.8" height="21.6" fill="#3c3c3c"/>
<rect x="1440.3" y="425" width="1.5" height="23.6" fill="#141414"/>
<rect x="1452" y="426" width="2.7" height="21.6" fill="#9a9a9a"/>
<rect x="1450.3" y="425" width="1.5" height="23.6" fill="#141414"/>
<rect x="1459.9" y="426" width="-1.5" height="21.6" fill="#3c3c3c"/>
<rect x="1456.3" y="425" width="1.5" height="23.6" fill="#141414"/>
<rect x="1424" y="425" width="35.2" height="23.6" stroke="#161616" stroke-width="1.4" fill="none" />
<rect x="1424" y="447" width="35.2" height="2.3" fill="#161616"/>
<rect x="1459" y="398.5" width="3.3" height="30.5" fill="#2a2a2a"/>
<rect x="1346.3" y="489.8" width="77.9" height="18" stroke="#161616" stroke-width="2.8" fill="#fff" />
<rect x="1424.2" y="484.6" width="115.3" height="28.6" fill="#fff"/>
<rect x="1428.1" y="485.6" width="2.8" height="26.6" fill="#3c3c3c"/>
<rect x="1424.5" y="484.6" width="1.5" height="28.6" fill="#141414"/>
<rect x="1436.2" y="485.6" width="2.7" height="26.6" fill="#9a9a9a"/>
<rect x="1434.5" y="484.6" width="1.5" height="28.6" fill="#141414"/>
<rect x="1444.1" y="485.6" width="2.8" height="26.6" fill="#3c3c3c"/>
<rect x="1440.5" y="484.6" width="1.5" height="28.6" fill="#141414"/>
<rect x="1452.2" y="485.6" width="2.7" height="26.6" fill="#9a9a9a"/>
<rect x="1450.5" y="484.6" width="1.5" height="28.6" fill="#141414"/>
<rect x="1460.1" y="485.6" width="2.8" height="26.6" fill="#3c3c3c"/>
<rect x="1456.5" y="484.6" width="1.5" height="28.6" fill="#141414"/>
<rect x="1468.2" y="485.6" width="2.7" height="26.6" fill="#9a9a9a"/>
<rect x="1466.5" y="484.6" width="1.5" height="28.6" fill="#141414"/>
<rect x="1476.1" y="485.6" width="2.8" height="26.6" fill="#3c3c3c"/>
<rect x="1472.5" y="484.6" width="1.5" height="28.6" fill="#141414"/>
<rect x="1484.2" y="485.6" width="2.7" height="26.6" fill="#9a9a9a"/>
<rect x="1482.5" y="484.6" width="1.5" height="28.6" fill="#141414"/>
<rect x="1492.1" y="485.6" width="2.8" height="26.6" fill="#3c3c3c"/>
<rect x="1488.5" y="484.6" width="1.5" height="28.6" fill="#141414"/>
<rect x="1500.2" y="485.6" width="2.7" height="26.6" fill="#9a9a9a"/>
<rect x="1498.5" y="484.6" width="1.5" height="28.6" fill="#141414"/>
<rect x="1508.1" y="485.6" width="2.8" height="26.6" fill="#3c3c3c"/>
<rect x="1504.5" y="484.6" width="1.5" height="28.6" fill="#141414"/>
<rect x="1516.2" y="485.6" width="2.7" height="26.6" fill="#9a9a9a"/>
<rect x="1514.5" y="484.6" width="1.5" height="28.6" fill="#141414"/>
<rect x="1524.1" y="485.6" width="2.8" height="26.6" fill="#3c3c3c"/>
<rect x="1520.5" y="484.6" width="1.5" height="28.6" fill="#141414"/>
<rect x="1532.2" y="485.6" width="2.7" height="26.6" fill="#9a9a9a"/>
<rect x="1530.5" y="484.6" width="1.5" height="28.6" fill="#141414"/>
<rect x="1540.1" y="485.6" width="-1.4" height="26.6" fill="#3c3c3c"/>
<rect x="1536.5" y="484.6" width="1.5" height="28.6" fill="#141414"/>
<rect x="1424.2" y="484.6" width="115.3" height="28.6" stroke="#161616" stroke-width="1.4" fill="none" />
<rect x="1424.2" y="511.6" width="115.3" height="2.3" fill="#161616"/>
<rect x="1428" y="464.2" width="31.9" height="22.7" fill="#fff"/>
<rect x="1431.9" y="465.2" width="2.8" height="20.7" fill="#3c3c3c"/>
<rect x="1428.3" y="464.2" width="1.5" height="22.7" fill="#141414"/>
<rect x="1440" y="465.2" width="2.7" height="20.7" fill="#9a9a9a"/>
<rect x="1438.3" y="464.2" width="1.5" height="22.7" fill="#141414"/>
<rect x="1447.9" y="465.2" width="2.8" height="20.7" fill="#3c3c3c"/>
<rect x="1444.3" y="464.2" width="1.5" height="22.7" fill="#141414"/>
<rect x="1456" y="465.2" width="2.7" height="20.7" fill="#9a9a9a"/>
<rect x="1454.3" y="464.2" width="1.5" height="22.7" fill="#141414"/>
<rect x="1428" y="464.2" width="31.9" height="22.7" stroke="#161616" stroke-width="1.4" fill="none" />
<rect x="1464.3" y="464.2" width="33" height="22.7" fill="#fff"/>
<rect x="1468.2" y="465.2" width="2.8" height="20.7" fill="#3c3c3c"/>
<rect x="1464.6" y="464.2" width="1.5" height="22.7" fill="#141414"/>
<rect x="1476.3" y="465.2" width="2.7" height="20.7" fill="#9a9a9a"/>
<rect x="1474.6" y="464.2" width="1.5" height="22.7" fill="#141414"/>
<rect x="1484.2" y="465.2" width="2.8" height="20.7" fill="#3c3c3c"/>
<rect x="1480.6" y="464.2" width="1.5" height="22.7" fill="#141414"/>
<rect x="1492.3" y="465.2" width="2.7" height="20.7" fill="#9a9a9a"/>
<rect x="1490.6" y="464.2" width="1.5" height="22.7" fill="#141414"/>
<rect x="1464.3" y="464.2" width="33" height="22.7" stroke="#161616" stroke-width="1.4" fill="none" />
<rect x="1501.9" y="464.2" width="31.7" height="22.7" fill="#fff"/>
<rect x="1505.8" y="465.2" width="2.8" height="20.7" fill="#3c3c3c"/>
<rect x="1502.2" y="464.2" width="1.5" height="22.7" fill="#141414"/>
<rect x="1513.9" y="465.2" width="2.7" height="20.7" fill="#9a9a9a"/>
<rect x="1512.2" y="464.2" width="1.5" height="22.7" fill="#141414"/>
<rect x="1521.8" y="465.2" width="2.8" height="20.7" fill="#3c3c3c"/>
<rect x="1518.2" y="464.2" width="1.5" height="22.7" fill="#141414"/>
<rect x="1529.9" y="465.2" width="2.7" height="20.7" fill="#9a9a9a"/>
<rect x="1528.2" y="464.2" width="1.5" height="22.7" fill="#141414"/>
<rect x="1501.9" y="464.2" width="31.7" height="22.7" stroke="#161616" stroke-width="1.4" fill="none" />
<rect x="1423.9" y="484.4" width="4.2" height="28.8" fill="#2a2a2a"/>
<line x1="1557.2" y1="164.8" x2="1750.2" y2="164.8" stroke="#161616" stroke-width="3" />
<line x1="1557.2" y1="194.5" x2="1750.2" y2="194.5" stroke="#161616" stroke-width="3" />
<line x1="1557.2" y1="236.8" x2="1750.2" y2="236.8" stroke="#161616" stroke-width="3" />
<line x1="1557.2" y1="279.3" x2="1750.2" y2="279.3" stroke="#161616" stroke-width="3" />
<line x1="1557.2" y1="303" x2="1750.2" y2="303" stroke="#161616" stroke-width="3" />
<rect x="1587" y="150" width="3" height="168" fill="#d0d0d0"/>
<rect x="1614.5" y="150" width="3" height="168" fill="#d0d0d0"/>
<rect x="1691" y="150" width="3" height="168" fill="#d0d0d0"/>
<rect x="1718.7" y="150" width="3" height="168" fill="#d0d0d0"/>
<rect x="1563" y="150" width="24" height="155.3" fill="#161616"/>
<rect x="1567.4" y="156" width="15.2" height="144.5" fill="#fff"/>
<rect x="1563.5" y="152.3" width="23" height="1.5" fill="#7a7a7a"/>
<rect x="1567" y="157.65" width="16" height="1.9" fill="#161616"/>
<rect x="1569.2" y="163.4" width="11.6" height="6.6" fill="#888"/>
<rect x="1571.6" y="162.8" width="6.8" height="7.8" rx="2.6" stroke="#161616" stroke-width="3.0" fill="#fff"/>
<rect x="1574" y="165.1" width="2" height="3.2" fill="#aaa"/>
<rect x="1567" y="164.55" width="16" height="0.5" fill="#161616"/>
<rect x="1567" y="176.5" width="16" height="9" fill="#161616"/>
<rect x="1569" y="179.8" width="12" height="4" fill="#fff"/>
<rect x="1567" y="192.45" width="16" height="3.7" fill="#161616"/>
<rect x="1567" y="197.55" width="16" height="2.1" fill="#161616"/>
<rect x="1567" y="205.75" width="16" height="2.3" fill="#161616"/>
<rect x="1569.2" y="214" width="11.6" height="6.6" fill="#888"/>
<rect x="1571.6" y="213.4" width="6.8" height="7.8" rx="2.6" stroke="#161616" stroke-width="3.0" fill="#fff"/>
<rect x="1574" y="215.7" width="2" height="3.2" fill="#aaa"/>
<rect x="1567" y="227.65" width="16" height="2.3" fill="#161616"/>
<rect x="1567" y="235.05" width="16" height="3.5" fill="#161616"/>
<rect x="1573.8" y="239.3" width="2.4" height="6.1" fill="#161616"/>
<rect x="1567" y="247.65" width="16" height="3.1" fill="#161616"/>
<rect x="1567" y="257.45" width="16" height="2.1" fill="#161616"/>
<rect x="1569.2" y="265.3" width="11.6" height="6.6" fill="#888"/>
<rect x="1571.6" y="264.7" width="6.8" height="7.8" rx="2.6" stroke="#161616" stroke-width="3.0" fill="#fff"/>
<rect x="1574" y="267" width="2" height="3.2" fill="#aaa"/>
<rect x="1567" y="277.5" width="16" height="10.8" fill="#161616"/>
<rect x="1569" y="281.7" width="12" height="4.5" fill="#fff"/>
<rect x="1567" y="300.5" width="16" height="5" fill="#161616"/>
<rect x="1564" y="305.3" width="22" height="11.9" stroke="#161616" stroke-width="2.2" fill="#fff" />
<rect x="1590.5" y="150" width="24" height="155.3" fill="#161616"/>
<rect x="1594.9" y="156" width="15.2" height="144.5" fill="#fff"/>
<rect x="1591" y="152.3" width="23" height="1.5" fill="#7a7a7a"/>
<rect x="1594.5" y="157.65" width="16" height="1.9" fill="#161616"/>
<rect x="1596.7" y="163.4" width="11.6" height="6.6" fill="#888"/>
<rect x="1599.1" y="162.8" width="6.8" height="7.8" rx="2.6" stroke="#161616" stroke-width="3.0" fill="#fff"/>
<rect x="1601.5" y="165.1" width="2" height="3.2" fill="#aaa"/>
<rect x="1594.5" y="164.55" width="16" height="0.5" fill="#161616"/>
<rect x="1594.5" y="176.5" width="16" height="9" fill="#161616"/>
<rect x="1596.5" y="179.8" width="12" height="4" fill="#fff"/>
<rect x="1594.5" y="192.45" width="16" height="3.7" fill="#161616"/>
<rect x="1594.5" y="197.55" width="16" height="2.1" fill="#161616"/>
<rect x="1594.5" y="205.75" width="16" height="2.3" fill="#161616"/>
<rect x="1596.7" y="214" width="11.6" height="6.6" fill="#888"/>
<rect x="1599.1" y="213.4" width="6.8" height="7.8" rx="2.6" stroke="#161616" stroke-width="3.0" fill="#fff"/>
<rect x="1601.5" y="215.7" width="2" height="3.2" fill="#aaa"/>
<rect x="1594.5" y="227.65" width="16" height="2.3" fill="#161616"/>
<rect x="1594.5" y="235.05" width="16" height="3.5" fill="#161616"/>
<rect x="1601.3" y="239.3" width="2.4" height="6.1" fill="#161616"/>
<rect x="1594.5" y="247.65" width="16" height="3.1" fill="#161616"/>
<rect x="1594.5" y="257.45" width="16" height="2.1" fill="#161616"/>
<rect x="1596.7" y="265.3" width="11.6" height="6.6" fill="#888"/>
<rect x="1599.1" y="264.7" width="6.8" height="7.8" rx="2.6" stroke="#161616" stroke-width="3.0" fill="#fff"/>
<rect x="1601.5" y="267" width="2" height="3.2" fill="#aaa"/>
<rect x="1594.5" y="277.5" width="16" height="10.8" fill="#161616"/>
<rect x="1596.5" y="281.7" width="12" height="4.5" fill="#fff"/>
<rect x="1594.5" y="300.5" width="16" height="5" fill="#161616"/>
<rect x="1591.5" y="305.3" width="22" height="11.9" stroke="#161616" stroke-width="2.2" fill="#fff" />
<rect x="1617.5" y="150" width="24" height="155.3" fill="#161616"/>
<rect x="1621.9" y="156" width="15.2" height="144.5" fill="#fff"/>
<rect x="1618" y="152.3" width="23" height="1.5" fill="#7a7a7a"/>
<rect x="1621.5" y="157.65" width="16" height="1.9" fill="#161616"/>
<rect x="1623.7" y="163.4" width="11.6" height="6.6" fill="#888"/>
<rect x="1626.1" y="162.8" width="6.8" height="7.8" rx="2.6" stroke="#161616" stroke-width="3.0" fill="#fff"/>
<rect x="1628.5" y="165.1" width="2" height="3.2" fill="#aaa"/>
<rect x="1621.5" y="164.55" width="16" height="0.5" fill="#161616"/>
<rect x="1621.5" y="176.5" width="16" height="9" fill="#161616"/>
<rect x="1623.5" y="179.8" width="12" height="4" fill="#fff"/>
<rect x="1621.5" y="192.45" width="16" height="3.7" fill="#161616"/>
<rect x="1621.5" y="197.55" width="16" height="2.1" fill="#161616"/>
<rect x="1621.5" y="205.75" width="16" height="2.3" fill="#161616"/>
<rect x="1623.7" y="214" width="11.6" height="6.6" fill="#888"/>
<rect x="1626.1" y="213.4" width="6.8" height="7.8" rx="2.6" stroke="#161616" stroke-width="3.0" fill="#fff"/>
<rect x="1628.5" y="215.7" width="2" height="3.2" fill="#aaa"/>
<rect x="1621.5" y="227.65" width="16" height="2.3" fill="#161616"/>
<rect x="1621.5" y="235.05" width="16" height="3.5" fill="#161616"/>
<rect x="1628.3" y="239.3" width="2.4" height="6.1" fill="#161616"/>
<rect x="1621.5" y="247.65" width="16" height="3.1" fill="#161616"/>
<rect x="1621.5" y="257.45" width="16" height="2.1" fill="#161616"/>
<rect x="1623.7" y="265.3" width="11.6" height="6.6" fill="#888"/>
<rect x="1626.1" y="264.7" width="6.8" height="7.8" rx="2.6" stroke="#161616" stroke-width="3.0" fill="#fff"/>
<rect x="1628.5" y="267" width="2" height="3.2" fill="#aaa"/>
<rect x="1621.5" y="277.5" width="16" height="10.8" fill="#161616"/>
<rect x="1623.5" y="281.7" width="12" height="4.5" fill="#fff"/>
<rect x="1621.5" y="300.5" width="16" height="5" fill="#161616"/>
<rect x="1618.5" y="305.3" width="22" height="11.9" stroke="#161616" stroke-width="2.2" fill="#fff" />
<rect x="1667" y="150" width="24" height="155.3" fill="#161616"/>
<rect x="1671.4" y="156" width="15.2" height="144.5" fill="#fff"/>
<rect x="1667.5" y="152.3" width="23" height="1.5" fill="#7a7a7a"/>
<rect x="1671" y="157.65" width="16" height="1.9" fill="#161616"/>
<rect x="1673.2" y="163.4" width="11.6" height="6.6" fill="#888"/>
<rect x="1675.6" y="162.8" width="6.8" height="7.8" rx="2.6" stroke="#161616" stroke-width="3.0" fill="#fff"/>
<rect x="1678" y="165.1" width="2" height="3.2" fill="#aaa"/>
<rect x="1671" y="164.55" width="16" height="0.5" fill="#161616"/>
<rect x="1671" y="176.5" width="16" height="9" fill="#161616"/>
<rect x="1673" y="179.8" width="12" height="4" fill="#fff"/>
<rect x="1671" y="192.45" width="16" height="3.7" fill="#161616"/>
<rect x="1671" y="197.55" width="16" height="2.1" fill="#161616"/>
<rect x="1671" y="205.75" width="16" height="2.3" fill="#161616"/>
<rect x="1673.2" y="214" width="11.6" height="6.6" fill="#888"/>
<rect x="1675.6" y="213.4" width="6.8" height="7.8" rx="2.6" stroke="#161616" stroke-width="3.0" fill="#fff"/>
<rect x="1678" y="215.7" width="2" height="3.2" fill="#aaa"/>
<rect x="1671" y="227.65" width="16" height="2.3" fill="#161616"/>
<rect x="1671" y="235.05" width="16" height="3.5" fill="#161616"/>
<rect x="1677.8" y="239.3" width="2.4" height="6.1" fill="#161616"/>
<rect x="1671" y="247.65" width="16" height="3.1" fill="#161616"/>
<rect x="1671" y="257.45" width="16" height="2.1" fill="#161616"/>
<rect x="1673.2" y="265.3" width="11.6" height="6.6" fill="#888"/>
<rect x="1675.6" y="264.7" width="6.8" height="7.8" rx="2.6" stroke="#161616" stroke-width="3.0" fill="#fff"/>
<rect x="1678" y="267" width="2" height="3.2" fill="#aaa"/>
<rect x="1671" y="277.5" width="16" height="10.8" fill="#161616"/>
<rect x="1673" y="281.7" width="12" height="4.5" fill="#fff"/>
<rect x="1671" y="300.5" width="16" height="5" fill="#161616"/>
<rect x="1668" y="305.3" width="22" height="11.9" stroke="#161616" stroke-width="2.2" fill="#fff" />
<rect x="1694.7" y="150" width="24" height="155.3" fill="#161616"/>
<rect x="1699.1" y="156" width="15.2" height="144.5" fill="#fff"/>
<rect x="1695.2" y="152.3" width="23" height="1.5" fill="#7a7a7a"/>
<rect x="1698.7" y="157.65" width="16" height="1.9" fill="#161616"/>
<rect x="1700.9" y="163.4" width="11.6" height="6.6" fill="#888"/>
<rect x="1703.3" y="162.8" width="6.8" height="7.8" rx="2.6" stroke="#161616" stroke-width="3.0" fill="#fff"/>
<rect x="1705.7" y="165.1" width="2" height="3.2" fill="#aaa"/>
<rect x="1698.7" y="164.55" width="16" height="0.5" fill="#161616"/>
<rect x="1698.7" y="176.5" width="16" height="9" fill="#161616"/>
<rect x="1700.7" y="179.8" width="12" height="4" fill="#fff"/>
<rect x="1698.7" y="192.45" width="16" height="3.7" fill="#161616"/>
<rect x="1698.7" y="197.55" width="16" height="2.1" fill="#161616"/>
<rect x="1698.7" y="205.75" width="16" height="2.3" fill="#161616"/>
<rect x="1700.9" y="214" width="11.6" height="6.6" fill="#888"/>
<rect x="1703.3" y="213.4" width="6.8" height="7.8" rx="2.6" stroke="#161616" stroke-width="3.0" fill="#fff"/>
<rect x="1705.7" y="215.7" width="2" height="3.2" fill="#aaa"/>
<rect x="1698.7" y="227.65" width="16" height="2.3" fill="#161616"/>
<rect x="1698.7" y="235.05" width="16" height="3.5" fill="#161616"/>
<rect x="1705.5" y="239.3" width="2.4" height="6.1" fill="#161616"/>
<rect x="1698.7" y="247.65" width="16" height="3.1" fill="#161616"/>
<rect x="1698.7" y="257.45" width="16" height="2.1" fill="#161616"/>
<rect x="1700.9" y="265.3" width="11.6" height="6.6" fill="#888"/>
<rect x="1703.3" y="264.7" width="6.8" height="7.8" rx="2.6" stroke="#161616" stroke-width="3.0" fill="#fff"/>
<rect x="1705.7" y="267" width="2" height="3.2" fill="#aaa"/>
<rect x="1698.7" y="277.5" width="16" height="10.8" fill="#161616"/>
<rect x="1700.7" y="281.7" width="12" height="4.5" fill="#fff"/>
<rect x="1698.7" y="300.5" width="16" height="5" fill="#161616"/>
<rect x="1695.7" y="305.3" width="22" height="11.9" stroke="#161616" stroke-width="2.2" fill="#fff" />
<rect x="1721.7" y="150" width="24" height="155.3" fill="#161616"/>
<rect x="1726.1" y="156" width="15.2" height="144.5" fill="#fff"/>
<rect x="1722.2" y="152.3" width="23" height="1.5" fill="#7a7a7a"/>
<rect x="1725.7" y="157.65" width="16" height="1.9" fill="#161616"/>
<rect x="1727.9" y="163.4" width="11.6" height="6.6" fill="#888"/>
<rect x="1730.3" y="162.8" width="6.8" height="7.8" rx="2.6" stroke="#161616" stroke-width="3.0" fill="#fff"/>
<rect x="1732.7" y="165.1" width="2" height="3.2" fill="#aaa"/>
<rect x="1725.7" y="164.55" width="16" height="0.5" fill="#161616"/>
<rect x="1725.7" y="176.5" width="16" height="9" fill="#161616"/>
<rect x="1727.7" y="179.8" width="12" height="4" fill="#fff"/>
<rect x="1725.7" y="192.45" width="16" height="3.7" fill="#161616"/>
<rect x="1725.7" y="197.55" width="16" height="2.1" fill="#161616"/>
<rect x="1725.7" y="205.75" width="16" height="2.3" fill="#161616"/>
<rect x="1727.9" y="214" width="11.6" height="6.6" fill="#888"/>
<rect x="1730.3" y="213.4" width="6.8" height="7.8" rx="2.6" stroke="#161616" stroke-width="3.0" fill="#fff"/>
<rect x="1732.7" y="215.7" width="2" height="3.2" fill="#aaa"/>
<rect x="1725.7" y="227.65" width="16" height="2.3" fill="#161616"/>
<rect x="1725.7" y="235.05" width="16" height="3.5" fill="#161616"/>
<rect x="1732.5" y="239.3" width="2.4" height="6.1" fill="#161616"/>
<rect x="1725.7" y="247.65" width="16" height="3.1" fill="#161616"/>
<rect x="1725.7" y="257.45" width="16" height="2.1" fill="#161616"/>
<rect x="1727.9" y="265.3" width="11.6" height="6.6" fill="#888"/>
<rect x="1730.3" y="264.7" width="6.8" height="7.8" rx="2.6" stroke="#161616" stroke-width="3.0" fill="#fff"/>
<rect x="1732.7" y="267" width="2" height="3.2" fill="#aaa"/>
<rect x="1725.7" y="277.5" width="16" height="10.8" fill="#161616"/>
<rect x="1727.7" y="281.7" width="12" height="4.5" fill="#fff"/>
<rect x="1725.7" y="300.5" width="16" height="5" fill="#161616"/>
<rect x="1722.7" y="305.3" width="22" height="11.9" stroke="#161616" stroke-width="2.2" fill="#fff" />
<line x1="1557.2" y1="164.8" x2="1750.2" y2="164.8" stroke="#161616" stroke-width="3" />
<line x1="1557.2" y1="194.5" x2="1750.2" y2="194.5" stroke="#161616" stroke-width="3" />
<line x1="1557.2" y1="236.8" x2="1750.2" y2="236.8" stroke="#161616" stroke-width="3" />
<line x1="1557.2" y1="279.3" x2="1750.2" y2="279.3" stroke="#161616" stroke-width="3" />
<line x1="1557.2" y1="303" x2="1750.2" y2="303" stroke="#161616" stroke-width="3" />
<rect x="1672" y="404" width="78.1" height="18.4" stroke="#161616" stroke-width="2.8" fill="#fff" />
<rect x="1557.3" y="398.5" width="114.7" height="26.5" fill="#fff"/>
<rect x="1561.2" y="399.5" width="2.8" height="24.5" fill="#3c3c3c"/>
<rect x="1557.6" y="398.5" width="1.5" height="26.5" fill="#141414"/>
<rect x="1569.3" y="399.5" width="2.7" height="24.5" fill="#9a9a9a"/>
<rect x="1567.6" y="398.5" width="1.5" height="26.5" fill="#141414"/>
<rect x="1577.2" y="399.5" width="2.8" height="24.5" fill="#3c3c3c"/>
<rect x="1573.6" y="398.5" width="1.5" height="26.5" fill="#141414"/>
<rect x="1585.3" y="399.5" width="2.7" height="24.5" fill="#9a9a9a"/>
<rect x="1583.6" y="398.5" width="1.5" height="26.5" fill="#141414"/>
<rect x="1593.2" y="399.5" width="2.8" height="24.5" fill="#3c3c3c"/>
<rect x="1589.6" y="398.5" width="1.5" height="26.5" fill="#141414"/>
<rect x="1601.3" y="399.5" width="2.7" height="24.5" fill="#9a9a9a"/>
<rect x="1599.6" y="398.5" width="1.5" height="26.5" fill="#141414"/>
<rect x="1609.2" y="399.5" width="2.8" height="24.5" fill="#3c3c3c"/>
<rect x="1605.6" y="398.5" width="1.5" height="26.5" fill="#141414"/>
<rect x="1617.3" y="399.5" width="2.7" height="24.5" fill="#9a9a9a"/>
<rect x="1615.6" y="398.5" width="1.5" height="26.5" fill="#141414"/>
<rect x="1625.2" y="399.5" width="2.8" height="24.5" fill="#3c3c3c"/>
<rect x="1621.6" y="398.5" width="1.5" height="26.5" fill="#141414"/>
<rect x="1633.3" y="399.5" width="2.7" height="24.5" fill="#9a9a9a"/>
<rect x="1631.6" y="398.5" width="1.5" height="26.5" fill="#141414"/>
<rect x="1641.2" y="399.5" width="2.8" height="24.5" fill="#3c3c3c"/>
<rect x="1637.6" y="398.5" width="1.5" height="26.5" fill="#141414"/>
<rect x="1649.3" y="399.5" width="2.7" height="24.5" fill="#9a9a9a"/>
<rect x="1647.6" y="398.5" width="1.5" height="26.5" fill="#141414"/>
<rect x="1657.2" y="399.5" width="2.8" height="24.5" fill="#3c3c3c"/>
<rect x="1653.6" y="398.5" width="1.5" height="26.5" fill="#141414"/>
<rect x="1665.3" y="399.5" width="2.7" height="24.5" fill="#9a9a9a"/>
<rect x="1663.6" y="398.5" width="1.5" height="26.5" fill="#141414"/>
<rect x="1673.2" y="399.5" width="-2" height="24.5" fill="#3c3c3c"/>
<rect x="1669.6" y="398.5" width="1.5" height="26.5" fill="#141414"/>
<rect x="1557.3" y="398.5" width="114.7" height="26.5" stroke="#161616" stroke-width="1.4" fill="none" />
<rect x="1557.3" y="425" width="4.9" height="4" stroke="#161616" stroke-width="1.4" fill="#fff" />
<rect x="1562.5" y="425" width="33.7" height="23.6" fill="#fff"/>
<rect x="1566.4" y="426" width="2.8" height="21.6" fill="#3c3c3c"/>
<rect x="1562.8" y="425" width="1.5" height="23.6" fill="#141414"/>
<rect x="1574.5" y="426" width="2.7" height="21.6" fill="#9a9a9a"/>
<rect x="1572.8" y="425" width="1.5" height="23.6" fill="#141414"/>
<rect x="1582.4" y="426" width="2.8" height="21.6" fill="#3c3c3c"/>
<rect x="1578.8" y="425" width="1.5" height="23.6" fill="#141414"/>
<rect x="1590.5" y="426" width="2.7" height="21.6" fill="#9a9a9a"/>
<rect x="1588.8" y="425" width="1.5" height="23.6" fill="#141414"/>
<rect x="1598.4" y="426" width="-3" height="21.6" fill="#3c3c3c"/>
<rect x="1594.8" y="425" width="1.4" height="23.6" fill="#141414"/>
<rect x="1562.5" y="425" width="33.7" height="23.6" stroke="#161616" stroke-width="1.4" fill="none" />
<rect x="1562.5" y="447" width="33.7" height="2.3" fill="#161616"/>
<rect x="1598.9" y="425" width="33.4" height="23.6" fill="#fff"/>
<rect x="1602.8" y="426" width="2.8" height="21.6" fill="#3c3c3c"/>
<rect x="1599.2" y="425" width="1.5" height="23.6" fill="#141414"/>
<rect x="1610.9" y="426" width="2.7" height="21.6" fill="#9a9a9a"/>
<rect x="1609.2" y="425" width="1.5" height="23.6" fill="#141414"/>
<rect x="1618.8" y="426" width="2.8" height="21.6" fill="#3c3c3c"/>
<rect x="1615.2" y="425" width="1.5" height="23.6" fill="#141414"/>
<rect x="1626.9" y="426" width="2.7" height="21.6" fill="#9a9a9a"/>
<rect x="1625.2" y="425" width="1.5" height="23.6" fill="#141414"/>
<rect x="1634.8" y="426" width="-3.3" height="21.6" fill="#3c3c3c"/>
<rect x="1631.2" y="425" width="1.1" height="23.6" fill="#141414"/>
<rect x="1598.9" y="425" width="33.4" height="23.6" stroke="#161616" stroke-width="1.4" fill="none" />
<rect x="1598.9" y="447" width="33.4" height="2.3" fill="#161616"/>
<rect x="1635" y="425" width="35.2" height="23.6" fill="#fff"/>
<rect x="1638.9" y="426" width="2.8" height="21.6" fill="#3c3c3c"/>
<rect x="1635.3" y="425" width="1.5" height="23.6" fill="#141414"/>
<rect x="1647" y="426" width="2.7" height="21.6" fill="#9a9a9a"/>
<rect x="1645.3" y="425" width="1.5" height="23.6" fill="#141414"/>
<rect x="1654.9" y="426" width="2.8" height="21.6" fill="#3c3c3c"/>
<rect x="1651.3" y="425" width="1.5" height="23.6" fill="#141414"/>
<rect x="1663" y="426" width="2.7" height="21.6" fill="#9a9a9a"/>
<rect x="1661.3" y="425" width="1.5" height="23.6" fill="#141414"/>
<rect x="1670.9" y="426" width="-1.5" height="21.6" fill="#3c3c3c"/>
<rect x="1667.3" y="425" width="1.5" height="23.6" fill="#141414"/>
<rect x="1635" y="425" width="35.2" height="23.6" stroke="#161616" stroke-width="1.4" fill="none" />
<rect x="1635" y="447" width="35.2" height="2.3" fill="#161616"/>
<rect x="1670" y="398.5" width="3.3" height="30.5" fill="#2a2a2a"/>
<rect x="1557.3" y="489.8" width="77.9" height="18" stroke="#161616" stroke-width="2.8" fill="#fff" />
<rect x="1635.2" y="484.6" width="115.3" height="28.6" fill="#fff"/>
<rect x="1639.1" y="485.6" width="2.8" height="26.6" fill="#3c3c3c"/>
<rect x="1635.5" y="484.6" width="1.5" height="28.6" fill="#141414"/>
<rect x="1647.2" y="485.6" width="2.7" height="26.6" fill="#9a9a9a"/>
<rect x="1645.5" y="484.6" width="1.5" height="28.6" fill="#141414"/>
<rect x="1655.1" y="485.6" width="2.8" height="26.6" fill="#3c3c3c"/>
<rect x="1651.5" y="484.6" width="1.5" height="28.6" fill="#141414"/>
<rect x="1663.2" y="485.6" width="2.7" height="26.6" fill="#9a9a9a"/>
<rect x="1661.5" y="484.6" width="1.5" height="28.6" fill="#141414"/>
<rect x="1671.1" y="485.6" width="2.8" height="26.6" fill="#3c3c3c"/>
<rect x="1667.5" y="484.6" width="1.5" height="28.6" fill="#141414"/>
<rect x="1679.2" y="485.6" width="2.7" height="26.6" fill="#9a9a9a"/>
<rect x="1677.5" y="484.6" width="1.5" height="28.6" fill="#141414"/>
<rect x="1687.1" y="485.6" width="2.8" height="26.6" fill="#3c3c3c"/>
<rect x="1683.5" y="484.6" width="1.5" height="28.6" fill="#141414"/>
<rect x="1695.2" y="485.6" width="2.7" height="26.6" fill="#9a9a9a"/>
<rect x="1693.5" y="484.6" width="1.5" height="28.6" fill="#141414"/>
<rect x="1703.1" y="485.6" width="2.8" height="26.6" fill="#3c3c3c"/>
<rect x="1699.5" y="484.6" width="1.5" height="28.6" fill="#141414"/>
<rect x="1711.2" y="485.6" width="2.7" height="26.6" fill="#9a9a9a"/>
<rect x="1709.5" y="484.6" width="1.5" height="28.6" fill="#141414"/>
<rect x="1719.1" y="485.6" width="2.8" height="26.6" fill="#3c3c3c"/>
<rect x="1715.5" y="484.6" width="1.5" height="28.6" fill="#141414"/>
<rect x="1727.2" y="485.6" width="2.7" height="26.6" fill="#9a9a9a"/>
<rect x="1725.5" y="484.6" width="1.5" height="28.6" fill="#141414"/>
<rect x="1735.1" y="485.6" width="2.8" height="26.6" fill="#3c3c3c"/>
<rect x="1731.5" y="484.6" width="1.5" height="28.6" fill="#141414"/>
<rect x="1743.2" y="485.6" width="2.7" height="26.6" fill="#9a9a9a"/>
<rect x="1741.5" y="484.6" width="1.5" height="28.6" fill="#141414"/>
<rect x="1751.1" y="485.6" width="-1.4" height="26.6" fill="#3c3c3c"/>
<rect x="1747.5" y="484.6" width="1.5" height="28.6" fill="#141414"/>
<rect x="1635.2" y="484.6" width="115.3" height="28.6" stroke="#161616" stroke-width="1.4" fill="none" />
<rect x="1635.2" y="511.6" width="115.3" height="2.3" fill="#161616"/>
<rect x="1639" y="464.2" width="31.9" height="22.7" fill="#fff"/>
<rect x="1642.9" y="465.2" width="2.8" height="20.7" fill="#3c3c3c"/>
<rect x="1639.3" y="464.2" width="1.5" height="22.7" fill="#141414"/>
<rect x="1651" y="465.2" width="2.7" height="20.7" fill="#9a9a9a"/>
<rect x="1649.3" y="464.2" width="1.5" height="22.7" fill="#141414"/>
<rect x="1658.9" y="465.2" width="2.8" height="20.7" fill="#3c3c3c"/>
<rect x="1655.3" y="464.2" width="1.5" height="22.7" fill="#141414"/>
<rect x="1667" y="465.2" width="2.7" height="20.7" fill="#9a9a9a"/>
<rect x="1665.3" y="464.2" width="1.5" height="22.7" fill="#141414"/>
<rect x="1639" y="464.2" width="31.9" height="22.7" stroke="#161616" stroke-width="1.4" fill="none" />
<rect x="1675.3" y="464.2" width="33" height="22.7" fill="#fff"/>
<rect x="1679.2" y="465.2" width="2.8" height="20.7" fill="#3c3c3c"/>
<rect x="1675.6" y="464.2" width="1.5" height="22.7" fill="#141414"/>
<rect x="1687.3" y="465.2" width="2.7" height="20.7" fill="#9a9a9a"/>
<rect x="1685.6" y="464.2" width="1.5" height="22.7" fill="#141414"/>
<rect x="1695.2" y="465.2" width="2.8" height="20.7" fill="#3c3c3c"/>
<rect x="1691.6" y="464.2" width="1.5" height="22.7" fill="#141414"/>
<rect x="1703.3" y="465.2" width="2.7" height="20.7" fill="#9a9a9a"/>
<rect x="1701.6" y="464.2" width="1.5" height="22.7" fill="#141414"/>
<rect x="1675.3" y="464.2" width="33" height="22.7" stroke="#161616" stroke-width="1.4" fill="none" />
<rect x="1712.9" y="464.2" width="31.7" height="22.7" fill="#fff"/>
<rect x="1716.8" y="465.2" width="2.8" height="20.7" fill="#3c3c3c"/>
<rect x="1713.2" y="464.2" width="1.5" height="22.7" fill="#141414"/>
<rect x="1724.9" y="465.2" width="2.7" height="20.7" fill="#9a9a9a"/>
<rect x="1723.2" y="464.2" width="1.5" height="22.7" fill="#141414"/>
<rect x="1732.8" y="465.2" width="2.8" height="20.7" fill="#3c3c3c"/>
<rect x="1729.2" y="464.2" width="1.5" height="22.7" fill="#141414"/>
<rect x="1740.9" y="465.2" width="2.7" height="20.7" fill="#9a9a9a"/>
<rect x="1739.2" y="464.2" width="1.5" height="22.7" fill="#141414"/>
<rect x="1712.9" y="464.2" width="31.7" height="22.7" stroke="#161616" stroke-width="1.4" fill="none" />
<rect x="1634.9" y="484.4" width="4.2" height="28.8" fill="#2a2a2a"/>
<rect x="254.9" y="450.8" width="18.2" height="197.9" stroke="#161616" stroke-width="2.6" fill="#fff" />
<line x1="254.9" y1="500.8" x2="273.1" y2="500.8" stroke="#161616" stroke-width="2.4" />
<line x1="254.9" y1="599.8" x2="273.1" y2="599.8" stroke="#161616" stroke-width="2.4" />
<circle cx="264" cy="460.8" r="4" stroke="#161616" stroke-width="2" fill="#fff"/>
<circle cx="264" cy="510.2" r="4" stroke="#161616" stroke-width="2" fill="#fff"/>
<circle cx="264" cy="590.4" r="4" stroke="#161616" stroke-width="2" fill="#fff"/>
<circle cx="264" cy="640" r="4" stroke="#161616" stroke-width="2" fill="#fff"/>
<text x="264.5" y="541.8" font-size="24" fill="#888" text-anchor="middle" stroke="#fff" stroke-width="0.5" textLength="15" lengthAdjust="spacingAndGlyphs">PE</text>
<text x="243.5" y="647.6" font-size="22" fill="#444" text-anchor="middle" stroke="#fff" stroke-width="0.6" >N</text>
<rect x="106.5" y="465" width="23.8" height="26.5" stroke="#161616" stroke-width="2.4" fill="#fff" />
<rect x="106.5" y="603.8" width="23.8" height="27.2" stroke="#161616" stroke-width="2.4" fill="#fff" />
<circle cx="118.4" cy="479.8" r="4.3" stroke="#161616" stroke-width="2.1" fill="#fff"/>
<circle cx="118.4" cy="616.7" r="4.3" stroke="#161616" stroke-width="2.1" fill="#fff"/>
<rect x="152.4" y="465" width="23.5" height="26.5" stroke="#161616" stroke-width="2.4" fill="#fff" />
<rect x="152.4" y="603.8" width="23.5" height="27.2" stroke="#161616" stroke-width="2.4" fill="#fff" />
<circle cx="164.15" cy="479.8" r="4.3" stroke="#161616" stroke-width="2.1" fill="#fff"/>
<circle cx="164.15" cy="616.7" r="4.3" stroke="#161616" stroke-width="2.1" fill="#fff"/>
<rect x="198.2" y="465" width="23.5" height="26.5" stroke="#161616" stroke-width="2.4" fill="#fff" />
<rect x="198.2" y="603.8" width="23.5" height="27.2" stroke="#161616" stroke-width="2.4" fill="#fff" />
<circle cx="209.95" cy="479.8" r="4.3" stroke="#161616" stroke-width="2.1" fill="#fff"/>
<circle cx="209.95" cy="616.7" r="4.3" stroke="#161616" stroke-width="2.1" fill="#fff"/>
<rect x="81.4" y="491.5" width="162.1" height="112.3" stroke="#161616" stroke-width="2.6" fill="#fff" />
<rect x="111.9" y="495" width="58.6" height="106.5" stroke="#161616" stroke-width="4.6" fill="none" />
<path d="M168.9,522 L150,513.5 Q142,511 136,511.2 Q119.4,514 119.4,533.8 Q119.4,553.5 136,556.4 Q142,556.6 150,554 L168.9,546.4" stroke="#161616" stroke-width="2.6" fill="#fff" />
<path d="M139,515 L166,526.5" stroke="#161616" stroke-width="2.4" fill="none" />
<path d="M139,552.5 L166,541.2" stroke="#161616" stroke-width="2.4" fill="none" />
<line x1="136" y1="533.8" x2="166" y2="533.8" stroke="#161616" stroke-width="2.8" />
<rect x="164.7" y="526.2" width="5" height="15.1" fill="#161616"/>
<path d="M169.7,522 L211,522 Q217.5,522 217.5,534.2 Q217.5,546.4 211,546.4 L169.7,546.4" stroke="#161616" stroke-width="2.6" fill="#fff" />
<line x1="190.6" y1="528" x2="190.6" y2="538.8" stroke="#161616" stroke-width="2" />
<circle cx="81" cy="138" r="8.1" stroke="#161616" stroke-width="2.6" fill="#fff"/>
<circle cx="81" cy="330.6" r="8.1" stroke="#161616" stroke-width="2.6" fill="#fff"/>
<circle cx="273.4" cy="138" r="8.1" stroke="#161616" stroke-width="2.6" fill="#fff"/>
<circle cx="273.4" cy="330.6" r="8.1" stroke="#161616" stroke-width="2.6" fill="#fff"/>
<circle cx="292" cy="138" r="8.1" stroke="#161616" stroke-width="2.6" fill="#fff"/>
<circle cx="292" cy="330.6" r="8.1" stroke="#161616" stroke-width="2.6" fill="#fff"/>
<circle cx="484.4" cy="138" r="8.1" stroke="#161616" stroke-width="2.6" fill="#fff"/>
<circle cx="484.4" cy="330.6" r="8.1" stroke="#161616" stroke-width="2.6" fill="#fff"/>
<circle cx="503" cy="138" r="8.1" stroke="#161616" stroke-width="2.6" fill="#fff"/>
<circle cx="503" cy="330.6" r="8.1" stroke="#161616" stroke-width="2.6" fill="#fff"/>
<circle cx="695.4" cy="138" r="8.1" stroke="#161616" stroke-width="2.6" fill="#fff"/>
<circle cx="695.4" cy="330.6" r="8.1" stroke="#161616" stroke-width="2.6" fill="#fff"/>
<circle cx="714" cy="138" r="8.1" stroke="#161616" stroke-width="2.6" fill="#fff"/>
<circle cx="714" cy="330.6" r="8.1" stroke="#161616" stroke-width="2.6" fill="#fff"/>
<circle cx="906.4" cy="138" r="8.1" stroke="#161616" stroke-width="2.6" fill="#fff"/>
<circle cx="906.4" cy="330.6" r="8.1" stroke="#161616" stroke-width="2.6" fill="#fff"/>
<circle cx="925" cy="138" r="8.1" stroke="#161616" stroke-width="2.6" fill="#fff"/>
<circle cx="925" cy="330.6" r="8.1" stroke="#161616" stroke-width="2.6" fill="#fff"/>
<circle cx="1117.4" cy="138" r="8.1" stroke="#161616" stroke-width="2.6" fill="#fff"/>
<circle cx="1117.4" cy="330.6" r="8.1" stroke="#161616" stroke-width="2.6" fill="#fff"/>
<circle cx="1136" cy="138" r="8.1" stroke="#161616" stroke-width="2.6" fill="#fff"/>
<circle cx="1136" cy="330.6" r="8.1" stroke="#161616" stroke-width="2.6" fill="#fff"/>
<circle cx="1328.4" cy="138" r="8.1" stroke="#161616" stroke-width="2.6" fill="#fff"/>
<circle cx="1328.4" cy="330.6" r="8.1" stroke="#161616" stroke-width="2.6" fill="#fff"/>
<circle cx="1347" cy="138" r="8.1" stroke="#161616" stroke-width="2.6" fill="#fff"/>
<circle cx="1347" cy="330.6" r="8.1" stroke="#161616" stroke-width="2.6" fill="#fff"/>
<circle cx="1539.4" cy="138" r="8.1" stroke="#161616" stroke-width="2.6" fill="#fff"/>
<circle cx="1539.4" cy="330.6" r="8.1" stroke="#161616" stroke-width="2.6" fill="#fff"/>
<circle cx="1558" cy="138" r="8.1" stroke="#161616" stroke-width="2.6" fill="#fff"/>
<circle cx="1558" cy="330.6" r="8.1" stroke="#161616" stroke-width="2.6" fill="#fff"/>
<circle cx="1750.4" cy="138" r="8.1" stroke="#161616" stroke-width="2.6" fill="#fff"/>
<circle cx="1750.4" cy="330.6" r="8.1" stroke="#161616" stroke-width="2.6" fill="#fff"/>
<circle cx="81" cy="348.2" r="8.1" stroke="#161616" stroke-width="2.6" fill="#fff"/>
<circle cx="81" cy="751.6" r="8.1" stroke="#161616" stroke-width="2.6" fill="#fff"/>
<circle cx="273.4" cy="348.2" r="8.1" stroke="#161616" stroke-width="2.6" fill="#fff"/>
<circle cx="273.4" cy="751.6" r="8.1" stroke="#161616" stroke-width="2.6" fill="#fff"/>
<circle cx="292" cy="348.2" r="8.1" stroke="#161616" stroke-width="2.6" fill="#fff"/>
<circle cx="292" cy="751.6" r="8.1" stroke="#161616" stroke-width="2.6" fill="#fff"/>
<circle cx="484.4" cy="348.2" r="8.1" stroke="#161616" stroke-width="2.6" fill="#fff"/>
<circle cx="484.4" cy="751.6" r="8.1" stroke="#161616" stroke-width="2.6" fill="#fff"/>
<circle cx="503" cy="348.2" r="8.1" stroke="#161616" stroke-width="2.6" fill="#fff"/>
<circle cx="503" cy="540.8" r="8.1" stroke="#161616" stroke-width="2.6" fill="#fff"/>
<circle cx="695.4" cy="348.2" r="8.1" stroke="#161616" stroke-width="2.6" fill="#fff"/>
<circle cx="695.4" cy="540.8" r="8.1" stroke="#161616" stroke-width="2.6" fill="#fff"/>
<circle cx="714" cy="348.2" r="8.1" stroke="#161616" stroke-width="2.6" fill="#fff"/>
<circle cx="714" cy="540.8" r="8.1" stroke="#161616" stroke-width="2.6" fill="#fff"/>
<circle cx="906.4" cy="348.2" r="8.1" stroke="#161616" stroke-width="2.6" fill="#fff"/>
<circle cx="906.4" cy="540.8" r="8.1" stroke="#161616" stroke-width="2.6" fill="#fff"/>
<circle cx="925" cy="348.2" r="8.1" stroke="#161616" stroke-width="2.6" fill="#fff"/>
<circle cx="925" cy="540.8" r="8.1" stroke="#161616" stroke-width="2.6" fill="#fff"/>
<circle cx="1117.4" cy="348.2" r="8.1" stroke="#161616" stroke-width="2.6" fill="#fff"/>
<circle cx="1117.4" cy="540.8" r="8.1" stroke="#161616" stroke-width="2.6" fill="#fff"/>
<circle cx="1136" cy="348.2" r="8.1" stroke="#161616" stroke-width="2.6" fill="#fff"/>
<circle cx="1136" cy="540.8" r="8.1" stroke="#161616" stroke-width="2.6" fill="#fff"/>
<circle cx="1328.4" cy="348.2" r="8.1" stroke="#161616" stroke-width="2.6" fill="#fff"/>
<circle cx="1328.4" cy="540.8" r="8.1" stroke="#161616" stroke-width="2.6" fill="#fff"/>
<circle cx="1347" cy="348.2" r="8.1" stroke="#161616" stroke-width="2.6" fill="#fff"/>
<circle cx="1347" cy="540.8" r="8.1" stroke="#161616" stroke-width="2.6" fill="#fff"/>
<circle cx="1539.4" cy="348.2" r="8.1" stroke="#161616" stroke-width="2.6" fill="#fff"/>
<circle cx="1539.4" cy="540.8" r="8.1" stroke="#161616" stroke-width="2.6" fill="#fff"/>
<circle cx="1558" cy="348.2" r="8.1" stroke="#161616" stroke-width="2.6" fill="#fff"/>
<circle cx="1558" cy="540.8" r="8.1" stroke="#161616" stroke-width="2.6" fill="#fff"/>
<circle cx="1750.4" cy="348.2" r="8.1" stroke="#161616" stroke-width="2.6" fill="#fff"/>
<circle cx="1750.4" cy="540.8" r="8.1" stroke="#161616" stroke-width="2.6" fill="#fff"/>
<circle cx="81" cy="769.7" r="8.1" stroke="#161616" stroke-width="2.6" fill="#fff"/>
<circle cx="81" cy="857" r="8.1" stroke="#161616" stroke-width="2.6" fill="#fff"/>
<circle cx="273.4" cy="769.7" r="8.1" stroke="#161616" stroke-width="2.6" fill="#fff"/>
<circle cx="273.4" cy="857" r="8.1" stroke="#161616" stroke-width="2.6" fill="#fff"/>
<rect x="1832.1" y="48.7" width="8.6" height="916.1" stroke="#161616" stroke-width="2.6" fill="#fff" />
<rect x="1814.4" y="159.6" width="17.1" height="39.6" stroke="#161616" stroke-width="2.6" fill="#fff" />
<rect x="1814.4" y="815.3" width="17.1" height="39.9" stroke="#161616" stroke-width="2.6" fill="#fff" />
<line x1="1847.2" y1="128.6" x2="1847.2" y2="867" stroke="#999" stroke-width="1.6" />
<rect x="1840.7" y="136.4" width="7.2" height="22.8" fill="#222"/>
<rect x="1843.6" y="138.2" width="2.5" height="19.4" fill="#fff"/>
<rect x="1840.7" y="840.7" width="7.2" height="18.2" fill="#222"/>
<rect x="1843.6" y="842.5" width="2.5" height="14.8" fill="#fff"/>
<rect x="1849.3" y="128.6" width="125.1" height="739.3" stroke="#161616" stroke-width="2.8" fill="#fff" />
<line x1="1930.7" y1="128.6" x2="1930.7" y2="877.8" stroke="#161616" stroke-width="2.8" />
<path d="M1849.3,867.9 L1849.3,874 Q1849.3,877.8 1853,877.8 L1927,877.8 Q1930.7,877.8 1930.7,874 L1930.7,867.9" stroke="#161616" stroke-width="2.6" fill="none" />
<rect x="1851.6" y="878.5" width="77.9" height="8.23" fill="#1c1c1c" rx="1"/>
<rect x="1854.6" y="880.7" width="71.9" height="3.4" fill="#fff"/>
<rect x="1854.46" y="886.33" width="72.07" height="8.23" fill="#1c1c1c" rx="1"/>
<rect x="1857.46" y="888.53" width="66.07" height="3.4" fill="#fff"/>
<rect x="1857.31" y="894.15" width="66.24" height="8.23" fill="#1c1c1c" rx="1"/>
<rect x="1862.31" y="898.46" width="56.24" height="2.0" fill="#8c8c8c"/>
<rect x="1860.17" y="901.98" width="60.41" height="8.23" fill="#1c1c1c" rx="1"/>
<rect x="1865.17" y="906.28" width="50.41" height="2.0" fill="#8c8c8c"/>
<rect x="1863.03" y="909.8" width="54.59" height="8.23" fill="#1c1c1c" rx="1"/>
<rect x="1868.03" y="914.11" width="44.59" height="2.0" fill="#8c8c8c"/>
<rect x="1865.89" y="917.63" width="48.76" height="8.23" fill="#1c1c1c" rx="1"/>
<rect x="1870.89" y="921.93" width="38.76" height="2.0" fill="#8c8c8c"/>
<rect x="1868.74" y="925.45" width="42.93" height="8.23" fill="#1c1c1c" rx="1"/>
<rect x="1873.74" y="929.76" width="32.93" height="2.0" fill="#8c8c8c"/>
<rect x="1871.6" y="933.28" width="37.1" height="12.92" fill="#1c1c1c" rx="1"/>
<rect x="1974.4" y="502.3" width="8.3" height="53.7" stroke="#161616" stroke-width="2.4" fill="#fff" />
<rect x="1982.7" y="509" width="6.2" height="40.2" stroke="#161616" stroke-width="2.2" fill="#aaa" />
<rect x="1988.9" y="516.6" width="4.7" height="25.8" stroke="#161616" stroke-width="2.2" fill="#aaa" />
<rect x="1993.6" y="522.7" width="7.4" height="12.3" stroke="#161616" stroke-width="2.2" fill="#bbb" />
</svg>
</body></html>
